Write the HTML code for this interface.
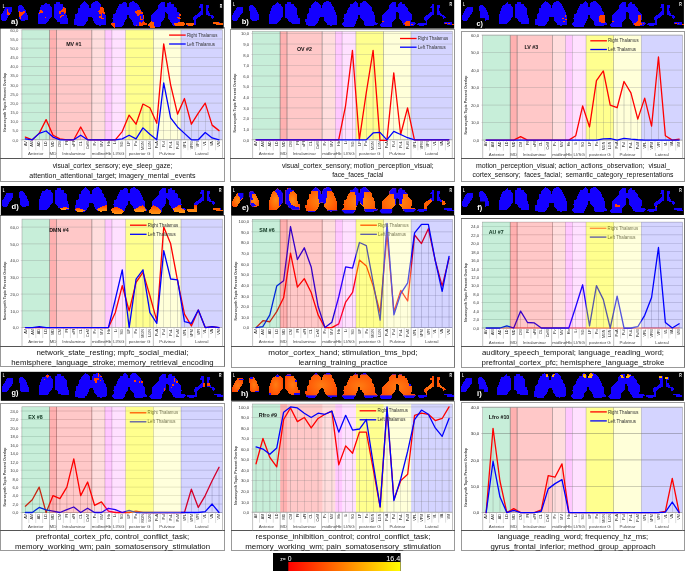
<!DOCTYPE html>
<html lang="en">
<head>
<meta charset="utf-8">
<title>Thalamic nuclei - Neurosynth topic overlap</title>
<style>
html,body{margin:0;padding:0;background:#fff;}
body{width:685px;height:571px;overflow:hidden;}
svg{display:block;font-family:"Liberation Sans", sans-serif;}
svg polygon{shape-rendering:crispEdges;}
</style>
</head>
<body>
<svg width="685" height="571" viewBox="0 0 685 571">
<defs>
<linearGradient id="gBar" x1="0" y1="0" x2="1" y2="0">
<stop offset="0" stop-color="#ff0000"/><stop offset="0.5" stop-color="#ff8000"/><stop offset="1" stop-color="#ffff00"/>
</linearGradient>
<linearGradient id="gO" x1="0" y1="0" x2="0" y2="1">
<stop offset="0" stop-color="#ff3a00"/><stop offset="0.55" stop-color="#ff7a08"/><stop offset="1" stop-color="#ff9414"/>
</linearGradient>
<radialGradient id="gE" cx="0.5" cy="0.55" r="0.6">
<stop offset="0" stop-color="#ff8c14"/><stop offset="0.55" stop-color="#ff6c08"/><stop offset="1" stop-color="#ff4800"/>
</radialGradient>
<radialGradient id="gH" cx="0.5" cy="0.5" r="0.65">
<stop offset="0" stop-color="#ff7c12"/><stop offset="0.55" stop-color="#ff5e08"/><stop offset="1" stop-color="#ff3e00"/>
</radialGradient>
<linearGradient id="gY" x1="0" y1="0" x2="0" y2="1">
<stop offset="0" stop-color="#ff7a00"/><stop offset="0.6" stop-color="#ffc000"/><stop offset="1" stop-color="#ffa000"/>
</linearGradient>
<clipPath id="clipMask"><polygon points="5.8,6.7 12.0,6.7 12.0,11.0 10.8,13.2 9.3,15.2 7.6,17.5 6.4,19.6 5.2,20.7 1.6,20.7 0.9,19.6 0.9,15.2 1.8,13.7 2.9,11.7 4.1,9.6 5.0,8.2"/><polygon points="19.0,5.3 21.9,5.3 23.1,6.7 24.2,8.2 25.1,9.6 26.0,11.7 26.6,13.4 27.6,15.2 27.6,20.4 20.7,20.7 19.0,18.7 19.0,13.4 18.4,11.7 17.7,9.6 17.7,6.7 18.4,5.8"/><polygon points="45.5,3.0 46.2,2.3 46.8,3.0 47.6,4.0 50.0,4.2 50.0,5.5 51.4,7.0 51.4,16.6 50.0,18.4 48.8,20.1 47.4,21.9 45.9,23.7 37.4,23.7 37.4,15.2 38.9,12.3 40.0,8.2 41.5,5.3 43.2,5.3 44.7,3.8"/><polygon points="55.8,2.3 59.6,2.3 59.6,3.8 62.5,4.1 62.5,5.8 64.0,7.0 65.4,8.5 65.4,15.2 66.9,15.5 66.9,18.1 68.1,18.4 68.1,23.7 60.2,23.7 59.9,22.2 57.3,21.9 57.0,20.1 55.5,18.7 54.0,17.5 54.0,4.4 55.8,3.8"/><polygon points="84.4,1.1 86.4,2.6 87.9,4.1 89.3,5.3 89.3,7.9 90.8,7.9 90.8,5.3 92.3,2.6 94.6,2.3 95.2,1.1 97.5,1.1 99.3,2.6 100.7,4.4 100.7,5.8 102.8,8.2 103.4,11.1 104.5,12.3 104.8,14.9 106.0,15.2 106.0,24.7 100.7,24.8 100.4,26.0 99.3,26.0 98.7,25.1 96.3,24.8 95.2,23.4 93.7,21.9 92.8,19.9 92.3,17.5 91.4,16.6 89.3,16.6 88.2,17.5 87.9,19.9 86.4,21.9 85.8,23.4 84.1,24.8 83.5,26.0 77.1,26.0 76.5,25.1 74.2,24.8 74.0,19.3 75.3,18.7 75.3,14.0 76.5,13.7 77.7,12.3 78.0,8.2 79.4,7.6 79.7,5.3 81.2,4.1 82.6,2.6"/><polygon points="123.8,1.1 125.9,2.6 127.0,2.9 127.0,6.7 128.8,6.7 128.8,2.9 130.8,2.3 132.0,1.1 133.8,1.1 135.5,2.6 137.3,4.4 138.7,5.8 140.2,7.6 140.8,10.5 142.2,12.3 142.5,14.6 144.0,15.2 144.0,21.6 146.6,23.9 145.4,24.8 142.5,25.1 141.9,26.0 134.3,26.0 132.9,24.5 132.6,21.9 131.4,20.4 130.3,18.7 128.8,17.5 128.8,15.2 127.0,15.2 127.0,18.1 125.6,19.9 124.4,21.9 124.1,24.5 122.7,26.0 121.8,27.4 113.3,27.4 111.9,26.0 110.1,24.2 112.7,21.9 113.0,19.6 111.6,18.7 113.0,17.5 113.0,14.0 114.5,13.7 115.7,12.3 116.0,10.5 117.4,7.6 118.6,5.8 118.9,4.1 121.5,3.8 122.7,2.3"/><polygon points="161.0,2.3 164.8,2.3 165.0,3.8 165.0,6.7 166.5,6.7 166.8,4.1 168.0,2.6 170.6,2.3 170.9,3.8 173.5,4.1 173.8,6.4 175.3,6.7 176.7,8.5 176.7,11.1 178.8,12.6 180.2,14.0 180.5,19.3 179.4,20.7 179.4,21.9 183.4,22.2 184.6,23.7 183.1,25.1 182.3,26.0 174.1,26.3 172.1,24.5 170.9,22.2 169.4,20.4 168.0,18.7 167.7,14.0 166.8,12.6 165.0,12.3 165.0,17.5 163.6,19.3 162.4,20.7 161.0,22.2 160.7,26.0 159.5,27.4 150.2,27.4 148.1,25.1 149.3,23.4 150.7,22.2 151.0,15.5 152.5,14.0 154.0,12.6 155.4,11.1 156.9,9.6 158.0,8.2 158.0,5.3 159.5,3.8"/></clipPath>
<clipPath id="clipH"><rect x="0" y="2.6" width="186" height="21"/><rect x="186" y="0" width="40" height="23.2"/></clipPath>
</defs>
<!-- panel a -->
<rect x="0.5" y="27.5" width="224.0" height="154.0" fill="#fff" stroke="#999" stroke-width="1"/>
<line x1="0.00" y1="158.50" x2="225.00" y2="158.50" stroke="#555" stroke-width="1"/>
<g transform="translate(0.0,0.0)">
<rect x="0.0" y="0.0" width="223.7" height="28.6" fill="#000"/>
<g transform="translate(0.1,0)">
<polygon points="5.8,6.7 12.0,6.7 12.0,11.0 10.8,13.2 9.3,15.2 7.6,17.5 6.4,19.6 5.2,20.7 1.6,20.7 0.9,19.6 0.9,15.2 1.8,13.7 2.9,11.7 4.1,9.6 5.0,8.2" fill="#1400ff"/>
<polygon points="19.0,5.3 21.9,5.3 23.1,6.7 24.2,8.2 25.1,9.6 26.0,11.7 26.6,13.4 27.6,15.2 27.6,20.4 20.7,20.7 19.0,18.7 19.0,13.4 18.4,11.7 17.7,9.6 17.7,6.7 18.4,5.8" fill="#1400ff"/>
<polygon points="45.5,3.0 46.2,2.3 46.8,3.0 47.6,4.0 50.0,4.2 50.0,5.5 51.4,7.0 51.4,16.6 50.0,18.4 48.8,20.1 47.4,21.9 45.9,23.7 37.4,23.7 37.4,15.2 38.9,12.3 40.0,8.2 41.5,5.3 43.2,5.3 44.7,3.8" fill="#1400ff"/>
<polygon points="55.8,2.3 59.6,2.3 59.6,3.8 62.5,4.1 62.5,5.8 64.0,7.0 65.4,8.5 65.4,15.2 66.9,15.5 66.9,18.1 68.1,18.4 68.1,23.7 60.2,23.7 59.9,22.2 57.3,21.9 57.0,20.1 55.5,18.7 54.0,17.5 54.0,4.4 55.8,3.8" fill="#1400ff"/>
<polygon points="84.4,1.1 86.4,2.6 87.9,4.1 89.3,5.3 89.3,7.9 90.8,7.9 90.8,5.3 92.3,2.6 94.6,2.3 95.2,1.1 97.5,1.1 99.3,2.6 100.7,4.4 100.7,5.8 102.8,8.2 103.4,11.1 104.5,12.3 104.8,14.9 106.0,15.2 106.0,24.7 100.7,24.8 100.4,26.0 99.3,26.0 98.7,25.1 96.3,24.8 95.2,23.4 93.7,21.9 92.8,19.9 92.3,17.5 91.4,16.6 89.3,16.6 88.2,17.5 87.9,19.9 86.4,21.9 85.8,23.4 84.1,24.8 83.5,26.0 77.1,26.0 76.5,25.1 74.2,24.8 74.0,19.3 75.3,18.7 75.3,14.0 76.5,13.7 77.7,12.3 78.0,8.2 79.4,7.6 79.7,5.3 81.2,4.1 82.6,2.6" fill="#1400ff"/>
<polygon points="123.8,1.1 125.9,2.6 127.0,2.9 127.0,6.7 128.8,6.7 128.8,2.9 130.8,2.3 132.0,1.1 133.8,1.1 135.5,2.6 137.3,4.4 138.7,5.8 140.2,7.6 140.8,10.5 142.2,12.3 142.5,14.6 144.0,15.2 144.0,21.6 146.6,23.9 145.4,24.8 142.5,25.1 141.9,26.0 134.3,26.0 132.9,24.5 132.6,21.9 131.4,20.4 130.3,18.7 128.8,17.5 128.8,15.2 127.0,15.2 127.0,18.1 125.6,19.9 124.4,21.9 124.1,24.5 122.7,26.0 121.8,27.4 113.3,27.4 111.9,26.0 110.1,24.2 112.7,21.9 113.0,19.6 111.6,18.7 113.0,17.5 113.0,14.0 114.5,13.7 115.7,12.3 116.0,10.5 117.4,7.6 118.6,5.8 118.9,4.1 121.5,3.8 122.7,2.3" fill="#1400ff"/>
<polygon points="161.0,2.3 164.8,2.3 165.0,3.8 165.0,6.7 166.5,6.7 166.8,4.1 168.0,2.6 170.6,2.3 170.9,3.8 173.5,4.1 173.8,6.4 175.3,6.7 176.7,8.5 176.7,11.1 178.8,12.6 180.2,14.0 180.5,19.3 179.4,20.7 179.4,21.9 183.4,22.2 184.6,23.7 183.1,25.1 182.3,26.0 174.1,26.3 172.1,24.5 170.9,22.2 169.4,20.4 168.0,18.7 167.7,14.0 166.8,12.6 165.0,12.3 165.0,17.5 163.6,19.3 162.4,20.7 161.0,22.2 160.7,26.0 159.5,27.4 150.2,27.4 148.1,25.1 149.3,23.4 150.7,22.2 151.0,15.5 152.5,14.0 154.0,12.6 155.4,11.1 156.9,9.6 158.0,8.2 158.0,5.3 159.5,3.8" fill="#1400ff"/>
<polygon points="200.1,4.0 202.8,4.0 202.8,14.7 201.3,15.0 199.5,16.6 197.9,17.8 196.1,19.6 195.8,24.8 194.2,24.8 194.2,20.8 193.0,20.2 193.0,17.2 194.5,15.6 196.1,15.3 197.6,13.8 199.1,12.3 200.4,11.3 200.4,8.3 198.8,8.0 198.8,6.7 200.1,6.1" fill="#1400ff"/>
<polygon points="186.3,23.3 195.8,23.0 195.8,24.8 192.7,25.1 192.7,26.1 188.1,26.1 186.0,24.5" fill="#1400ff"/>
<polygon points="205.9,5.2 208.7,5.2 208.7,7.7 207.4,8.0 207.4,10.7 208.7,11.0 208.7,13.2 210.2,13.8 210.2,14.7 212.9,15.0 212.9,16.2 214.2,16.9 214.2,17.8 212.9,18.1 212.9,19.3 211.4,19.3 211.4,17.8 210.2,16.2 208.7,15.9 207.4,15.0 205.9,14.7" fill="#1400ff"/>
<polygon points="212.9,22.1 220.3,22.1 220.3,23.6 222.1,23.6 222.1,24.8 216.0,24.8 216.0,23.6 212.9,23.6" fill="#1400ff"/>
<polygon points="6.7,9.3 7.9,9.3 8.2,12.0 9.6,12.6 9.6,14.6 7.0,14.9 6.7,11.7" fill="#ff4200"/>
<polygon points="19.3,11.4 21.9,12.0 23.4,11.4 25.1,11.1 25.1,13.1 23.4,14.0 21.9,15.2 21.0,16.9 20.7,19.3 19.9,19.3 19.3,16.4" fill="#ff4200"/>
<polygon points="40.3,9.6 41.7,9.6 42.0,11.1 43.2,11.4 42.9,12.6 40.5,12.6 40.3,14.0 38.8,14.0 38.8,12.3 40.3,11.7" fill="#ff4200"/>
<polygon points="44.5,16.5 46.0,16.5 46.0,18.0 44.5,18.0" fill="#ff4200"/>
<polygon points="63.0,6.7 64.2,6.7 64.5,8.2 65.9,8.5 65.9,12.6 64.2,14.0 63.9,15.8 62.4,16.4 61.0,16.9 61.0,18.1 59.8,18.1 59.8,16.6 61.0,15.2 60.7,14.0 58.9,13.7 58.6,11.7 60.4,11.1 61.9,9.6 63.0,8.2" fill="#ff4200"/>
<polygon points="61.2,12.4 63.4,12.4 63.4,14.6 61.2,14.6" fill="#1400ff"/>
<polygon points="100.9,6.7 102.4,6.7 103.8,8.5 103.8,11.1 105.0,12.3 105.0,13.7 103.5,14.0 102.4,12.6 102.1,14.0 102.4,17.5 103.5,18.1 103.5,19.3 101.8,19.3 100.6,17.8 99.2,17.5 99.2,15.8 100.6,15.5 100.6,14.0 99.2,13.7 99.2,12.3 98.0,12.0 98.0,11.1 99.4,9.6 99.4,8.2" fill="#ff4200"/>
<polygon points="110.3,23.7 111.8,23.1 114.7,23.4 115.0,27.7 113.5,27.7 113.0,26.3 111.2,25.1" fill="#ff4200"/>
<polygon points="134.3,11.1 136.9,10.8 138.1,9.6 140.1,9.9 141.3,11.7 142.7,12.3 142.7,14.0 141.3,14.3 139.8,14.6 138.4,16.4 137.2,16.1 136.9,14.0 135.4,12.6" fill="#ff4200"/>
<polygon points="139.8,16.4 141.3,16.4 141.3,20.4 139.8,20.4" fill="#ff4200"/>
<polygon points="143.0,15.2 144.2,15.2 144.2,19.3 143.0,19.3" fill="#ff4200"/>
<polygon points="141.3,18.7 143.0,18.7 143.0,20.4 141.3,20.4" fill="#ff4200"/>
<polygon points="138.9,22.2 140.7,22.2 141.3,23.4 143.0,21.0 144.2,21.3 145.4,22.8 146.8,23.7 146.5,25.1 143.0,25.4 142.5,26.0 138.9,26.0" fill="#ff4200"/>
<polygon points="135.7,24.8 137.2,24.8 137.2,26.0 135.7,26.0" fill="#ff4200"/>
<polygon points="148.3,24.5 150.1,22.2 151.8,21.0 153.6,22.5 153.9,25.7 155.3,26.0 155.3,27.7 150.1,27.7 149.8,26.0 148.3,25.7" fill="#ff5e00"/>
<polygon points="179.3,13.7 181.0,13.7 181.0,16.1 179.3,16.1" fill="#ff4200"/>
<polygon points="176.7,16.6 178.7,16.6 179.6,17.5 181.0,17.8 181.0,19.3 178.7,19.3 177.5,18.1 176.7,17.8" fill="#ff4200"/>
<polygon points="174.0,23.4 178.1,23.1 178.7,21.9 183.4,22.2 184.8,23.4 184.5,24.8 183.1,26.0 174.9,26.0 174.0,24.8" fill="#ff5e00"/>
<polygon points="146.0,23.4 146.9,23.4 146.9,24.8 146.0,24.8" fill="#ff4200"/>
<polygon points="186.1,23.2 193.8,23.0 193.8,25.0 192.0,25.8 188.0,25.8 186.1,24.5" fill="#ff5e00"/>
<polygon points="212.8,22.1 218.5,22.1 219.0,23.2 222.9,23.2 222.9,24.8 216.0,24.8 215.5,23.6 212.8,23.6" fill="#ff5e00"/>
</g>
<text x="2.8" y="7.8" font-size="5.2" font-weight="bold" fill="#fff" textLength="1.9" lengthAdjust="spacingAndGlyphs">L</text>
<text x="219.8" y="7.7" font-size="5.2" font-weight="bold" fill="#fff" textLength="2.5" lengthAdjust="spacingAndGlyphs">R</text>
<text x="11.0" y="23.9" font-size="7.7" font-weight="bold" fill="#fff" textLength="7.1" lengthAdjust="spacingAndGlyphs">a)</text>
</g>
<rect x="21.9" y="29.8" width="27.7" height="110.0" fill="#00b050" fill-opacity="0.220"/>
<rect x="49.6" y="29.8" width="6.9" height="110.0" fill="#ff0000" fill-opacity="0.310"/>
<rect x="56.5" y="29.8" width="35.3" height="110.0" fill="#ff0000" fill-opacity="0.215"/>
<rect x="91.8" y="29.8" width="13.1" height="110.0" fill="#ff0000" fill-opacity="0.135"/>
<rect x="104.9" y="29.8" width="6.9" height="110.0" fill="#ff00ff" fill-opacity="0.215"/>
<rect x="111.8" y="29.8" width="13.8" height="110.0" fill="#ff00ff" fill-opacity="0.120"/>
<rect x="125.7" y="29.8" width="27.7" height="110.0" fill="#ffff00" fill-opacity="0.440"/>
<rect x="153.3" y="29.8" width="27.7" height="110.0" fill="#ffff00" fill-opacity="0.150"/>
<rect x="181.0" y="29.8" width="41.5" height="110.0" fill="#0000ff" fill-opacity="0.170"/>
<line x1="20.60" y1="139.80" x2="222.50" y2="139.80" stroke="#777" stroke-width="0.5" opacity="0.62"/>
<text x="18.4" y="141.65" font-size="4.2" fill="#505050" text-anchor="end">0,0</text>
<line x1="20.60" y1="130.63" x2="222.50" y2="130.63" stroke="#7f7f7f" stroke-width="0.45" opacity="0.62"/>
<text x="18.4" y="132.48" font-size="4.2" fill="#505050" text-anchor="end">5,0</text>
<line x1="20.60" y1="121.47" x2="222.50" y2="121.47" stroke="#7f7f7f" stroke-width="0.45" opacity="0.62"/>
<text x="18.4" y="123.32" font-size="4.2" fill="#505050" text-anchor="end">10,0</text>
<line x1="20.60" y1="112.30" x2="222.50" y2="112.30" stroke="#7f7f7f" stroke-width="0.45" opacity="0.62"/>
<text x="18.4" y="114.15" font-size="4.2" fill="#505050" text-anchor="end">15,0</text>
<line x1="20.60" y1="103.13" x2="222.50" y2="103.13" stroke="#7f7f7f" stroke-width="0.45" opacity="0.62"/>
<text x="18.4" y="104.98" font-size="4.2" fill="#505050" text-anchor="end">20,0</text>
<line x1="20.60" y1="93.97" x2="222.50" y2="93.97" stroke="#7f7f7f" stroke-width="0.45" opacity="0.62"/>
<text x="18.4" y="95.82" font-size="4.2" fill="#505050" text-anchor="end">25,0</text>
<line x1="20.60" y1="84.80" x2="222.50" y2="84.80" stroke="#7f7f7f" stroke-width="0.45" opacity="0.62"/>
<text x="18.4" y="86.65" font-size="4.2" fill="#505050" text-anchor="end">30,0</text>
<line x1="20.60" y1="75.63" x2="222.50" y2="75.63" stroke="#7f7f7f" stroke-width="0.45" opacity="0.62"/>
<text x="18.4" y="77.48" font-size="4.2" fill="#505050" text-anchor="end">35,0</text>
<line x1="20.60" y1="66.47" x2="222.50" y2="66.47" stroke="#7f7f7f" stroke-width="0.45" opacity="0.62"/>
<text x="18.4" y="68.32" font-size="4.2" fill="#505050" text-anchor="end">40,0</text>
<line x1="20.60" y1="57.30" x2="222.50" y2="57.30" stroke="#7f7f7f" stroke-width="0.45" opacity="0.62"/>
<text x="18.4" y="59.15" font-size="4.2" fill="#505050" text-anchor="end">45,0</text>
<line x1="20.60" y1="48.13" x2="222.50" y2="48.13" stroke="#7f7f7f" stroke-width="0.45" opacity="0.62"/>
<text x="18.4" y="49.98" font-size="4.2" fill="#505050" text-anchor="end">50,0</text>
<line x1="20.60" y1="38.97" x2="222.50" y2="38.97" stroke="#7f7f7f" stroke-width="0.45" opacity="0.62"/>
<text x="18.4" y="40.82" font-size="4.2" fill="#505050" text-anchor="end">55,0</text>
<line x1="20.60" y1="29.80" x2="222.50" y2="29.80" stroke="#7f7f7f" stroke-width="0.45" opacity="0.62"/>
<text x="18.4" y="31.65" font-size="4.2" fill="#505050" text-anchor="end">60,0</text>
<line x1="25.36" y1="139.80" x2="25.36" y2="137.05" stroke="#666" stroke-width="0.35" opacity="0.75"/>
<line x1="39.19" y1="139.80" x2="39.19" y2="133.38" stroke="#666" stroke-width="0.35" opacity="0.75"/>
<line x1="46.11" y1="139.80" x2="46.11" y2="119.63" stroke="#666" stroke-width="0.35" opacity="0.75"/>
<line x1="53.03" y1="139.80" x2="53.03" y2="135.22" stroke="#666" stroke-width="0.35" opacity="0.75"/>
<line x1="80.70" y1="139.80" x2="80.70" y2="126.97" stroke="#666" stroke-width="0.35" opacity="0.75"/>
<line x1="122.20" y1="139.80" x2="122.20" y2="131.55" stroke="#666" stroke-width="0.35" opacity="0.75"/>
<line x1="129.12" y1="139.80" x2="129.12" y2="115.05" stroke="#666" stroke-width="0.35" opacity="0.75"/>
<line x1="136.03" y1="139.80" x2="136.03" y2="124.22" stroke="#666" stroke-width="0.35" opacity="0.75"/>
<line x1="142.95" y1="139.80" x2="142.95" y2="104.05" stroke="#666" stroke-width="0.35" opacity="0.75"/>
<line x1="149.87" y1="139.80" x2="149.87" y2="107.72" stroke="#666" stroke-width="0.35" opacity="0.75"/>
<line x1="156.79" y1="139.80" x2="156.79" y2="123.30" stroke="#666" stroke-width="0.35" opacity="0.75"/>
<line x1="163.70" y1="139.80" x2="163.70" y2="43.92" stroke="#666" stroke-width="0.35" opacity="0.75"/>
<line x1="170.62" y1="139.80" x2="170.62" y2="84.80" stroke="#666" stroke-width="0.35" opacity="0.75"/>
<line x1="177.54" y1="139.80" x2="177.54" y2="114.13" stroke="#666" stroke-width="0.35" opacity="0.75"/>
<line x1="184.46" y1="139.80" x2="184.46" y2="98.55" stroke="#666" stroke-width="0.35" opacity="0.75"/>
<line x1="191.37" y1="139.80" x2="191.37" y2="124.22" stroke="#666" stroke-width="0.35" opacity="0.75"/>
<line x1="198.29" y1="139.80" x2="198.29" y2="113.22" stroke="#666" stroke-width="0.35" opacity="0.75"/>
<line x1="205.21" y1="139.80" x2="205.21" y2="103.13" stroke="#666" stroke-width="0.35" opacity="0.75"/>
<line x1="212.12" y1="139.80" x2="212.12" y2="125.13" stroke="#666" stroke-width="0.35" opacity="0.75"/>
<line x1="219.04" y1="139.80" x2="219.04" y2="130.63" stroke="#666" stroke-width="0.35" opacity="0.75"/>
<line x1="49.57" y1="29.80" x2="49.57" y2="139.80" stroke="#555" stroke-width="0.55" opacity="0.85"/>
<line x1="56.49" y1="29.80" x2="56.49" y2="139.80" stroke="#555" stroke-width="0.55" opacity="0.85"/>
<line x1="91.77" y1="29.80" x2="91.77" y2="139.80" stroke="#555" stroke-width="0.55" opacity="0.85"/>
<line x1="104.91" y1="29.80" x2="104.91" y2="139.80" stroke="#777" stroke-width="0.4" opacity="0.85"/>
<line x1="111.82" y1="29.80" x2="111.82" y2="139.80" stroke="#777" stroke-width="0.4" opacity="0.85"/>
<line x1="125.66" y1="29.80" x2="125.66" y2="139.80" stroke="#777" stroke-width="0.4" opacity="0.85"/>
<line x1="153.33" y1="29.80" x2="153.33" y2="139.80" stroke="#777" stroke-width="0.55" opacity="0.85"/>
<line x1="181.00" y1="29.80" x2="181.00" y2="139.80" stroke="#777" stroke-width="0.4" opacity="0.85"/>
<rect x="21.9" y="29.8" width="200.6" height="110.0" fill="none" stroke="#999" stroke-width="0.5"/>
<line x1="21.90" y1="139.80" x2="21.90" y2="158.50" stroke="#999" stroke-width="0.6"/>
<line x1="28.82" y1="139.80" x2="28.82" y2="150.30" stroke="#bdbdbd" stroke-width="0.5"/>
<line x1="35.73" y1="139.80" x2="35.73" y2="150.30" stroke="#bdbdbd" stroke-width="0.5"/>
<line x1="42.65" y1="139.80" x2="42.65" y2="150.30" stroke="#bdbdbd" stroke-width="0.5"/>
<line x1="49.57" y1="139.80" x2="49.57" y2="158.50" stroke="#999" stroke-width="0.6"/>
<line x1="56.49" y1="139.80" x2="56.49" y2="158.50" stroke="#999" stroke-width="0.6"/>
<line x1="63.40" y1="139.80" x2="63.40" y2="150.30" stroke="#bdbdbd" stroke-width="0.5"/>
<line x1="70.32" y1="139.80" x2="70.32" y2="150.30" stroke="#bdbdbd" stroke-width="0.5"/>
<line x1="77.24" y1="139.80" x2="77.24" y2="150.30" stroke="#bdbdbd" stroke-width="0.5"/>
<line x1="84.16" y1="139.80" x2="84.16" y2="150.30" stroke="#bdbdbd" stroke-width="0.5"/>
<line x1="91.07" y1="139.80" x2="91.07" y2="158.50" stroke="#999" stroke-width="0.6"/>
<line x1="97.99" y1="139.80" x2="97.99" y2="150.30" stroke="#bdbdbd" stroke-width="0.5"/>
<line x1="104.91" y1="139.80" x2="104.91" y2="158.50" stroke="#999" stroke-width="0.6"/>
<line x1="111.82" y1="139.80" x2="111.82" y2="158.50" stroke="#999" stroke-width="0.6"/>
<line x1="118.74" y1="139.80" x2="118.74" y2="150.30" stroke="#bdbdbd" stroke-width="0.5"/>
<line x1="125.66" y1="139.80" x2="125.66" y2="158.50" stroke="#999" stroke-width="0.6"/>
<line x1="132.58" y1="139.80" x2="132.58" y2="150.30" stroke="#bdbdbd" stroke-width="0.5"/>
<line x1="139.49" y1="139.80" x2="139.49" y2="150.30" stroke="#bdbdbd" stroke-width="0.5"/>
<line x1="146.41" y1="139.80" x2="146.41" y2="150.30" stroke="#bdbdbd" stroke-width="0.5"/>
<line x1="153.33" y1="139.80" x2="153.33" y2="158.50" stroke="#999" stroke-width="0.6"/>
<line x1="160.24" y1="139.80" x2="160.24" y2="150.30" stroke="#bdbdbd" stroke-width="0.5"/>
<line x1="167.16" y1="139.80" x2="167.16" y2="150.30" stroke="#bdbdbd" stroke-width="0.5"/>
<line x1="174.08" y1="139.80" x2="174.08" y2="150.30" stroke="#bdbdbd" stroke-width="0.5"/>
<line x1="181.00" y1="139.80" x2="181.00" y2="158.50" stroke="#999" stroke-width="0.6"/>
<line x1="187.91" y1="139.80" x2="187.91" y2="150.30" stroke="#bdbdbd" stroke-width="0.5"/>
<line x1="194.83" y1="139.80" x2="194.83" y2="150.30" stroke="#bdbdbd" stroke-width="0.5"/>
<line x1="201.75" y1="139.80" x2="201.75" y2="150.30" stroke="#bdbdbd" stroke-width="0.5"/>
<line x1="208.67" y1="139.80" x2="208.67" y2="150.30" stroke="#bdbdbd" stroke-width="0.5"/>
<line x1="215.58" y1="139.80" x2="215.58" y2="150.30" stroke="#bdbdbd" stroke-width="0.5"/>
<line x1="222.50" y1="139.80" x2="222.50" y2="158.50" stroke="#999" stroke-width="0.6"/>
<text transform="translate(26.56,141.3) rotate(-90)" font-size="3.7" fill="#111" text-anchor="end">AV</text>
<text transform="translate(33.48,141.3) rotate(-90)" font-size="3.7" fill="#111" text-anchor="end">AM</text>
<text transform="translate(40.39,141.3) rotate(-90)" font-size="3.7" fill="#111" text-anchor="end">AD</text>
<text transform="translate(47.31,141.3) rotate(-90)" font-size="3.7" fill="#111" text-anchor="end">LD</text>
<text transform="translate(54.23,141.3) rotate(-90)" font-size="3.7" fill="#111" text-anchor="end">MD</text>
<text transform="translate(61.14,141.3) rotate(-90)" font-size="3.7" fill="#111" text-anchor="end">CM</text>
<text transform="translate(68.06,141.3) rotate(-90)" font-size="3.7" fill="#111" text-anchor="end">Pf</text>
<text transform="translate(74.98,141.3) rotate(-90)" font-size="3.7" fill="#111" text-anchor="end">sPf</text>
<text transform="translate(81.90,141.3) rotate(-90)" font-size="3.7" fill="#111" text-anchor="end">CL</text>
<text transform="translate(88.81,141.3) rotate(-90)" font-size="3.7" fill="#111" text-anchor="end">CeM</text>
<text transform="translate(95.73,141.3) rotate(-90)" font-size="3.7" fill="#111" text-anchor="end">Pv</text>
<text transform="translate(102.65,141.3) rotate(-90)" font-size="3.7" fill="#111" text-anchor="end">MV</text>
<text transform="translate(109.57,141.3) rotate(-90)" font-size="3.7" fill="#111" text-anchor="end">Hb</text>
<text transform="translate(116.48,141.3) rotate(-90)" font-size="3.7" fill="#111" text-anchor="end">Li</text>
<text transform="translate(123.40,141.3) rotate(-90)" font-size="3.7" fill="#111" text-anchor="end">SG</text>
<text transform="translate(130.32,141.3) rotate(-90)" font-size="3.7" fill="#111" text-anchor="end">LP</text>
<text transform="translate(137.23,141.3) rotate(-90)" font-size="3.7" fill="#111" text-anchor="end">Po</text>
<text transform="translate(144.15,141.3) rotate(-90)" font-size="3.7" fill="#111" text-anchor="end">MGN</text>
<text transform="translate(151.07,141.3) rotate(-90)" font-size="3.7" fill="#111" text-anchor="end">LGN</text>
<text transform="translate(157.99,141.3) rotate(-90)" font-size="3.7" fill="#111" text-anchor="end">PuA</text>
<text transform="translate(164.90,141.3) rotate(-90)" font-size="3.7" fill="#111" text-anchor="end">PuI</text>
<text transform="translate(171.82,141.3) rotate(-90)" font-size="3.7" fill="#111" text-anchor="end">PuL</text>
<text transform="translate(178.74,141.3) rotate(-90)" font-size="3.7" fill="#111" text-anchor="end">PuM</text>
<text transform="translate(185.66,141.3) rotate(-90)" font-size="3.7" fill="#111" text-anchor="end">VPL</text>
<text transform="translate(192.57,141.3) rotate(-90)" font-size="3.7" fill="#111" text-anchor="end">VPM</text>
<text transform="translate(199.49,141.3) rotate(-90)" font-size="3.7" fill="#111" text-anchor="end">VPI</text>
<text transform="translate(206.41,141.3) rotate(-90)" font-size="3.7" fill="#111" text-anchor="end">VL</text>
<text transform="translate(213.32,141.3) rotate(-90)" font-size="3.7" fill="#111" text-anchor="end">VA</text>
<text transform="translate(220.24,141.3) rotate(-90)" font-size="3.7" fill="#111" text-anchor="end">VM</text>
<text x="35.73" y="155.4" font-size="4.4" fill="#4a4a4a" text-anchor="middle">Anterior</text>
<text x="53.03" y="155.4" font-size="4.4" fill="#4a4a4a" text-anchor="middle">MD</text>
<text x="73.78" y="155.4" font-size="4.4" fill="#4a4a4a" text-anchor="middle">Intralaminar</text>
<text x="98.79" y="155.4" font-size="4.4" fill="#4a4a4a" text-anchor="middle">midline</text>
<text x="108.37" y="155.4" font-size="4.4" fill="#4a4a4a" text-anchor="middle">Hb</text>
<text x="118.74" y="155.4" font-size="4.4" fill="#4a4a4a" text-anchor="middle">LI/SG</text>
<text x="139.49" y="155.4" font-size="4.4" fill="#4a4a4a" text-anchor="middle">posterior G</text>
<text x="167.16" y="155.4" font-size="4.4" fill="#4a4a4a" text-anchor="middle">Pulvinar</text>
<text x="201.75" y="155.4" font-size="4.4" fill="#4a4a4a" text-anchor="middle">Lateral</text>
<text transform="translate(6.1,102.3) rotate(-90)" font-size="3.6" font-weight="bold" fill="#444" text-anchor="middle">Neurosynth Topic Percent Overlap</text>
<polyline points="25.36,137.05 32.28,139.80 39.19,133.38 46.11,119.63 53.03,135.22 59.94,138.88 66.86,139.80 73.78,139.80 80.70,126.97 87.61,139.80 94.53,139.80 101.45,139.80 108.37,139.80 115.28,139.80 122.20,131.55 129.12,115.05 136.03,124.22 142.95,104.05 149.87,107.72 156.79,123.30 163.70,43.92 170.62,84.80 177.54,114.13 184.46,98.55 191.37,124.22 198.29,113.22 205.21,103.13 212.12,125.13 219.04,130.63" fill="none" stroke="#ff0000" stroke-width="1.3" stroke-linejoin="round" stroke-linecap="round"/>
<polyline points="25.36,138.88 32.28,139.80 39.19,133.38 46.11,131.00 53.03,137.05 59.94,139.80 66.86,139.80 73.78,139.80 80.70,135.22 87.61,139.80 94.53,139.80 101.45,139.80 108.37,139.80 115.28,139.80 122.20,138.88 129.12,135.22 136.03,138.88 142.95,127.88 149.87,134.30 156.79,139.80 163.70,82.97 170.62,117.80 177.54,126.97 184.46,133.38 191.37,139.80 198.29,139.80 205.21,132.47 212.12,137.97 219.04,139.80" fill="none" stroke="#0000ff" stroke-width="1.3" stroke-linejoin="round" stroke-linecap="round"/>
<line x1="169.10" y1="35.10" x2="185.70" y2="35.10" stroke="#ff0000" stroke-width="1.3"/>
<line x1="169.10" y1="44.00" x2="185.70" y2="44.00" stroke="#0000ff" stroke-width="1.3"/>
<text x="186.9" y="36.7" font-size="4.6" fill="#333" textLength="30.5" lengthAdjust="spacingAndGlyphs">Right Thalamus</text>
<text x="186.9" y="45.6" font-size="4.6" fill="#333" textLength="28" lengthAdjust="spacingAndGlyphs">Left Thalamus</text>
<text x="73.8" y="46.0" font-size="5.3" font-weight="bold" fill="#111" text-anchor="middle">MV #1</text>
<text x="52.7" y="168.3" font-size="7.1" fill="#111" textLength="119.6" lengthAdjust="spacingAndGlyphs" style="white-space:pre">visual_cortex_sensory; eye_sleep_gaze;</text>
<text x="29.3" y="177.6" font-size="7.1" fill="#111" textLength="166.3" lengthAdjust="spacingAndGlyphs" style="white-space:pre">attention_attentional_target; imagery_mental _events</text>
<!-- panel b -->
<rect x="230.5" y="29.5" width="224.0" height="152.0" fill="#fff" stroke="#999" stroke-width="1"/>
<line x1="230.00" y1="158.50" x2="455.00" y2="158.50" stroke="#555" stroke-width="1"/>
<g transform="translate(231.1,0.0)">
<rect x="0.0" y="0.0" width="223.1" height="28.6" fill="#000"/>
<g transform="translate(0.3,0)">
<polygon points="5.8,6.7 12.0,6.7 12.0,11.0 10.8,13.2 9.3,15.2 7.6,17.5 6.4,19.6 5.2,20.7 1.6,20.7 0.9,19.6 0.9,15.2 1.8,13.7 2.9,11.7 4.1,9.6 5.0,8.2" fill="#1400ff"/>
<polygon points="19.0,5.3 21.9,5.3 23.1,6.7 24.2,8.2 25.1,9.6 26.0,11.7 26.6,13.4 27.6,15.2 27.6,20.4 20.7,20.7 19.0,18.7 19.0,13.4 18.4,11.7 17.7,9.6 17.7,6.7 18.4,5.8" fill="#1400ff"/>
<polygon points="45.5,3.0 46.2,2.3 46.8,3.0 47.6,4.0 50.0,4.2 50.0,5.5 51.4,7.0 51.4,16.6 50.0,18.4 48.8,20.1 47.4,21.9 45.9,23.7 37.4,23.7 37.4,15.2 38.9,12.3 40.0,8.2 41.5,5.3 43.2,5.3 44.7,3.8" fill="#1400ff"/>
<polygon points="55.8,2.3 59.6,2.3 59.6,3.8 62.5,4.1 62.5,5.8 64.0,7.0 65.4,8.5 65.4,15.2 66.9,15.5 66.9,18.1 68.1,18.4 68.1,23.7 60.2,23.7 59.9,22.2 57.3,21.9 57.0,20.1 55.5,18.7 54.0,17.5 54.0,4.4 55.8,3.8" fill="#1400ff"/>
<polygon points="84.4,1.1 86.4,2.6 87.9,4.1 89.3,5.3 89.3,7.9 90.8,7.9 90.8,5.3 92.3,2.6 94.6,2.3 95.2,1.1 97.5,1.1 99.3,2.6 100.7,4.4 100.7,5.8 102.8,8.2 103.4,11.1 104.5,12.3 104.8,14.9 106.0,15.2 106.0,24.7 100.7,24.8 100.4,26.0 99.3,26.0 98.7,25.1 96.3,24.8 95.2,23.4 93.7,21.9 92.8,19.9 92.3,17.5 91.4,16.6 89.3,16.6 88.2,17.5 87.9,19.9 86.4,21.9 85.8,23.4 84.1,24.8 83.5,26.0 77.1,26.0 76.5,25.1 74.2,24.8 74.0,19.3 75.3,18.7 75.3,14.0 76.5,13.7 77.7,12.3 78.0,8.2 79.4,7.6 79.7,5.3 81.2,4.1 82.6,2.6" fill="#1400ff"/>
<polygon points="123.8,1.1 125.9,2.6 127.0,2.9 127.0,6.7 128.8,6.7 128.8,2.9 130.8,2.3 132.0,1.1 133.8,1.1 135.5,2.6 137.3,4.4 138.7,5.8 140.2,7.6 140.8,10.5 142.2,12.3 142.5,14.6 144.0,15.2 144.0,21.6 146.6,23.9 145.4,24.8 142.5,25.1 141.9,26.0 134.3,26.0 132.9,24.5 132.6,21.9 131.4,20.4 130.3,18.7 128.8,17.5 128.8,15.2 127.0,15.2 127.0,18.1 125.6,19.9 124.4,21.9 124.1,24.5 122.7,26.0 121.8,27.4 113.3,27.4 111.9,26.0 110.1,24.2 112.7,21.9 113.0,19.6 111.6,18.7 113.0,17.5 113.0,14.0 114.5,13.7 115.7,12.3 116.0,10.5 117.4,7.6 118.6,5.8 118.9,4.1 121.5,3.8 122.7,2.3" fill="#1400ff"/>
<polygon points="161.0,2.3 164.8,2.3 165.0,3.8 165.0,6.7 166.5,6.7 166.8,4.1 168.0,2.6 170.6,2.3 170.9,3.8 173.5,4.1 173.8,6.4 175.3,6.7 176.7,8.5 176.7,11.1 178.8,12.6 180.2,14.0 180.5,19.3 179.4,20.7 179.4,21.9 183.4,22.2 184.6,23.7 183.1,25.1 182.3,26.0 174.1,26.3 172.1,24.5 170.9,22.2 169.4,20.4 168.0,18.7 167.7,14.0 166.8,12.6 165.0,12.3 165.0,17.5 163.6,19.3 162.4,20.7 161.0,22.2 160.7,26.0 159.5,27.4 150.2,27.4 148.1,25.1 149.3,23.4 150.7,22.2 151.0,15.5 152.5,14.0 154.0,12.6 155.4,11.1 156.9,9.6 158.0,8.2 158.0,5.3 159.5,3.8" fill="#1400ff"/>
<polygon points="200.1,4.0 202.8,4.0 202.8,14.7 201.3,15.0 199.5,16.6 197.9,17.8 196.1,19.6 195.8,24.8 194.2,24.8 194.2,20.8 193.0,20.2 193.0,17.2 194.5,15.6 196.1,15.3 197.6,13.8 199.1,12.3 200.4,11.3 200.4,8.3 198.8,8.0 198.8,6.7 200.1,6.1" fill="#1400ff"/>
<polygon points="186.3,23.3 195.8,23.0 195.8,24.8 192.7,25.1 192.7,26.1 188.1,26.1 186.0,24.5" fill="#1400ff"/>
<polygon points="205.9,5.2 208.7,5.2 208.7,7.7 207.4,8.0 207.4,10.7 208.7,11.0 208.7,13.2 210.2,13.8 210.2,14.7 212.9,15.0 212.9,16.2 214.2,16.9 214.2,17.8 212.9,18.1 212.9,19.3 211.4,19.3 211.4,17.8 210.2,16.2 208.7,15.9 207.4,15.0 205.9,14.7" fill="#1400ff"/>
<polygon points="212.9,22.1 220.3,22.1 220.3,23.6 222.1,23.6 222.1,24.8 216.0,24.8 216.0,23.6 212.9,23.6" fill="#1400ff"/>
<polygon points="172.5,23.0 175.0,21.5 178.5,21.0 179.0,24.0 178.0,26.0 174.0,25.5" fill="#ff4200"/>
<polygon points="150.8,20.5 152.5,20.5 152.5,22.0 150.8,22.0" fill="#ff4200"/>
<polygon points="214.0,22.5 215.6,22.5 215.6,23.8 214.0,23.8" fill="#ff4200"/>
<polygon points="217.0,23.0 218.2,23.0 218.2,24.2 217.0,24.2" fill="#ff4200"/>
<polygon points="221.0,23.6 222.3,23.6 222.3,24.8 221.0,24.8" fill="#ff4200"/>
<polygon points="180.0,24.0 181.5,24.0 181.5,25.4 180.0,25.4" fill="#ff4200"/>
</g>
<text x="1.9" y="5.7" font-size="5.2" font-weight="bold" fill="#fff" textLength="1.9" lengthAdjust="spacingAndGlyphs">L</text>
<text x="218.5" y="5.6" font-size="5.2" font-weight="bold" fill="#fff" textLength="2.5" lengthAdjust="spacingAndGlyphs">R</text>
<text x="10.6" y="23.7" font-size="7.7" font-weight="bold" fill="#fff" textLength="7.2" lengthAdjust="spacingAndGlyphs">b)</text>
</g>
<rect x="252.6" y="31.2" width="27.5" height="108.6" fill="#00b050" fill-opacity="0.220"/>
<rect x="280.1" y="31.2" width="6.9" height="108.6" fill="#ff0000" fill-opacity="0.310"/>
<rect x="287.0" y="31.2" width="35.1" height="108.6" fill="#ff0000" fill-opacity="0.215"/>
<rect x="322.2" y="31.2" width="13.1" height="108.6" fill="#ff0000" fill-opacity="0.135"/>
<rect x="335.2" y="31.2" width="6.9" height="108.6" fill="#ff00ff" fill-opacity="0.215"/>
<rect x="342.1" y="31.2" width="13.8" height="108.6" fill="#ff00ff" fill-opacity="0.120"/>
<rect x="355.9" y="31.2" width="27.5" height="108.6" fill="#ffff00" fill-opacity="0.440"/>
<rect x="383.4" y="31.2" width="27.5" height="108.6" fill="#ffff00" fill-opacity="0.150"/>
<rect x="411.0" y="31.2" width="41.3" height="108.6" fill="#0000ff" fill-opacity="0.170"/>
<line x1="251.30" y1="139.85" x2="452.30" y2="139.85" stroke="#777" stroke-width="0.5" opacity="0.62"/>
<text x="249.1" y="141.70" font-size="4.2" fill="#3c3c3c" text-anchor="end">0,0</text>
<line x1="251.30" y1="129.20" x2="452.30" y2="129.20" stroke="#7f7f7f" stroke-width="0.45" opacity="0.62"/>
<text x="249.1" y="131.05" font-size="4.2" fill="#3c3c3c" text-anchor="end">1,0</text>
<line x1="251.30" y1="118.56" x2="452.30" y2="118.56" stroke="#7f7f7f" stroke-width="0.45" opacity="0.62"/>
<text x="249.1" y="120.41" font-size="4.2" fill="#3c3c3c" text-anchor="end">2,0</text>
<line x1="251.30" y1="107.91" x2="452.30" y2="107.91" stroke="#7f7f7f" stroke-width="0.45" opacity="0.62"/>
<text x="249.1" y="109.76" font-size="4.2" fill="#3c3c3c" text-anchor="end">3,0</text>
<line x1="251.30" y1="97.27" x2="452.30" y2="97.27" stroke="#7f7f7f" stroke-width="0.45" opacity="0.62"/>
<text x="249.1" y="99.12" font-size="4.2" fill="#3c3c3c" text-anchor="end">4,0</text>
<line x1="251.30" y1="86.62" x2="452.30" y2="86.62" stroke="#7f7f7f" stroke-width="0.45" opacity="0.62"/>
<text x="249.1" y="88.47" font-size="4.2" fill="#3c3c3c" text-anchor="end">5,0</text>
<line x1="251.30" y1="75.98" x2="452.30" y2="75.98" stroke="#7f7f7f" stroke-width="0.45" opacity="0.62"/>
<text x="249.1" y="77.83" font-size="4.2" fill="#3c3c3c" text-anchor="end">6,0</text>
<line x1="251.30" y1="65.33" x2="452.30" y2="65.33" stroke="#7f7f7f" stroke-width="0.45" opacity="0.62"/>
<text x="249.1" y="67.18" font-size="4.2" fill="#3c3c3c" text-anchor="end">7,0</text>
<line x1="251.30" y1="54.69" x2="452.30" y2="54.69" stroke="#7f7f7f" stroke-width="0.45" opacity="0.62"/>
<text x="249.1" y="56.54" font-size="4.2" fill="#3c3c3c" text-anchor="end">8,0</text>
<line x1="251.30" y1="44.05" x2="452.30" y2="44.05" stroke="#7f7f7f" stroke-width="0.45" opacity="0.62"/>
<text x="249.1" y="45.90" font-size="4.2" fill="#3c3c3c" text-anchor="end">9,0</text>
<line x1="251.30" y1="33.40" x2="452.30" y2="33.40" stroke="#7f7f7f" stroke-width="0.45" opacity="0.62"/>
<text x="249.1" y="35.25" font-size="4.2" fill="#3c3c3c" text-anchor="end">10,0</text>
<line x1="345.56" y1="139.85" x2="345.56" y2="105.79" stroke="#666" stroke-width="0.35" opacity="0.75"/>
<line x1="352.45" y1="139.85" x2="352.45" y2="50.43" stroke="#666" stroke-width="0.35" opacity="0.75"/>
<line x1="366.22" y1="139.85" x2="366.22" y2="93.01" stroke="#666" stroke-width="0.35" opacity="0.75"/>
<line x1="373.11" y1="139.85" x2="373.11" y2="50.43" stroke="#666" stroke-width="0.35" opacity="0.75"/>
<line x1="379.99" y1="139.85" x2="379.99" y2="132.40" stroke="#666" stroke-width="0.35" opacity="0.75"/>
<line x1="393.77" y1="139.85" x2="393.77" y2="72.79" stroke="#666" stroke-width="0.35" opacity="0.75"/>
<line x1="400.65" y1="139.85" x2="400.65" y2="134.53" stroke="#666" stroke-width="0.35" opacity="0.75"/>
<line x1="407.54" y1="139.85" x2="407.54" y2="107.91" stroke="#666" stroke-width="0.35" opacity="0.75"/>
<line x1="280.14" y1="31.20" x2="280.14" y2="139.85" stroke="#555" stroke-width="0.55" opacity="0.85"/>
<line x1="287.03" y1="31.20" x2="287.03" y2="139.85" stroke="#555" stroke-width="0.55" opacity="0.85"/>
<line x1="322.16" y1="31.20" x2="322.16" y2="139.85" stroke="#555" stroke-width="0.55" opacity="0.85"/>
<line x1="335.23" y1="31.20" x2="335.23" y2="139.85" stroke="#777" stroke-width="0.4" opacity="0.85"/>
<line x1="342.12" y1="31.20" x2="342.12" y2="139.85" stroke="#777" stroke-width="0.4" opacity="0.85"/>
<line x1="355.89" y1="31.20" x2="355.89" y2="139.85" stroke="#777" stroke-width="0.4" opacity="0.85"/>
<line x1="383.44" y1="31.20" x2="383.44" y2="139.85" stroke="#777" stroke-width="0.55" opacity="0.85"/>
<line x1="410.98" y1="31.20" x2="410.98" y2="139.85" stroke="#777" stroke-width="0.4" opacity="0.85"/>
<rect x="252.6" y="31.2" width="199.7" height="108.6" fill="none" stroke="#999" stroke-width="0.5"/>
<line x1="252.60" y1="139.85" x2="252.60" y2="158.50" stroke="#999" stroke-width="0.6"/>
<line x1="259.49" y1="139.85" x2="259.49" y2="150.35" stroke="#bdbdbd" stroke-width="0.5"/>
<line x1="266.37" y1="139.85" x2="266.37" y2="150.35" stroke="#bdbdbd" stroke-width="0.5"/>
<line x1="273.26" y1="139.85" x2="273.26" y2="150.35" stroke="#bdbdbd" stroke-width="0.5"/>
<line x1="280.14" y1="139.85" x2="280.14" y2="158.50" stroke="#999" stroke-width="0.6"/>
<line x1="287.03" y1="139.85" x2="287.03" y2="158.50" stroke="#999" stroke-width="0.6"/>
<line x1="293.92" y1="139.85" x2="293.92" y2="150.35" stroke="#bdbdbd" stroke-width="0.5"/>
<line x1="300.80" y1="139.85" x2="300.80" y2="150.35" stroke="#bdbdbd" stroke-width="0.5"/>
<line x1="307.69" y1="139.85" x2="307.69" y2="150.35" stroke="#bdbdbd" stroke-width="0.5"/>
<line x1="314.58" y1="139.85" x2="314.58" y2="150.35" stroke="#bdbdbd" stroke-width="0.5"/>
<line x1="321.46" y1="139.85" x2="321.46" y2="158.50" stroke="#999" stroke-width="0.6"/>
<line x1="328.35" y1="139.85" x2="328.35" y2="150.35" stroke="#bdbdbd" stroke-width="0.5"/>
<line x1="335.23" y1="139.85" x2="335.23" y2="158.50" stroke="#999" stroke-width="0.6"/>
<line x1="342.12" y1="139.85" x2="342.12" y2="158.50" stroke="#999" stroke-width="0.6"/>
<line x1="349.01" y1="139.85" x2="349.01" y2="150.35" stroke="#bdbdbd" stroke-width="0.5"/>
<line x1="355.89" y1="139.85" x2="355.89" y2="158.50" stroke="#999" stroke-width="0.6"/>
<line x1="362.78" y1="139.85" x2="362.78" y2="150.35" stroke="#bdbdbd" stroke-width="0.5"/>
<line x1="369.67" y1="139.85" x2="369.67" y2="150.35" stroke="#bdbdbd" stroke-width="0.5"/>
<line x1="376.55" y1="139.85" x2="376.55" y2="150.35" stroke="#bdbdbd" stroke-width="0.5"/>
<line x1="383.44" y1="139.85" x2="383.44" y2="158.50" stroke="#999" stroke-width="0.6"/>
<line x1="390.32" y1="139.85" x2="390.32" y2="150.35" stroke="#bdbdbd" stroke-width="0.5"/>
<line x1="397.21" y1="139.85" x2="397.21" y2="150.35" stroke="#bdbdbd" stroke-width="0.5"/>
<line x1="404.10" y1="139.85" x2="404.10" y2="150.35" stroke="#bdbdbd" stroke-width="0.5"/>
<line x1="410.98" y1="139.85" x2="410.98" y2="158.50" stroke="#999" stroke-width="0.6"/>
<line x1="417.87" y1="139.85" x2="417.87" y2="150.35" stroke="#bdbdbd" stroke-width="0.5"/>
<line x1="424.76" y1="139.85" x2="424.76" y2="150.35" stroke="#bdbdbd" stroke-width="0.5"/>
<line x1="431.64" y1="139.85" x2="431.64" y2="150.35" stroke="#bdbdbd" stroke-width="0.5"/>
<line x1="438.53" y1="139.85" x2="438.53" y2="150.35" stroke="#bdbdbd" stroke-width="0.5"/>
<line x1="445.41" y1="139.85" x2="445.41" y2="150.35" stroke="#bdbdbd" stroke-width="0.5"/>
<line x1="452.30" y1="139.85" x2="452.30" y2="158.50" stroke="#999" stroke-width="0.6"/>
<text transform="translate(257.24,141.3) rotate(-90)" font-size="3.7" fill="#111" text-anchor="end">AV</text>
<text transform="translate(264.13,141.3) rotate(-90)" font-size="3.7" fill="#111" text-anchor="end">AM</text>
<text transform="translate(271.02,141.3) rotate(-90)" font-size="3.7" fill="#111" text-anchor="end">AD</text>
<text transform="translate(277.90,141.3) rotate(-90)" font-size="3.7" fill="#111" text-anchor="end">LD</text>
<text transform="translate(284.79,141.3) rotate(-90)" font-size="3.7" fill="#111" text-anchor="end">MD</text>
<text transform="translate(291.67,141.3) rotate(-90)" font-size="3.7" fill="#111" text-anchor="end">CM</text>
<text transform="translate(298.56,141.3) rotate(-90)" font-size="3.7" fill="#111" text-anchor="end">Pf</text>
<text transform="translate(305.45,141.3) rotate(-90)" font-size="3.7" fill="#111" text-anchor="end">sPf</text>
<text transform="translate(312.33,141.3) rotate(-90)" font-size="3.7" fill="#111" text-anchor="end">CL</text>
<text transform="translate(319.22,141.3) rotate(-90)" font-size="3.7" fill="#111" text-anchor="end">CeM</text>
<text transform="translate(326.11,141.3) rotate(-90)" font-size="3.7" fill="#111" text-anchor="end">Pv</text>
<text transform="translate(332.99,141.3) rotate(-90)" font-size="3.7" fill="#111" text-anchor="end">MV</text>
<text transform="translate(339.88,141.3) rotate(-90)" font-size="3.7" fill="#111" text-anchor="end">Hb</text>
<text transform="translate(346.76,141.3) rotate(-90)" font-size="3.7" fill="#111" text-anchor="end">Li</text>
<text transform="translate(353.65,141.3) rotate(-90)" font-size="3.7" fill="#111" text-anchor="end">SG</text>
<text transform="translate(360.54,141.3) rotate(-90)" font-size="3.7" fill="#111" text-anchor="end">LP</text>
<text transform="translate(367.42,141.3) rotate(-90)" font-size="3.7" fill="#111" text-anchor="end">Po</text>
<text transform="translate(374.31,141.3) rotate(-90)" font-size="3.7" fill="#111" text-anchor="end">MGN</text>
<text transform="translate(381.19,141.3) rotate(-90)" font-size="3.7" fill="#111" text-anchor="end">LGN</text>
<text transform="translate(388.08,141.3) rotate(-90)" font-size="3.7" fill="#111" text-anchor="end">PuA</text>
<text transform="translate(394.97,141.3) rotate(-90)" font-size="3.7" fill="#111" text-anchor="end">PuI</text>
<text transform="translate(401.85,141.3) rotate(-90)" font-size="3.7" fill="#111" text-anchor="end">PuL</text>
<text transform="translate(408.74,141.3) rotate(-90)" font-size="3.7" fill="#111" text-anchor="end">PuM</text>
<text transform="translate(415.63,141.3) rotate(-90)" font-size="3.7" fill="#111" text-anchor="end">VPL</text>
<text transform="translate(422.51,141.3) rotate(-90)" font-size="3.7" fill="#111" text-anchor="end">VPM</text>
<text transform="translate(429.40,141.3) rotate(-90)" font-size="3.7" fill="#111" text-anchor="end">VPI</text>
<text transform="translate(436.28,141.3) rotate(-90)" font-size="3.7" fill="#111" text-anchor="end">VL</text>
<text transform="translate(443.17,141.3) rotate(-90)" font-size="3.7" fill="#111" text-anchor="end">VA</text>
<text transform="translate(450.06,141.3) rotate(-90)" font-size="3.7" fill="#111" text-anchor="end">VM</text>
<text x="266.37" y="155.4" font-size="4.4" fill="#4a4a4a" text-anchor="middle">Anterior</text>
<text x="283.59" y="155.4" font-size="4.4" fill="#4a4a4a" text-anchor="middle">MD</text>
<text x="304.25" y="155.4" font-size="4.4" fill="#4a4a4a" text-anchor="middle">Intralaminar</text>
<text x="329.15" y="155.4" font-size="4.4" fill="#4a4a4a" text-anchor="middle">midline</text>
<text x="338.68" y="155.4" font-size="4.4" fill="#4a4a4a" text-anchor="middle">Hb</text>
<text x="349.01" y="155.4" font-size="4.4" fill="#4a4a4a" text-anchor="middle">LI/SG</text>
<text x="369.67" y="155.4" font-size="4.4" fill="#4a4a4a" text-anchor="middle">posterior G</text>
<text x="397.21" y="155.4" font-size="4.4" fill="#4a4a4a" text-anchor="middle">Pulvinar</text>
<text x="431.64" y="155.4" font-size="4.4" fill="#4a4a4a" text-anchor="middle">Lateral</text>
<text transform="translate(236.1,103.0) rotate(-90)" font-size="3.6" font-weight="bold" fill="#444" text-anchor="middle">Neurosynth Topic Percent Overlap</text>
<polyline points="256.04,139.85 262.93,139.85 269.82,139.85 276.70,139.85 283.59,139.85 290.47,139.85 297.36,139.85 304.25,139.85 311.13,139.85 318.02,139.85 324.91,139.85 331.79,139.85 338.68,139.85 345.56,105.79 352.45,50.43 359.34,139.85 366.22,93.01 373.11,50.43 379.99,140.38 386.88,140.38 393.77,72.79 400.65,134.53 407.54,107.91 414.43,139.85 421.31,139.85 428.20,139.85 435.08,139.85 441.97,139.85 448.86,139.85" fill="none" stroke="#ff0000" stroke-width="1.3" stroke-linejoin="round" stroke-linecap="round"/>
<polyline points="256.04,139.85 262.93,139.85 269.82,139.85 276.70,139.85 283.59,139.85 290.47,139.85 297.36,139.85 304.25,139.85 311.13,139.85 318.02,139.85 324.91,139.85 331.79,139.85 338.68,139.85 345.56,139.85 352.45,139.85 359.34,139.85 366.22,139.85 373.11,132.93 379.99,132.40 386.88,139.85 393.77,131.33 400.65,134.53 407.54,137.72 414.43,139.85 421.31,139.85 428.20,139.85 435.08,139.85 441.97,139.85 448.86,139.85" fill="none" stroke="#0000ff" stroke-width="1.3" stroke-linejoin="round" stroke-linecap="round"/>
<line x1="400.00" y1="38.50" x2="416.60" y2="38.50" stroke="#ff0000" stroke-width="1.3"/>
<line x1="400.00" y1="47.20" x2="416.60" y2="47.20" stroke="#0000ff" stroke-width="1.3"/>
<text x="417.8" y="40.1" font-size="4.6" fill="#333" textLength="30.5" lengthAdjust="spacingAndGlyphs">Right Thalamus</text>
<text x="417.8" y="48.8" font-size="4.6" fill="#333" textLength="28" lengthAdjust="spacingAndGlyphs">Left Thalamus</text>
<text x="304.5" y="51.3" font-size="5.3" font-weight="bold" fill="#111" text-anchor="middle">OV #2</text>
<text x="281.9" y="168.2" font-size="7.1" fill="#111" textLength="151.8" lengthAdjust="spacingAndGlyphs" style="white-space:pre">visual_cortex_sensory; motion_perception_visual;</text>
<text x="332.2" y="177.4" font-size="7.1" fill="#111" textLength="51.1" lengthAdjust="spacingAndGlyphs" style="white-space:pre">face_faces_facial</text>
<!-- panel c -->
<rect x="461.5" y="31.5" width="223.0" height="150.0" fill="#fff" stroke="#999" stroke-width="1"/>
<line x1="461.00" y1="158.50" x2="685.00" y2="158.50" stroke="#555" stroke-width="1"/>
<g transform="translate(461.0,0.0)">
<rect x="0.0" y="0.0" width="222.9" height="28.6" fill="#000"/>
<g transform="translate(0.3,0)">
<polygon points="5.8,6.7 12.0,6.7 12.0,11.0 10.8,13.2 9.3,15.2 7.6,17.5 6.4,19.6 5.2,20.7 1.6,20.7 0.9,19.6 0.9,15.2 1.8,13.7 2.9,11.7 4.1,9.6 5.0,8.2" fill="#1400ff"/>
<polygon points="19.0,5.3 21.9,5.3 23.1,6.7 24.2,8.2 25.1,9.6 26.0,11.7 26.6,13.4 27.6,15.2 27.6,20.4 20.7,20.7 19.0,18.7 19.0,13.4 18.4,11.7 17.7,9.6 17.7,6.7 18.4,5.8" fill="#1400ff"/>
<polygon points="45.5,3.0 46.2,2.3 46.8,3.0 47.6,4.0 50.0,4.2 50.0,5.5 51.4,7.0 51.4,16.6 50.0,18.4 48.8,20.1 47.4,21.9 45.9,23.7 37.4,23.7 37.4,15.2 38.9,12.3 40.0,8.2 41.5,5.3 43.2,5.3 44.7,3.8" fill="#1400ff"/>
<polygon points="55.8,2.3 59.6,2.3 59.6,3.8 62.5,4.1 62.5,5.8 64.0,7.0 65.4,8.5 65.4,15.2 66.9,15.5 66.9,18.1 68.1,18.4 68.1,23.7 60.2,23.7 59.9,22.2 57.3,21.9 57.0,20.1 55.5,18.7 54.0,17.5 54.0,4.4 55.8,3.8" fill="#1400ff"/>
<polygon points="84.4,1.1 86.4,2.6 87.9,4.1 89.3,5.3 89.3,7.9 90.8,7.9 90.8,5.3 92.3,2.6 94.6,2.3 95.2,1.1 97.5,1.1 99.3,2.6 100.7,4.4 100.7,5.8 102.8,8.2 103.4,11.1 104.5,12.3 104.8,14.9 106.0,15.2 106.0,24.7 100.7,24.8 100.4,26.0 99.3,26.0 98.7,25.1 96.3,24.8 95.2,23.4 93.7,21.9 92.8,19.9 92.3,17.5 91.4,16.6 89.3,16.6 88.2,17.5 87.9,19.9 86.4,21.9 85.8,23.4 84.1,24.8 83.5,26.0 77.1,26.0 76.5,25.1 74.2,24.8 74.0,19.3 75.3,18.7 75.3,14.0 76.5,13.7 77.7,12.3 78.0,8.2 79.4,7.6 79.7,5.3 81.2,4.1 82.6,2.6" fill="#1400ff"/>
<polygon points="123.8,1.1 125.9,2.6 127.0,2.9 127.0,6.7 128.8,6.7 128.8,2.9 130.8,2.3 132.0,1.1 133.8,1.1 135.5,2.6 137.3,4.4 138.7,5.8 140.2,7.6 140.8,10.5 142.2,12.3 142.5,14.6 144.0,15.2 144.0,21.6 146.6,23.9 145.4,24.8 142.5,25.1 141.9,26.0 134.3,26.0 132.9,24.5 132.6,21.9 131.4,20.4 130.3,18.7 128.8,17.5 128.8,15.2 127.0,15.2 127.0,18.1 125.6,19.9 124.4,21.9 124.1,24.5 122.7,26.0 121.8,27.4 113.3,27.4 111.9,26.0 110.1,24.2 112.7,21.9 113.0,19.6 111.6,18.7 113.0,17.5 113.0,14.0 114.5,13.7 115.7,12.3 116.0,10.5 117.4,7.6 118.6,5.8 118.9,4.1 121.5,3.8 122.7,2.3" fill="#1400ff"/>
<polygon points="161.0,2.3 164.8,2.3 165.0,3.8 165.0,6.7 166.5,6.7 166.8,4.1 168.0,2.6 170.6,2.3 170.9,3.8 173.5,4.1 173.8,6.4 175.3,6.7 176.7,8.5 176.7,11.1 178.8,12.6 180.2,14.0 180.5,19.3 179.4,20.7 179.4,21.9 183.4,22.2 184.6,23.7 183.1,25.1 182.3,26.0 174.1,26.3 172.1,24.5 170.9,22.2 169.4,20.4 168.0,18.7 167.7,14.0 166.8,12.6 165.0,12.3 165.0,17.5 163.6,19.3 162.4,20.7 161.0,22.2 160.7,26.0 159.5,27.4 150.2,27.4 148.1,25.1 149.3,23.4 150.7,22.2 151.0,15.5 152.5,14.0 154.0,12.6 155.4,11.1 156.9,9.6 158.0,8.2 158.0,5.3 159.5,3.8" fill="#1400ff"/>
<polygon points="200.1,4.0 202.8,4.0 202.8,14.7 201.3,15.0 199.5,16.6 197.9,17.8 196.1,19.6 195.8,24.8 194.2,24.8 194.2,20.8 193.0,20.2 193.0,17.2 194.5,15.6 196.1,15.3 197.6,13.8 199.1,12.3 200.4,11.3 200.4,8.3 198.8,8.0 198.8,6.7 200.1,6.1" fill="#1400ff"/>
<polygon points="186.3,23.3 195.8,23.0 195.8,24.8 192.7,25.1 192.7,26.1 188.1,26.1 186.0,24.5" fill="#1400ff"/>
<polygon points="205.9,5.2 208.7,5.2 208.7,7.7 207.4,8.0 207.4,10.7 208.7,11.0 208.7,13.2 210.2,13.8 210.2,14.7 212.9,15.0 212.9,16.2 214.2,16.9 214.2,17.8 212.9,18.1 212.9,19.3 211.4,19.3 211.4,17.8 210.2,16.2 208.7,15.9 207.4,15.0 205.9,14.7" fill="#1400ff"/>
<polygon points="212.9,22.1 220.3,22.1 220.3,23.6 222.1,23.6 222.1,24.8 216.0,24.8 216.0,23.6 212.9,23.6" fill="#1400ff"/>
<polygon points="100.5,17.5 102.5,17.5 102.5,18.8 100.5,18.8" fill="#ff4200"/>
<polygon points="103.5,15.0 105.0,15.0 105.0,17.0 103.5,17.0" fill="#ff4200"/>
<polygon points="103.8,18.5 105.5,18.5 105.5,20.2 103.8,20.2" fill="#ff4200"/>
<polygon points="102.0,20.5 103.5,20.5 103.5,21.8 102.0,21.8" fill="#ff4200"/>
<polygon points="137.5,16.5 140.0,15.0 143.5,15.5 144.2,19.0 143.5,22.5 140.0,23.0 137.3,21.0" fill="#ff4200"/>
<polygon points="176.5,15.5 179.0,15.0 180.3,18.0 179.5,22.0 181.0,24.0 178.0,26.0 173.5,25.5 172.5,23.5 176.0,22.0 176.5,19.0" fill="#ff4200"/>
<polygon points="150.8,20.5 152.5,20.5 152.5,22.0 150.8,22.0" fill="#ff4200"/>
<polygon points="214.0,22.5 215.6,22.5 215.6,23.8 214.0,23.8" fill="#ff4200"/>
<polygon points="217.0,23.0 218.2,23.0 218.2,24.2 217.0,24.2" fill="#ff4200"/>
<polygon points="221.0,23.6 222.3,23.6 222.3,24.8 221.0,24.8" fill="#ff4200"/>
<polygon points="181.3,22.5 182.8,22.5 182.8,24.0 181.3,24.0" fill="#ff4200"/>
</g>
<text x="1.9" y="5.7" font-size="5.2" font-weight="bold" fill="#fff" textLength="1.9" lengthAdjust="spacingAndGlyphs">L</text>
<text x="218.3" y="5.6" font-size="5.2" font-weight="bold" fill="#fff" textLength="2.5" lengthAdjust="spacingAndGlyphs">R</text>
<rect x="14.0" y="18.1" width="10.0" height="10.3" fill="#000"/>
<text x="15.5" y="26.2" font-size="7.7" font-weight="bold" fill="#fff" textLength="6.4" lengthAdjust="spacingAndGlyphs">c)</text>
</g>
<rect x="482.7" y="35.1" width="27.6" height="105.0" fill="#00b050" fill-opacity="0.220"/>
<rect x="510.3" y="35.1" width="6.9" height="105.0" fill="#ff0000" fill-opacity="0.310"/>
<rect x="517.2" y="35.1" width="35.2" height="105.0" fill="#ff0000" fill-opacity="0.215"/>
<rect x="552.3" y="35.1" width="13.1" height="105.0" fill="#ff0000" fill-opacity="0.135"/>
<rect x="565.4" y="35.1" width="6.9" height="105.0" fill="#ff00ff" fill-opacity="0.215"/>
<rect x="572.3" y="35.1" width="13.8" height="105.0" fill="#ff00ff" fill-opacity="0.120"/>
<rect x="586.1" y="35.1" width="27.6" height="105.0" fill="#ffff00" fill-opacity="0.440"/>
<rect x="613.7" y="35.1" width="27.6" height="105.0" fill="#ffff00" fill-opacity="0.150"/>
<rect x="641.2" y="35.1" width="41.4" height="105.0" fill="#0000ff" fill-opacity="0.170"/>
<line x1="481.40" y1="140.10" x2="682.60" y2="140.10" stroke="#777" stroke-width="0.5" opacity="0.62"/>
<text x="479.2" y="141.95" font-size="4.2" fill="#3c3c3c" text-anchor="end">0,0</text>
<line x1="481.40" y1="122.60" x2="682.60" y2="122.60" stroke="#7f7f7f" stroke-width="0.45" opacity="0.62"/>
<text x="479.2" y="124.45" font-size="4.2" fill="#3c3c3c" text-anchor="end">10,0</text>
<line x1="481.40" y1="105.10" x2="682.60" y2="105.10" stroke="#7f7f7f" stroke-width="0.45" opacity="0.62"/>
<text x="479.2" y="106.95" font-size="4.2" fill="#3c3c3c" text-anchor="end">20,0</text>
<line x1="481.40" y1="87.60" x2="682.60" y2="87.60" stroke="#7f7f7f" stroke-width="0.45" opacity="0.62"/>
<text x="479.2" y="89.45" font-size="4.2" fill="#3c3c3c" text-anchor="end">30,0</text>
<line x1="481.40" y1="70.10" x2="682.60" y2="70.10" stroke="#7f7f7f" stroke-width="0.45" opacity="0.62"/>
<text x="479.2" y="71.95" font-size="4.2" fill="#3c3c3c" text-anchor="end">40,0</text>
<line x1="481.40" y1="52.60" x2="682.60" y2="52.60" stroke="#7f7f7f" stroke-width="0.45" opacity="0.62"/>
<text x="479.2" y="54.45" font-size="4.2" fill="#3c3c3c" text-anchor="end">50,0</text>
<line x1="481.40" y1="35.10" x2="682.60" y2="35.10" stroke="#7f7f7f" stroke-width="0.45" opacity="0.62"/>
<text x="479.2" y="36.95" font-size="4.2" fill="#3c3c3c" text-anchor="end">60,0</text>
<line x1="520.61" y1="140.10" x2="520.61" y2="136.60" stroke="#666" stroke-width="0.35" opacity="0.75"/>
<line x1="575.76" y1="140.10" x2="575.76" y2="135.72" stroke="#666" stroke-width="0.35" opacity="0.75"/>
<line x1="582.65" y1="140.10" x2="582.65" y2="105.97" stroke="#666" stroke-width="0.35" opacity="0.75"/>
<line x1="589.54" y1="140.10" x2="589.54" y2="126.97" stroke="#666" stroke-width="0.35" opacity="0.75"/>
<line x1="596.44" y1="140.10" x2="596.44" y2="80.60" stroke="#666" stroke-width="0.35" opacity="0.75"/>
<line x1="603.33" y1="140.10" x2="603.33" y2="70.97" stroke="#666" stroke-width="0.35" opacity="0.75"/>
<line x1="610.22" y1="140.10" x2="610.22" y2="105.10" stroke="#666" stroke-width="0.35" opacity="0.75"/>
<line x1="617.12" y1="140.10" x2="617.12" y2="107.72" stroke="#666" stroke-width="0.35" opacity="0.75"/>
<line x1="624.01" y1="140.10" x2="624.01" y2="81.47" stroke="#666" stroke-width="0.35" opacity="0.75"/>
<line x1="630.90" y1="140.10" x2="630.90" y2="92.85" stroke="#666" stroke-width="0.35" opacity="0.75"/>
<line x1="637.79" y1="140.10" x2="637.79" y2="119.10" stroke="#666" stroke-width="0.35" opacity="0.75"/>
<line x1="644.69" y1="140.10" x2="644.69" y2="98.10" stroke="#666" stroke-width="0.35" opacity="0.75"/>
<line x1="651.58" y1="140.10" x2="651.58" y2="126.10" stroke="#666" stroke-width="0.35" opacity="0.75"/>
<line x1="658.47" y1="140.10" x2="658.47" y2="56.97" stroke="#666" stroke-width="0.35" opacity="0.75"/>
<line x1="665.37" y1="140.10" x2="665.37" y2="135.72" stroke="#666" stroke-width="0.35" opacity="0.75"/>
<line x1="510.27" y1="35.10" x2="510.27" y2="140.10" stroke="#555" stroke-width="0.55" opacity="0.85"/>
<line x1="517.17" y1="35.10" x2="517.17" y2="140.10" stroke="#555" stroke-width="0.55" opacity="0.85"/>
<line x1="552.33" y1="35.10" x2="552.33" y2="140.10" stroke="#555" stroke-width="0.55" opacity="0.85"/>
<line x1="565.42" y1="35.10" x2="565.42" y2="140.10" stroke="#777" stroke-width="0.4" opacity="0.85"/>
<line x1="572.31" y1="35.10" x2="572.31" y2="140.10" stroke="#777" stroke-width="0.4" opacity="0.85"/>
<line x1="586.10" y1="35.10" x2="586.10" y2="140.10" stroke="#777" stroke-width="0.4" opacity="0.85"/>
<line x1="613.67" y1="35.10" x2="613.67" y2="140.10" stroke="#777" stroke-width="0.55" opacity="0.85"/>
<line x1="641.24" y1="35.10" x2="641.24" y2="140.10" stroke="#777" stroke-width="0.4" opacity="0.85"/>
<rect x="482.7" y="35.1" width="199.9" height="105.0" fill="none" stroke="#999" stroke-width="0.5"/>
<line x1="482.70" y1="140.10" x2="482.70" y2="158.50" stroke="#999" stroke-width="0.6"/>
<line x1="489.59" y1="140.10" x2="489.59" y2="150.60" stroke="#bdbdbd" stroke-width="0.5"/>
<line x1="496.49" y1="140.10" x2="496.49" y2="150.60" stroke="#bdbdbd" stroke-width="0.5"/>
<line x1="503.38" y1="140.10" x2="503.38" y2="150.60" stroke="#bdbdbd" stroke-width="0.5"/>
<line x1="510.27" y1="140.10" x2="510.27" y2="158.50" stroke="#999" stroke-width="0.6"/>
<line x1="517.17" y1="140.10" x2="517.17" y2="158.50" stroke="#999" stroke-width="0.6"/>
<line x1="524.06" y1="140.10" x2="524.06" y2="150.60" stroke="#bdbdbd" stroke-width="0.5"/>
<line x1="530.95" y1="140.10" x2="530.95" y2="150.60" stroke="#bdbdbd" stroke-width="0.5"/>
<line x1="537.84" y1="140.10" x2="537.84" y2="150.60" stroke="#bdbdbd" stroke-width="0.5"/>
<line x1="544.74" y1="140.10" x2="544.74" y2="150.60" stroke="#bdbdbd" stroke-width="0.5"/>
<line x1="551.63" y1="140.10" x2="551.63" y2="158.50" stroke="#999" stroke-width="0.6"/>
<line x1="558.52" y1="140.10" x2="558.52" y2="150.60" stroke="#bdbdbd" stroke-width="0.5"/>
<line x1="565.42" y1="140.10" x2="565.42" y2="158.50" stroke="#999" stroke-width="0.6"/>
<line x1="572.31" y1="140.10" x2="572.31" y2="158.50" stroke="#999" stroke-width="0.6"/>
<line x1="579.20" y1="140.10" x2="579.20" y2="150.60" stroke="#bdbdbd" stroke-width="0.5"/>
<line x1="586.10" y1="140.10" x2="586.10" y2="158.50" stroke="#999" stroke-width="0.6"/>
<line x1="592.99" y1="140.10" x2="592.99" y2="150.60" stroke="#bdbdbd" stroke-width="0.5"/>
<line x1="599.88" y1="140.10" x2="599.88" y2="150.60" stroke="#bdbdbd" stroke-width="0.5"/>
<line x1="606.78" y1="140.10" x2="606.78" y2="150.60" stroke="#bdbdbd" stroke-width="0.5"/>
<line x1="613.67" y1="140.10" x2="613.67" y2="158.50" stroke="#999" stroke-width="0.6"/>
<line x1="620.56" y1="140.10" x2="620.56" y2="150.60" stroke="#bdbdbd" stroke-width="0.5"/>
<line x1="627.46" y1="140.10" x2="627.46" y2="150.60" stroke="#bdbdbd" stroke-width="0.5"/>
<line x1="634.35" y1="140.10" x2="634.35" y2="150.60" stroke="#bdbdbd" stroke-width="0.5"/>
<line x1="641.24" y1="140.10" x2="641.24" y2="158.50" stroke="#999" stroke-width="0.6"/>
<line x1="648.13" y1="140.10" x2="648.13" y2="150.60" stroke="#bdbdbd" stroke-width="0.5"/>
<line x1="655.03" y1="140.10" x2="655.03" y2="150.60" stroke="#bdbdbd" stroke-width="0.5"/>
<line x1="661.92" y1="140.10" x2="661.92" y2="150.60" stroke="#bdbdbd" stroke-width="0.5"/>
<line x1="668.81" y1="140.10" x2="668.81" y2="150.60" stroke="#bdbdbd" stroke-width="0.5"/>
<line x1="675.71" y1="140.10" x2="675.71" y2="150.60" stroke="#bdbdbd" stroke-width="0.5"/>
<line x1="682.60" y1="140.10" x2="682.60" y2="158.50" stroke="#999" stroke-width="0.6"/>
<text transform="translate(487.35,141.6) rotate(-90)" font-size="3.7" fill="#111" text-anchor="end">AV</text>
<text transform="translate(494.24,141.6) rotate(-90)" font-size="3.7" fill="#111" text-anchor="end">AM</text>
<text transform="translate(501.13,141.6) rotate(-90)" font-size="3.7" fill="#111" text-anchor="end">AD</text>
<text transform="translate(508.03,141.6) rotate(-90)" font-size="3.7" fill="#111" text-anchor="end">LD</text>
<text transform="translate(514.92,141.6) rotate(-90)" font-size="3.7" fill="#111" text-anchor="end">MD</text>
<text transform="translate(521.81,141.6) rotate(-90)" font-size="3.7" fill="#111" text-anchor="end">CM</text>
<text transform="translate(528.71,141.6) rotate(-90)" font-size="3.7" fill="#111" text-anchor="end">Pf</text>
<text transform="translate(535.60,141.6) rotate(-90)" font-size="3.7" fill="#111" text-anchor="end">sPf</text>
<text transform="translate(542.49,141.6) rotate(-90)" font-size="3.7" fill="#111" text-anchor="end">CL</text>
<text transform="translate(549.38,141.6) rotate(-90)" font-size="3.7" fill="#111" text-anchor="end">CeM</text>
<text transform="translate(556.28,141.6) rotate(-90)" font-size="3.7" fill="#111" text-anchor="end">Pv</text>
<text transform="translate(563.17,141.6) rotate(-90)" font-size="3.7" fill="#111" text-anchor="end">MV</text>
<text transform="translate(570.06,141.6) rotate(-90)" font-size="3.7" fill="#111" text-anchor="end">Hb</text>
<text transform="translate(576.96,141.6) rotate(-90)" font-size="3.7" fill="#111" text-anchor="end">Li</text>
<text transform="translate(583.85,141.6) rotate(-90)" font-size="3.7" fill="#111" text-anchor="end">SG</text>
<text transform="translate(590.74,141.6) rotate(-90)" font-size="3.7" fill="#111" text-anchor="end">LP</text>
<text transform="translate(597.64,141.6) rotate(-90)" font-size="3.7" fill="#111" text-anchor="end">Po</text>
<text transform="translate(604.53,141.6) rotate(-90)" font-size="3.7" fill="#111" text-anchor="end">MGN</text>
<text transform="translate(611.42,141.6) rotate(-90)" font-size="3.7" fill="#111" text-anchor="end">LGN</text>
<text transform="translate(618.32,141.6) rotate(-90)" font-size="3.7" fill="#111" text-anchor="end">PuA</text>
<text transform="translate(625.21,141.6) rotate(-90)" font-size="3.7" fill="#111" text-anchor="end">PuI</text>
<text transform="translate(632.10,141.6) rotate(-90)" font-size="3.7" fill="#111" text-anchor="end">PuL</text>
<text transform="translate(638.99,141.6) rotate(-90)" font-size="3.7" fill="#111" text-anchor="end">PuM</text>
<text transform="translate(645.89,141.6) rotate(-90)" font-size="3.7" fill="#111" text-anchor="end">VPL</text>
<text transform="translate(652.78,141.6) rotate(-90)" font-size="3.7" fill="#111" text-anchor="end">VPM</text>
<text transform="translate(659.67,141.6) rotate(-90)" font-size="3.7" fill="#111" text-anchor="end">VPI</text>
<text transform="translate(666.57,141.6) rotate(-90)" font-size="3.7" fill="#111" text-anchor="end">VL</text>
<text transform="translate(673.46,141.6) rotate(-90)" font-size="3.7" fill="#111" text-anchor="end">VA</text>
<text transform="translate(680.35,141.6) rotate(-90)" font-size="3.7" fill="#111" text-anchor="end">VM</text>
<text x="496.49" y="155.7" font-size="4.4" fill="#4a4a4a" text-anchor="middle">Anterior</text>
<text x="513.72" y="155.7" font-size="4.4" fill="#4a4a4a" text-anchor="middle">MD</text>
<text x="534.40" y="155.7" font-size="4.4" fill="#4a4a4a" text-anchor="middle">Intralaminar</text>
<text x="559.32" y="155.7" font-size="4.4" fill="#4a4a4a" text-anchor="middle">midline</text>
<text x="568.86" y="155.7" font-size="4.4" fill="#4a4a4a" text-anchor="middle">Hb</text>
<text x="579.20" y="155.7" font-size="4.4" fill="#4a4a4a" text-anchor="middle">LI/SG</text>
<text x="599.88" y="155.7" font-size="4.4" fill="#4a4a4a" text-anchor="middle">posterior G</text>
<text x="627.46" y="155.7" font-size="4.4" fill="#4a4a4a" text-anchor="middle">Pulvinar</text>
<text x="661.92" y="155.7" font-size="4.4" fill="#4a4a4a" text-anchor="middle">Lateral</text>
<text transform="translate(467.1,105.1) rotate(-90)" font-size="3.6" font-weight="bold" fill="#444" text-anchor="middle">Neurosynth Topic Percent Overlap</text>
<polyline points="486.15,140.10 493.04,140.10 499.93,140.10 506.83,140.10 513.72,140.10 520.61,136.60 527.51,140.10 534.40,140.10 541.29,140.10 548.18,140.10 555.08,140.10 561.97,140.10 568.86,140.10 575.76,135.72 582.65,105.97 589.54,126.97 596.44,80.60 603.33,70.97 610.22,105.10 617.12,107.72 624.01,81.47 630.90,92.85 637.79,119.10 644.69,98.10 651.58,126.10 658.47,56.97 665.37,135.72 672.26,140.10 679.15,139.22" fill="none" stroke="#ff0000" stroke-width="1.3" stroke-linejoin="round" stroke-linecap="round"/>
<polyline points="486.15,140.10 493.04,140.10 499.93,140.10 506.83,140.10 513.72,140.10 520.61,140.10 527.51,140.10 534.40,140.10 541.29,140.10 548.18,140.10 555.08,140.10 561.97,140.10 568.86,140.10 575.76,140.10 582.65,140.10 589.54,140.10 596.44,140.10 603.33,138.88 610.22,138.70 617.12,140.10 624.01,138.35 630.90,139.22 637.79,139.75 644.69,140.10 651.58,140.10 658.47,140.10 665.37,140.10 672.26,140.10 679.15,140.10" fill="none" stroke="#0000ff" stroke-width="1.3" stroke-linejoin="round" stroke-linecap="round"/>
<line x1="590.30" y1="40.80" x2="606.90" y2="40.80" stroke="#ff0000" stroke-width="1.3"/>
<line x1="590.30" y1="49.50" x2="606.90" y2="49.50" stroke="#0000ff" stroke-width="1.3"/>
<text x="608.1" y="42.4" font-size="4.6" fill="#333" textLength="30.5" lengthAdjust="spacingAndGlyphs">Right Thalamus</text>
<text x="608.1" y="51.1" font-size="4.6" fill="#333" textLength="28" lengthAdjust="spacingAndGlyphs">Left Thalamus</text>
<text x="531.3" y="49.3" font-size="5.3" font-weight="bold" fill="#111" text-anchor="middle">LV #3</text>
<text x="475.9" y="168.2" font-size="7.1" fill="#111" textLength="194.1" lengthAdjust="spacingAndGlyphs" style="white-space:pre">motion_perception_visual; action_actions_observation;  visual_</text>
<text x="472.6" y="177.2" font-size="7.1" fill="#111" textLength="200.8" lengthAdjust="spacingAndGlyphs" style="white-space:pre">cortex_sensory;  faces_facial;  semantic_category_representations</text>
<!-- panel d -->
<rect x="0.5" y="215.5" width="224.0" height="151.0" fill="#fff" stroke="#999" stroke-width="1"/>
<line x1="0.00" y1="215.50" x2="225.00" y2="215.50" stroke="#5a5a5a" stroke-width="1"/>
<line x1="224.50" y1="215.50" x2="224.50" y2="366.50" stroke="#777" stroke-width="1"/>
<line x1="0.00" y1="346.50" x2="225.00" y2="346.50" stroke="#555" stroke-width="1"/>
<g transform="translate(0.8,186.0)">
<rect x="0.0" y="0.0" width="222.9" height="29.0" fill="#000"/>
<g transform="translate(0.3,0)">
<polygon points="5.8,6.7 12.0,6.7 12.0,11.0 10.8,13.2 9.3,15.2 7.6,17.5 6.4,19.6 5.2,20.7 1.6,20.7 0.9,19.6 0.9,15.2 1.8,13.7 2.9,11.7 4.1,9.6 5.0,8.2" fill="#1400ff"/>
<polygon points="19.0,5.3 21.9,5.3 23.1,6.7 24.2,8.2 25.1,9.6 26.0,11.7 26.6,13.4 27.6,15.2 27.6,20.4 20.7,20.7 19.0,18.7 19.0,13.4 18.4,11.7 17.7,9.6 17.7,6.7 18.4,5.8" fill="#1400ff"/>
<polygon points="45.5,3.0 46.2,2.3 46.8,3.0 47.6,4.0 50.0,4.2 50.0,5.5 51.4,7.0 51.4,16.6 50.0,18.4 48.8,20.1 47.4,21.9 45.9,23.7 37.4,23.7 37.4,15.2 38.9,12.3 40.0,8.2 41.5,5.3 43.2,5.3 44.7,3.8" fill="#1400ff"/>
<polygon points="55.8,2.3 59.6,2.3 59.6,3.8 62.5,4.1 62.5,5.8 64.0,7.0 65.4,8.5 65.4,15.2 66.9,15.5 66.9,18.1 68.1,18.4 68.1,23.7 60.2,23.7 59.9,22.2 57.3,21.9 57.0,20.1 55.5,18.7 54.0,17.5 54.0,4.4 55.8,3.8" fill="#1400ff"/>
<polygon points="84.4,1.1 86.4,2.6 87.9,4.1 89.3,5.3 89.3,7.9 90.8,7.9 90.8,5.3 92.3,2.6 94.6,2.3 95.2,1.1 97.5,1.1 99.3,2.6 100.7,4.4 100.7,5.8 102.8,8.2 103.4,11.1 104.5,12.3 104.8,14.9 106.0,15.2 106.0,24.7 100.7,24.8 100.4,26.0 99.3,26.0 98.7,25.1 96.3,24.8 95.2,23.4 93.7,21.9 92.8,19.9 92.3,17.5 91.4,16.6 89.3,16.6 88.2,17.5 87.9,19.9 86.4,21.9 85.8,23.4 84.1,24.8 83.5,26.0 77.1,26.0 76.5,25.1 74.2,24.8 74.0,19.3 75.3,18.7 75.3,14.0 76.5,13.7 77.7,12.3 78.0,8.2 79.4,7.6 79.7,5.3 81.2,4.1 82.6,2.6" fill="#1400ff"/>
<polygon points="123.8,1.1 125.9,2.6 127.0,2.9 127.0,6.7 128.8,6.7 128.8,2.9 130.8,2.3 132.0,1.1 133.8,1.1 135.5,2.6 137.3,4.4 138.7,5.8 140.2,7.6 140.8,10.5 142.2,12.3 142.5,14.6 144.0,15.2 144.0,21.6 146.6,23.9 145.4,24.8 142.5,25.1 141.9,26.0 134.3,26.0 132.9,24.5 132.6,21.9 131.4,20.4 130.3,18.7 128.8,17.5 128.8,15.2 127.0,15.2 127.0,18.1 125.6,19.9 124.4,21.9 124.1,24.5 122.7,26.0 121.8,27.4 113.3,27.4 111.9,26.0 110.1,24.2 112.7,21.9 113.0,19.6 111.6,18.7 113.0,17.5 113.0,14.0 114.5,13.7 115.7,12.3 116.0,10.5 117.4,7.6 118.6,5.8 118.9,4.1 121.5,3.8 122.7,2.3" fill="#1400ff"/>
<polygon points="161.0,2.3 164.8,2.3 165.0,3.8 165.0,6.7 166.5,6.7 166.8,4.1 168.0,2.6 170.6,2.3 170.9,3.8 173.5,4.1 173.8,6.4 175.3,6.7 176.7,8.5 176.7,11.1 178.8,12.6 180.2,14.0 180.5,19.3 179.4,20.7 179.4,21.9 183.4,22.2 184.6,23.7 183.1,25.1 182.3,26.0 174.1,26.3 172.1,24.5 170.9,22.2 169.4,20.4 168.0,18.7 167.7,14.0 166.8,12.6 165.0,12.3 165.0,17.5 163.6,19.3 162.4,20.7 161.0,22.2 160.7,26.0 159.5,27.4 150.2,27.4 148.1,25.1 149.3,23.4 150.7,22.2 151.0,15.5 152.5,14.0 154.0,12.6 155.4,11.1 156.9,9.6 158.0,8.2 158.0,5.3 159.5,3.8" fill="#1400ff"/>
<polygon points="200.1,4.0 202.8,4.0 202.8,14.7 201.3,15.0 199.5,16.6 197.9,17.8 196.1,19.6 195.8,24.8 194.2,24.8 194.2,20.8 193.0,20.2 193.0,17.2 194.5,15.6 196.1,15.3 197.6,13.8 199.1,12.3 200.4,11.3 200.4,8.3 198.8,8.0 198.8,6.7 200.1,6.1" fill="#1400ff"/>
<polygon points="186.3,23.3 195.8,23.0 195.8,24.8 192.7,25.1 192.7,26.1 188.1,26.1 186.0,24.5" fill="#1400ff"/>
<polygon points="205.9,5.2 208.7,5.2 208.7,7.7 207.4,8.0 207.4,10.7 208.7,11.0 208.7,13.2 210.2,13.8 210.2,14.7 212.9,15.0 212.9,16.2 214.2,16.9 214.2,17.8 212.9,18.1 212.9,19.3 211.4,19.3 211.4,17.8 210.2,16.2 208.7,15.9 207.4,15.0 205.9,14.7" fill="#1400ff"/>
<polygon points="212.9,22.1 220.3,22.1 220.3,23.6 222.1,23.6 222.1,24.8 216.0,24.8 216.0,23.6 212.9,23.6" fill="#1400ff"/>
<polygon points="59.0,22.2 62.8,21.3 65.1,20.8 67.5,22.2 67.5,23.4 60.4,23.7" fill="url(#gO)"/>
<polygon points="73.3,23.4 75.6,22.0 79.1,22.4 82.6,23.9 84.4,23.4 83.8,25.1 80.3,25.9 75.6,25.5" fill="url(#gO)"/>
<polygon points="96.1,22.8 99.0,21.6 101.9,19.9 105.4,19.3 105.8,24.5 99.6,25.7 96.7,24.5" fill="url(#gO)"/>
<polygon points="109.8,23.9 112.2,21.6 115.1,20.8 118.6,22.2 121.5,23.9 122.7,25.7 120.9,27.5 113.9,28.0 111.0,26.3" fill="url(#gO)"/>
<polygon points="132.0,23.9 135.5,22.2 138.4,20.4 141.9,19.3 143.7,21.6 145.4,23.9 144.3,25.1 140.8,25.9 134.9,25.9" fill="url(#gO)"/>
<polygon points="147.8,25.1 150.1,21.6 151.9,19.3 154.8,20.4 158.3,22.8 160.6,25.1 158.9,27.5 151.3,28.0 148.4,26.9" fill="url(#gO)"/>
<polygon points="171.2,22.8 174.7,21.0 178.2,18.7 179.9,19.3 179.9,21.6 182.8,23.4 184.0,25.1 183.5,26.5 178.2,26.5 173.5,25.9" fill="url(#gO)"/>
<polygon points="192.9,19.3 195.7,19.3 195.7,26.3 188.9,26.3 185.9,24.8 185.9,23.1 192.9,23.1" fill="url(#gO)"/>
<polygon points="211.8,22.1 218.9,22.1 218.9,23.5 222.0,23.5 222.0,24.9 214.6,24.9 214.6,23.5 211.8,23.5" fill="#ff5e00"/>
</g>
<text x="1.9" y="5.7" font-size="5.2" font-weight="bold" fill="#fff" textLength="1.9" lengthAdjust="spacingAndGlyphs">L</text>
<text x="218.3" y="5.6" font-size="5.2" font-weight="bold" fill="#fff" textLength="2.5" lengthAdjust="spacingAndGlyphs">R</text>
<text x="10.8" y="23.4" font-size="7.7" font-weight="bold" fill="#fff" textLength="7.2" lengthAdjust="spacingAndGlyphs">d)</text>
</g>
<rect x="22.0" y="219.1" width="27.7" height="108.5" fill="#00b050" fill-opacity="0.220"/>
<rect x="49.7" y="219.1" width="6.9" height="108.5" fill="#ff0000" fill-opacity="0.310"/>
<rect x="56.6" y="219.1" width="35.3" height="108.5" fill="#ff0000" fill-opacity="0.215"/>
<rect x="91.8" y="219.1" width="13.1" height="108.5" fill="#ff0000" fill-opacity="0.135"/>
<rect x="105.0" y="219.1" width="6.9" height="108.5" fill="#ff00ff" fill-opacity="0.215"/>
<rect x="111.9" y="219.1" width="13.8" height="108.5" fill="#ff00ff" fill-opacity="0.120"/>
<rect x="125.7" y="219.1" width="27.7" height="108.5" fill="#ffff00" fill-opacity="0.440"/>
<rect x="153.4" y="219.1" width="27.7" height="108.5" fill="#ffff00" fill-opacity="0.150"/>
<rect x="181.0" y="219.1" width="41.5" height="108.5" fill="#0000ff" fill-opacity="0.170"/>
<line x1="20.70" y1="327.60" x2="222.50" y2="327.60" stroke="#777" stroke-width="0.5" opacity="0.62"/>
<text x="18.5" y="329.45" font-size="4.2" fill="#3c3c3c" text-anchor="end">0,0</text>
<line x1="20.70" y1="310.85" x2="222.50" y2="310.85" stroke="#7f7f7f" stroke-width="0.45" opacity="0.62"/>
<text x="18.5" y="312.70" font-size="4.2" fill="#3c3c3c" text-anchor="end">10,0</text>
<line x1="20.70" y1="294.10" x2="222.50" y2="294.10" stroke="#7f7f7f" stroke-width="0.45" opacity="0.62"/>
<text x="18.5" y="295.95" font-size="4.2" fill="#3c3c3c" text-anchor="end">20,0</text>
<line x1="20.70" y1="277.35" x2="222.50" y2="277.35" stroke="#7f7f7f" stroke-width="0.45" opacity="0.62"/>
<text x="18.5" y="279.20" font-size="4.2" fill="#3c3c3c" text-anchor="end">30,0</text>
<line x1="20.70" y1="260.60" x2="222.50" y2="260.60" stroke="#7f7f7f" stroke-width="0.45" opacity="0.62"/>
<text x="18.5" y="262.45" font-size="4.2" fill="#3c3c3c" text-anchor="end">40,0</text>
<line x1="20.70" y1="243.85" x2="222.50" y2="243.85" stroke="#7f7f7f" stroke-width="0.45" opacity="0.62"/>
<text x="18.5" y="245.70" font-size="4.2" fill="#3c3c3c" text-anchor="end">50,0</text>
<line x1="20.70" y1="227.10" x2="222.50" y2="227.10" stroke="#7f7f7f" stroke-width="0.45" opacity="0.62"/>
<text x="18.5" y="228.95" font-size="4.2" fill="#3c3c3c" text-anchor="end">60,0</text>
<line x1="115.34" y1="327.60" x2="115.34" y2="299.12" stroke="#666" stroke-width="0.35" opacity="0.75"/>
<line x1="122.25" y1="327.60" x2="122.25" y2="269.81" stroke="#666" stroke-width="0.35" opacity="0.75"/>
<line x1="129.16" y1="327.60" x2="129.16" y2="310.85" stroke="#666" stroke-width="0.35" opacity="0.75"/>
<line x1="136.08" y1="327.60" x2="136.08" y2="279.02" stroke="#666" stroke-width="0.35" opacity="0.75"/>
<line x1="142.99" y1="327.60" x2="142.99" y2="269.81" stroke="#666" stroke-width="0.35" opacity="0.75"/>
<line x1="149.91" y1="327.60" x2="149.91" y2="295.78" stroke="#666" stroke-width="0.35" opacity="0.75"/>
<line x1="156.82" y1="327.60" x2="156.82" y2="320.90" stroke="#666" stroke-width="0.35" opacity="0.75"/>
<line x1="163.73" y1="327.60" x2="163.73" y2="227.10" stroke="#666" stroke-width="0.35" opacity="0.75"/>
<line x1="170.65" y1="327.60" x2="170.65" y2="243.85" stroke="#666" stroke-width="0.35" opacity="0.75"/>
<line x1="177.56" y1="327.60" x2="177.56" y2="279.86" stroke="#666" stroke-width="0.35" opacity="0.75"/>
<line x1="184.47" y1="327.60" x2="184.47" y2="314.20" stroke="#666" stroke-width="0.35" opacity="0.75"/>
<line x1="191.39" y1="327.60" x2="191.39" y2="323.41" stroke="#666" stroke-width="0.35" opacity="0.75"/>
<line x1="198.30" y1="327.60" x2="198.30" y2="310.01" stroke="#666" stroke-width="0.35" opacity="0.75"/>
<line x1="49.66" y1="219.10" x2="49.66" y2="327.60" stroke="#555" stroke-width="0.55" opacity="0.85"/>
<line x1="56.57" y1="219.10" x2="56.57" y2="327.60" stroke="#555" stroke-width="0.55" opacity="0.85"/>
<line x1="91.84" y1="219.10" x2="91.84" y2="327.60" stroke="#555" stroke-width="0.55" opacity="0.85"/>
<line x1="104.97" y1="219.10" x2="104.97" y2="327.60" stroke="#777" stroke-width="0.4" opacity="0.85"/>
<line x1="111.88" y1="219.10" x2="111.88" y2="327.60" stroke="#777" stroke-width="0.4" opacity="0.85"/>
<line x1="125.71" y1="219.10" x2="125.71" y2="327.60" stroke="#777" stroke-width="0.4" opacity="0.85"/>
<line x1="153.36" y1="219.10" x2="153.36" y2="327.60" stroke="#777" stroke-width="0.55" opacity="0.85"/>
<line x1="181.02" y1="219.10" x2="181.02" y2="327.60" stroke="#777" stroke-width="0.4" opacity="0.85"/>
<rect x="22.0" y="219.1" width="200.5" height="108.5" fill="none" stroke="#999" stroke-width="0.5"/>
<line x1="22.00" y1="327.60" x2="22.00" y2="346.50" stroke="#999" stroke-width="0.6"/>
<line x1="28.91" y1="327.60" x2="28.91" y2="338.10" stroke="#bdbdbd" stroke-width="0.5"/>
<line x1="35.83" y1="327.60" x2="35.83" y2="338.10" stroke="#bdbdbd" stroke-width="0.5"/>
<line x1="42.74" y1="327.60" x2="42.74" y2="338.10" stroke="#bdbdbd" stroke-width="0.5"/>
<line x1="49.66" y1="327.60" x2="49.66" y2="346.50" stroke="#999" stroke-width="0.6"/>
<line x1="56.57" y1="327.60" x2="56.57" y2="346.50" stroke="#999" stroke-width="0.6"/>
<line x1="63.48" y1="327.60" x2="63.48" y2="338.10" stroke="#bdbdbd" stroke-width="0.5"/>
<line x1="70.40" y1="327.60" x2="70.40" y2="338.10" stroke="#bdbdbd" stroke-width="0.5"/>
<line x1="77.31" y1="327.60" x2="77.31" y2="338.10" stroke="#bdbdbd" stroke-width="0.5"/>
<line x1="84.22" y1="327.60" x2="84.22" y2="338.10" stroke="#bdbdbd" stroke-width="0.5"/>
<line x1="91.14" y1="327.60" x2="91.14" y2="346.50" stroke="#999" stroke-width="0.6"/>
<line x1="98.05" y1="327.60" x2="98.05" y2="338.10" stroke="#bdbdbd" stroke-width="0.5"/>
<line x1="104.97" y1="327.60" x2="104.97" y2="346.50" stroke="#999" stroke-width="0.6"/>
<line x1="111.88" y1="327.60" x2="111.88" y2="346.50" stroke="#999" stroke-width="0.6"/>
<line x1="118.79" y1="327.60" x2="118.79" y2="338.10" stroke="#bdbdbd" stroke-width="0.5"/>
<line x1="125.71" y1="327.60" x2="125.71" y2="346.50" stroke="#999" stroke-width="0.6"/>
<line x1="132.62" y1="327.60" x2="132.62" y2="338.10" stroke="#bdbdbd" stroke-width="0.5"/>
<line x1="139.53" y1="327.60" x2="139.53" y2="338.10" stroke="#bdbdbd" stroke-width="0.5"/>
<line x1="146.45" y1="327.60" x2="146.45" y2="338.10" stroke="#bdbdbd" stroke-width="0.5"/>
<line x1="153.36" y1="327.60" x2="153.36" y2="346.50" stroke="#999" stroke-width="0.6"/>
<line x1="160.28" y1="327.60" x2="160.28" y2="338.10" stroke="#bdbdbd" stroke-width="0.5"/>
<line x1="167.19" y1="327.60" x2="167.19" y2="338.10" stroke="#bdbdbd" stroke-width="0.5"/>
<line x1="174.10" y1="327.60" x2="174.10" y2="338.10" stroke="#bdbdbd" stroke-width="0.5"/>
<line x1="181.02" y1="327.60" x2="181.02" y2="346.50" stroke="#999" stroke-width="0.6"/>
<line x1="187.93" y1="327.60" x2="187.93" y2="338.10" stroke="#bdbdbd" stroke-width="0.5"/>
<line x1="194.84" y1="327.60" x2="194.84" y2="338.10" stroke="#bdbdbd" stroke-width="0.5"/>
<line x1="201.76" y1="327.60" x2="201.76" y2="338.10" stroke="#bdbdbd" stroke-width="0.5"/>
<line x1="208.67" y1="327.60" x2="208.67" y2="338.10" stroke="#bdbdbd" stroke-width="0.5"/>
<line x1="215.59" y1="327.60" x2="215.59" y2="338.10" stroke="#bdbdbd" stroke-width="0.5"/>
<line x1="222.50" y1="327.60" x2="222.50" y2="346.50" stroke="#999" stroke-width="0.6"/>
<text transform="translate(26.66,329.1) rotate(-90)" font-size="3.7" fill="#111" text-anchor="end">AV</text>
<text transform="translate(33.57,329.1) rotate(-90)" font-size="3.7" fill="#111" text-anchor="end">AM</text>
<text transform="translate(40.48,329.1) rotate(-90)" font-size="3.7" fill="#111" text-anchor="end">AD</text>
<text transform="translate(47.40,329.1) rotate(-90)" font-size="3.7" fill="#111" text-anchor="end">LD</text>
<text transform="translate(54.31,329.1) rotate(-90)" font-size="3.7" fill="#111" text-anchor="end">MD</text>
<text transform="translate(61.23,329.1) rotate(-90)" font-size="3.7" fill="#111" text-anchor="end">CM</text>
<text transform="translate(68.14,329.1) rotate(-90)" font-size="3.7" fill="#111" text-anchor="end">Pf</text>
<text transform="translate(75.05,329.1) rotate(-90)" font-size="3.7" fill="#111" text-anchor="end">sPf</text>
<text transform="translate(81.97,329.1) rotate(-90)" font-size="3.7" fill="#111" text-anchor="end">CL</text>
<text transform="translate(88.88,329.1) rotate(-90)" font-size="3.7" fill="#111" text-anchor="end">CeM</text>
<text transform="translate(95.79,329.1) rotate(-90)" font-size="3.7" fill="#111" text-anchor="end">Pv</text>
<text transform="translate(102.71,329.1) rotate(-90)" font-size="3.7" fill="#111" text-anchor="end">MV</text>
<text transform="translate(109.62,329.1) rotate(-90)" font-size="3.7" fill="#111" text-anchor="end">Hb</text>
<text transform="translate(116.54,329.1) rotate(-90)" font-size="3.7" fill="#111" text-anchor="end">Li</text>
<text transform="translate(123.45,329.1) rotate(-90)" font-size="3.7" fill="#111" text-anchor="end">SG</text>
<text transform="translate(130.36,329.1) rotate(-90)" font-size="3.7" fill="#111" text-anchor="end">LP</text>
<text transform="translate(137.28,329.1) rotate(-90)" font-size="3.7" fill="#111" text-anchor="end">Po</text>
<text transform="translate(144.19,329.1) rotate(-90)" font-size="3.7" fill="#111" text-anchor="end">MGN</text>
<text transform="translate(151.11,329.1) rotate(-90)" font-size="3.7" fill="#111" text-anchor="end">LGN</text>
<text transform="translate(158.02,329.1) rotate(-90)" font-size="3.7" fill="#111" text-anchor="end">PuA</text>
<text transform="translate(164.93,329.1) rotate(-90)" font-size="3.7" fill="#111" text-anchor="end">PuI</text>
<text transform="translate(171.85,329.1) rotate(-90)" font-size="3.7" fill="#111" text-anchor="end">PuL</text>
<text transform="translate(178.76,329.1) rotate(-90)" font-size="3.7" fill="#111" text-anchor="end">PuM</text>
<text transform="translate(185.67,329.1) rotate(-90)" font-size="3.7" fill="#111" text-anchor="end">VPL</text>
<text transform="translate(192.59,329.1) rotate(-90)" font-size="3.7" fill="#111" text-anchor="end">VPM</text>
<text transform="translate(199.50,329.1) rotate(-90)" font-size="3.7" fill="#111" text-anchor="end">VPI</text>
<text transform="translate(206.42,329.1) rotate(-90)" font-size="3.7" fill="#111" text-anchor="end">VL</text>
<text transform="translate(213.33,329.1) rotate(-90)" font-size="3.7" fill="#111" text-anchor="end">VA</text>
<text transform="translate(220.24,329.1) rotate(-90)" font-size="3.7" fill="#111" text-anchor="end">VM</text>
<text x="35.83" y="343.2" font-size="4.4" fill="#4a4a4a" text-anchor="middle">Anterior</text>
<text x="53.11" y="343.2" font-size="4.4" fill="#4a4a4a" text-anchor="middle">MD</text>
<text x="73.85" y="343.2" font-size="4.4" fill="#4a4a4a" text-anchor="middle">Intralaminar</text>
<text x="98.85" y="343.2" font-size="4.4" fill="#4a4a4a" text-anchor="middle">midline</text>
<text x="108.42" y="343.2" font-size="4.4" fill="#4a4a4a" text-anchor="middle">Hb</text>
<text x="118.79" y="343.2" font-size="4.4" fill="#4a4a4a" text-anchor="middle">LI/SG</text>
<text x="139.53" y="343.2" font-size="4.4" fill="#4a4a4a" text-anchor="middle">posterior G</text>
<text x="167.19" y="343.2" font-size="4.4" fill="#4a4a4a" text-anchor="middle">Pulvinar</text>
<text x="201.76" y="343.2" font-size="4.4" fill="#4a4a4a" text-anchor="middle">Lateral</text>
<text transform="translate(6.1,290.9) rotate(-90)" font-size="3.6" font-weight="bold" fill="#444" text-anchor="middle">Neurosynth Topic Percent Overlap</text>
<polyline points="25.46,327.60 32.37,327.60 39.28,327.60 46.20,327.60 53.11,327.60 60.03,327.60 66.94,327.60 73.85,327.60 80.77,327.60 87.68,327.60 94.59,327.60 101.51,327.60 108.42,327.60 115.34,312.53 122.25,285.73 129.16,310.85 136.08,282.38 142.99,272.32 149.91,295.78 156.82,320.90 163.73,227.10 170.65,243.85 177.56,280.70 184.47,314.20 191.39,325.93 198.30,310.01 205.22,327.60 212.13,326.76 219.04,327.60" fill="none" stroke="#ff0000" stroke-width="1.3" stroke-linejoin="round" stroke-linecap="round"/>
<polyline points="25.46,327.60 32.37,327.60 39.28,326.76 46.20,327.60 53.11,327.60 60.03,327.60 66.94,327.60 73.85,327.60 80.77,327.60 87.68,327.60 94.59,327.60 101.51,327.60 108.42,327.60 115.34,299.12 122.25,269.81 129.16,327.60 136.08,279.02 142.99,269.81 149.91,312.53 156.82,323.41 163.73,250.55 170.65,279.02 177.56,279.86 184.47,321.74 191.39,323.41 198.30,310.01 205.22,327.60 212.13,326.76 219.04,327.60" fill="none" stroke="#0000ff" stroke-width="1.3" stroke-linejoin="round" stroke-linecap="round"/>
<line x1="130.00" y1="225.20" x2="146.60" y2="225.20" stroke="#ff0000" stroke-width="1.3"/>
<line x1="130.00" y1="234.30" x2="146.60" y2="234.30" stroke="#0000ff" stroke-width="1.3"/>
<text x="147.8" y="226.8" font-size="4.6" fill="#333" textLength="30.5" lengthAdjust="spacingAndGlyphs">Right Thalamus</text>
<text x="147.8" y="235.9" font-size="4.6" fill="#333" textLength="28" lengthAdjust="spacingAndGlyphs">Left Thalamus</text>
<text x="59.0" y="232.0" font-size="5.3" font-weight="bold" fill="#111" text-anchor="middle">DMN #4</text>
<text x="36.4" y="355.0" font-size="8.0" fill="#111" textLength="152.2" lengthAdjust="spacingAndGlyphs" style="white-space:pre">network_state_resting; mpfc_social_medial;</text>
<text x="11.3" y="364.6" font-size="8.0" fill="#111" textLength="202.3" lengthAdjust="spacingAndGlyphs" style="white-space:pre">hemisphere_language_stroke; memory_retrieval_encoding</text>
<!-- panel e -->
<rect x="231.5" y="215.5" width="223.0" height="152.0" fill="#fff" stroke="#999" stroke-width="1"/>
<line x1="231.00" y1="215.50" x2="455.00" y2="215.50" stroke="#5a5a5a" stroke-width="1"/>
<line x1="454.50" y1="215.50" x2="454.50" y2="367.50" stroke="#777" stroke-width="1"/>
<line x1="231.00" y1="346.50" x2="455.00" y2="346.50" stroke="#555" stroke-width="1"/>
<g transform="translate(231.1,186.0)">
<rect x="0.0" y="0.0" width="223.1" height="29.0" fill="#000"/>
<g transform="translate(0.3,0)">
<polygon points="5.8,6.7 12.0,6.7 12.0,11.0 10.8,13.2 9.3,15.2 7.6,17.5 6.4,19.6 5.2,20.7 1.6,20.7 0.9,19.6 0.9,15.2 1.8,13.7 2.9,11.7 4.1,9.6 5.0,8.2" fill="#1400ff"/>
<polygon points="19.0,5.3 21.9,5.3 23.1,6.7 24.2,8.2 25.1,9.6 26.0,11.7 26.6,13.4 27.6,15.2 27.6,20.4 20.7,20.7 19.0,18.7 19.0,13.4 18.4,11.7 17.7,9.6 17.7,6.7 18.4,5.8" fill="#1400ff"/>
<polygon points="45.5,3.0 46.2,2.3 46.8,3.0 47.6,4.0 50.0,4.2 50.0,5.5 51.4,7.0 51.4,16.6 50.0,18.4 48.8,20.1 47.4,21.9 45.9,23.7 37.4,23.7 37.4,15.2 38.9,12.3 40.0,8.2 41.5,5.3 43.2,5.3 44.7,3.8" fill="#1400ff"/>
<polygon points="55.8,2.3 59.6,2.3 59.6,3.8 62.5,4.1 62.5,5.8 64.0,7.0 65.4,8.5 65.4,15.2 66.9,15.5 66.9,18.1 68.1,18.4 68.1,23.7 60.2,23.7 59.9,22.2 57.3,21.9 57.0,20.1 55.5,18.7 54.0,17.5 54.0,4.4 55.8,3.8" fill="#1400ff"/>
<polygon points="84.4,1.1 86.4,2.6 87.9,4.1 89.3,5.3 89.3,7.9 90.8,7.9 90.8,5.3 92.3,2.6 94.6,2.3 95.2,1.1 97.5,1.1 99.3,2.6 100.7,4.4 100.7,5.8 102.8,8.2 103.4,11.1 104.5,12.3 104.8,14.9 106.0,15.2 106.0,24.7 100.7,24.8 100.4,26.0 99.3,26.0 98.7,25.1 96.3,24.8 95.2,23.4 93.7,21.9 92.8,19.9 92.3,17.5 91.4,16.6 89.3,16.6 88.2,17.5 87.9,19.9 86.4,21.9 85.8,23.4 84.1,24.8 83.5,26.0 77.1,26.0 76.5,25.1 74.2,24.8 74.0,19.3 75.3,18.7 75.3,14.0 76.5,13.7 77.7,12.3 78.0,8.2 79.4,7.6 79.7,5.3 81.2,4.1 82.6,2.6" fill="#1400ff"/>
<polygon points="123.8,1.1 125.9,2.6 127.0,2.9 127.0,6.7 128.8,6.7 128.8,2.9 130.8,2.3 132.0,1.1 133.8,1.1 135.5,2.6 137.3,4.4 138.7,5.8 140.2,7.6 140.8,10.5 142.2,12.3 142.5,14.6 144.0,15.2 144.0,21.6 146.6,23.9 145.4,24.8 142.5,25.1 141.9,26.0 134.3,26.0 132.9,24.5 132.6,21.9 131.4,20.4 130.3,18.7 128.8,17.5 128.8,15.2 127.0,15.2 127.0,18.1 125.6,19.9 124.4,21.9 124.1,24.5 122.7,26.0 121.8,27.4 113.3,27.4 111.9,26.0 110.1,24.2 112.7,21.9 113.0,19.6 111.6,18.7 113.0,17.5 113.0,14.0 114.5,13.7 115.7,12.3 116.0,10.5 117.4,7.6 118.6,5.8 118.9,4.1 121.5,3.8 122.7,2.3" fill="#1400ff"/>
<polygon points="161.0,2.3 164.8,2.3 165.0,3.8 165.0,6.7 166.5,6.7 166.8,4.1 168.0,2.6 170.6,2.3 170.9,3.8 173.5,4.1 173.8,6.4 175.3,6.7 176.7,8.5 176.7,11.1 178.8,12.6 180.2,14.0 180.5,19.3 179.4,20.7 179.4,21.9 183.4,22.2 184.6,23.7 183.1,25.1 182.3,26.0 174.1,26.3 172.1,24.5 170.9,22.2 169.4,20.4 168.0,18.7 167.7,14.0 166.8,12.6 165.0,12.3 165.0,17.5 163.6,19.3 162.4,20.7 161.0,22.2 160.7,26.0 159.5,27.4 150.2,27.4 148.1,25.1 149.3,23.4 150.7,22.2 151.0,15.5 152.5,14.0 154.0,12.6 155.4,11.1 156.9,9.6 158.0,8.2 158.0,5.3 159.5,3.8" fill="#1400ff"/>
<polygon points="200.1,4.0 202.8,4.0 202.8,14.7 201.3,15.0 199.5,16.6 197.9,17.8 196.1,19.6 195.8,24.8 194.2,24.8 194.2,20.8 193.0,20.2 193.0,17.2 194.5,15.6 196.1,15.3 197.6,13.8 199.1,12.3 200.4,11.3 200.4,8.3 198.8,8.0 198.8,6.7 200.1,6.1" fill="#1400ff"/>
<polygon points="186.3,23.3 195.8,23.0 195.8,24.8 192.7,25.1 192.7,26.1 188.1,26.1 186.0,24.5" fill="#1400ff"/>
<polygon points="205.9,5.2 208.7,5.2 208.7,7.7 207.4,8.0 207.4,10.7 208.7,11.0 208.7,13.2 210.2,13.8 210.2,14.7 212.9,15.0 212.9,16.2 214.2,16.9 214.2,17.8 212.9,18.1 212.9,19.3 211.4,19.3 211.4,17.8 210.2,16.2 208.7,15.9 207.4,15.0 205.9,14.7" fill="#1400ff"/>
<polygon points="212.9,22.1 220.3,22.1 220.3,23.6 222.1,23.6 222.1,24.8 216.0,24.8 216.0,23.6 212.9,23.6" fill="#1400ff"/>
<polygon points="5.8,6.7 12.0,6.7 12.0,11.0 10.8,13.2 9.3,15.2 7.6,17.5 6.4,19.6 5.2,20.7 1.6,20.7 0.9,19.6 0.9,15.2 1.8,13.7 2.9,11.7 4.1,9.6 5.0,8.2" fill="url(#gE)"/>
<polygon points="19.0,5.3 21.9,5.3 23.1,6.7 24.2,8.2 25.1,9.6 26.0,11.7 26.6,13.4 27.6,15.2 27.6,20.4 20.7,20.7 19.0,18.7 19.0,13.4 18.4,11.7 17.7,9.6 17.7,6.7 18.4,5.8" fill="url(#gE)"/>
<polygon points="45.5,3.0 46.2,2.3 46.8,3.0 47.6,4.0 50.0,4.2 50.0,5.5 51.4,7.0 51.4,16.6 50.0,18.4 48.8,20.1 47.4,21.9 45.9,23.7 37.4,23.7 37.4,15.2 38.9,12.3 40.0,8.2 41.5,5.3 43.2,5.3 44.7,3.8" fill="url(#gE)"/>
<polygon points="55.8,2.3 59.6,2.3 59.6,3.8 62.5,4.1 62.5,5.8 64.0,7.0 65.4,8.5 65.4,15.2 66.9,15.5 66.9,18.1 68.1,18.4 68.1,23.7 60.2,23.7 59.9,22.2 57.3,21.9 57.0,20.1 55.5,18.7 54.0,17.5 54.0,4.4 55.8,3.8" fill="url(#gE)"/>
<polygon points="84.4,1.1 86.4,2.6 87.9,4.1 89.3,5.3 89.3,7.9 90.8,7.9 90.8,5.3 92.3,2.6 94.6,2.3 95.2,1.1 97.5,1.1 99.3,2.6 100.7,4.4 100.7,5.8 102.8,8.2 103.4,11.1 104.5,12.3 104.8,14.9 106.0,15.2 106.0,24.7 100.7,24.8 100.4,26.0 99.3,26.0 98.7,25.1 96.3,24.8 95.2,23.4 93.7,21.9 92.8,19.9 92.3,17.5 91.4,16.6 89.3,16.6 88.2,17.5 87.9,19.9 86.4,21.9 85.8,23.4 84.1,24.8 83.5,26.0 77.1,26.0 76.5,25.1 74.2,24.8 74.0,19.3 75.3,18.7 75.3,14.0 76.5,13.7 77.7,12.3 78.0,8.2 79.4,7.6 79.7,5.3 81.2,4.1 82.6,2.6" fill="url(#gE)"/>
<polygon points="123.8,1.1 125.9,2.6 127.0,2.9 127.0,6.7 128.8,6.7 128.8,2.9 130.8,2.3 132.0,1.1 133.8,1.1 135.5,2.6 137.3,4.4 138.7,5.8 140.2,7.6 140.8,10.5 142.2,12.3 142.5,14.6 144.0,15.2 144.0,21.6 146.6,23.9 145.4,24.8 142.5,25.1 141.9,26.0 134.3,26.0 132.9,24.5 132.6,21.9 131.4,20.4 130.3,18.7 128.8,17.5 128.8,15.2 127.0,15.2 127.0,18.1 125.6,19.9 124.4,21.9 124.1,24.5 122.7,26.0 121.8,27.4 113.3,27.4 111.9,26.0 110.1,24.2 112.7,21.9 113.0,19.6 111.6,18.7 113.0,17.5 113.0,14.0 114.5,13.7 115.7,12.3 116.0,10.5 117.4,7.6 118.6,5.8 118.9,4.1 121.5,3.8 122.7,2.3" fill="url(#gE)"/>
<polygon points="161.0,2.3 164.8,2.3 165.0,3.8 165.0,6.7 166.5,6.7 166.8,4.1 168.0,2.6 170.6,2.3 170.9,3.8 173.5,4.1 173.8,6.4 175.3,6.7 176.7,8.5 176.7,11.1 178.8,12.6 180.2,14.0 180.5,19.3 179.4,20.7 179.4,21.9 183.4,22.2 184.6,23.7 183.1,25.1 182.3,26.0 174.1,26.3 172.1,24.5 170.9,22.2 169.4,20.4 168.0,18.7 167.7,14.0 166.8,12.6 165.0,12.3 165.0,17.5 163.6,19.3 162.4,20.7 161.0,22.2 160.7,26.0 159.5,27.4 150.2,27.4 148.1,25.1 149.3,23.4 150.7,22.2 151.0,15.5 152.5,14.0 154.0,12.6 155.4,11.1 156.9,9.6 158.0,8.2 158.0,5.3 159.5,3.8" fill="url(#gE)"/>
<g clip-path="url(#clipMask)">
<polygon points="6.4,7.0 12.6,6.6 12.6,11.1 9.3,14.0 8.2,11.1 6.4,8.8" fill="#1400ff"/>
<polygon points="17.0,5.0 22.0,5.0 23.5,8.0 21.0,8.0 20.5,11.5 22.0,13.5 20.0,14.5 20.0,17.0 23.0,17.5 24.5,20.0 20.0,21.2 17.0,14.0" fill="#1400ff"/>
<polygon points="43.2,5.3 46.7,1.8 49.6,4.0 52.0,7.0 52.0,16.4 49.1,19.3 47.3,21.0 47.9,15.2 47.3,11.1 45.6,7.6" fill="#1400ff"/>
<polygon points="53.5,3.5 59.6,1.8 63.0,4.7 59.6,5.8 57.8,8.2 57.2,11.7 58.4,16.4 60.7,19.3 65.4,21.0 68.6,21.6 68.6,24.0 60.7,24.0 57.2,21.6 53.5,17.5" fill="#1400ff"/>
<polygon points="74.0,0.0 107.0,0.0 107.0,5.2 74.0,5.2" fill="#1400ff"/>
<polygon points="86.5,5.0 95.5,5.0 95.0,14.0 93.5,18.5 92.0,16.5 90.0,16.5 88.5,18.5 87.0,13.0" fill="#1400ff"/>
<polygon points="74.0,24.6 90.0,24.6 90.0,27.0 74.0,27.0" fill="#1400ff"/>
<polygon points="96.0,24.2 107.0,24.2 107.0,27.0 96.0,27.0" fill="#1400ff"/>
<polygon points="110.0,0.0 147.0,0.0 147.0,6.0 110.0,6.0" fill="#1400ff"/>
<polygon points="124.0,6.0 132.5,6.0 132.0,14.0 131.0,19.5 129.0,17.0 127.0,17.0 125.0,20.5 124.3,14.0" fill="#1400ff"/>
<polygon points="110.0,24.0 125.0,24.0 125.0,28.0 110.0,28.0" fill="#1400ff"/>
<polygon points="132.0,23.0 147.0,23.0 147.0,27.0 132.0,27.0" fill="#1400ff"/>
<polygon points="148.0,0.0 185.0,0.0 185.0,8.2 148.0,8.2" fill="#1400ff"/>
<polygon points="162.5,8.0 171.5,8.0 171.0,14.0 171.0,17.5 168.0,17.5 167.5,13.5 165.0,12.5 165.0,17.5 163.5,19.5 163.3,14.0" fill="#1400ff"/>
<polygon points="148.0,23.2 162.0,23.2 162.0,28.0 148.0,28.0" fill="#1400ff"/>
<polygon points="171.0,22.8 185.0,22.8 185.0,27.0 171.0,27.0" fill="#1400ff"/>
</g>
<polygon points="193.0,22.6 193.0,17.2 194.5,15.6 196.1,15.3 197.6,13.8 199.6,13.2 200.8,15.2 199.5,16.6 197.9,17.8 196.1,19.6 196.0,22.6" fill="#ff5e00"/>
<polygon points="210.2,14.0 212.9,15.0 214.2,16.9 214.2,17.8 212.9,19.3 211.4,19.3 210.2,16.5" fill="#ff5e00"/>
</g>
<text x="1.9" y="5.7" font-size="5.2" font-weight="bold" fill="#fff" textLength="1.9" lengthAdjust="spacingAndGlyphs">L</text>
<text x="218.5" y="5.6" font-size="5.2" font-weight="bold" fill="#fff" textLength="2.5" lengthAdjust="spacingAndGlyphs">R</text>
<text x="10.8" y="23.8" font-size="7.7" font-weight="bold" fill="#fff" textLength="6.9" lengthAdjust="spacingAndGlyphs">e)</text>
</g>
<rect x="356.0" y="219.4" width="27.6" height="108.5" fill="#ffff00" fill-opacity="0.152"/>
<line x1="251.30" y1="327.60" x2="452.50" y2="327.60" stroke="#777" stroke-width="0.5" opacity="0.62"/>
<text x="249.1" y="329.45" font-size="4.2" fill="#3c3c3c" text-anchor="end">0,0</text>
<line x1="251.30" y1="316.96" x2="452.50" y2="316.96" stroke="#7f7f7f" stroke-width="0.45" opacity="0.62"/>
<text x="249.1" y="318.81" font-size="4.2" fill="#3c3c3c" text-anchor="end">10,0</text>
<line x1="251.30" y1="306.32" x2="452.50" y2="306.32" stroke="#7f7f7f" stroke-width="0.45" opacity="0.62"/>
<text x="249.1" y="308.17" font-size="4.2" fill="#3c3c3c" text-anchor="end">20,0</text>
<line x1="251.30" y1="295.68" x2="452.50" y2="295.68" stroke="#7f7f7f" stroke-width="0.45" opacity="0.62"/>
<text x="249.1" y="297.53" font-size="4.2" fill="#3c3c3c" text-anchor="end">30,0</text>
<line x1="251.30" y1="285.04" x2="452.50" y2="285.04" stroke="#7f7f7f" stroke-width="0.45" opacity="0.62"/>
<text x="249.1" y="286.89" font-size="4.2" fill="#3c3c3c" text-anchor="end">40,0</text>
<line x1="251.30" y1="274.40" x2="452.50" y2="274.40" stroke="#7f7f7f" stroke-width="0.45" opacity="0.62"/>
<text x="249.1" y="276.25" font-size="4.2" fill="#3c3c3c" text-anchor="end">50,0</text>
<line x1="251.30" y1="263.76" x2="452.50" y2="263.76" stroke="#7f7f7f" stroke-width="0.45" opacity="0.62"/>
<text x="249.1" y="265.61" font-size="4.2" fill="#3c3c3c" text-anchor="end">60,0</text>
<line x1="251.30" y1="253.12" x2="452.50" y2="253.12" stroke="#7f7f7f" stroke-width="0.45" opacity="0.62"/>
<text x="249.1" y="254.97" font-size="4.2" fill="#3c3c3c" text-anchor="end">70,0</text>
<line x1="251.30" y1="242.48" x2="452.50" y2="242.48" stroke="#7f7f7f" stroke-width="0.45" opacity="0.62"/>
<text x="249.1" y="244.33" font-size="4.2" fill="#3c3c3c" text-anchor="end">80,0</text>
<line x1="251.30" y1="231.84" x2="452.50" y2="231.84" stroke="#7f7f7f" stroke-width="0.45" opacity="0.62"/>
<text x="249.1" y="233.69" font-size="4.2" fill="#3c3c3c" text-anchor="end">90,0</text>
<line x1="251.30" y1="221.20" x2="452.50" y2="221.20" stroke="#7f7f7f" stroke-width="0.45" opacity="0.62"/>
<text x="249.1" y="223.05" font-size="4.2" fill="#3c3c3c" text-anchor="end">100,0</text>
<line x1="262.94" y1="327.60" x2="262.94" y2="320.68" stroke="#666" stroke-width="0.35" opacity="0.75"/>
<line x1="269.83" y1="327.60" x2="269.83" y2="314.83" stroke="#666" stroke-width="0.35" opacity="0.75"/>
<line x1="276.73" y1="327.60" x2="276.73" y2="286.10" stroke="#666" stroke-width="0.35" opacity="0.75"/>
<line x1="283.62" y1="327.60" x2="283.62" y2="280.78" stroke="#666" stroke-width="0.35" opacity="0.75"/>
<line x1="290.51" y1="327.60" x2="290.51" y2="226.52" stroke="#666" stroke-width="0.35" opacity="0.75"/>
<line x1="297.41" y1="327.60" x2="297.41" y2="259.50" stroke="#666" stroke-width="0.35" opacity="0.75"/>
<line x1="304.30" y1="327.60" x2="304.30" y2="247.80" stroke="#666" stroke-width="0.35" opacity="0.75"/>
<line x1="311.19" y1="327.60" x2="311.19" y2="266.95" stroke="#666" stroke-width="0.35" opacity="0.75"/>
<line x1="318.08" y1="327.60" x2="318.08" y2="306.32" stroke="#666" stroke-width="0.35" opacity="0.75"/>
<line x1="331.87" y1="327.60" x2="331.87" y2="322.28" stroke="#666" stroke-width="0.35" opacity="0.75"/>
<line x1="338.76" y1="327.60" x2="338.76" y2="296.74" stroke="#666" stroke-width="0.35" opacity="0.75"/>
<line x1="345.66" y1="327.60" x2="345.66" y2="266.95" stroke="#666" stroke-width="0.35" opacity="0.75"/>
<line x1="352.55" y1="327.60" x2="352.55" y2="268.02" stroke="#666" stroke-width="0.35" opacity="0.75"/>
<line x1="359.44" y1="327.60" x2="359.44" y2="242.48" stroke="#666" stroke-width="0.35" opacity="0.75"/>
<line x1="366.34" y1="327.60" x2="366.34" y2="245.67" stroke="#666" stroke-width="0.35" opacity="0.75"/>
<line x1="373.23" y1="327.60" x2="373.23" y2="282.91" stroke="#666" stroke-width="0.35" opacity="0.75"/>
<line x1="380.12" y1="327.60" x2="380.12" y2="312.70" stroke="#666" stroke-width="0.35" opacity="0.75"/>
<line x1="387.02" y1="327.60" x2="387.02" y2="223.33" stroke="#666" stroke-width="0.35" opacity="0.75"/>
<line x1="393.91" y1="327.60" x2="393.91" y2="311.64" stroke="#666" stroke-width="0.35" opacity="0.75"/>
<line x1="400.80" y1="327.60" x2="400.80" y2="290.36" stroke="#666" stroke-width="0.35" opacity="0.75"/>
<line x1="407.69" y1="327.60" x2="407.69" y2="282.91" stroke="#666" stroke-width="0.35" opacity="0.75"/>
<line x1="414.59" y1="327.60" x2="414.59" y2="232.90" stroke="#666" stroke-width="0.35" opacity="0.75"/>
<line x1="421.48" y1="327.60" x2="421.48" y2="224.39" stroke="#666" stroke-width="0.35" opacity="0.75"/>
<line x1="428.37" y1="327.60" x2="428.37" y2="224.39" stroke="#666" stroke-width="0.35" opacity="0.75"/>
<line x1="435.27" y1="327.60" x2="435.27" y2="260.57" stroke="#666" stroke-width="0.35" opacity="0.75"/>
<line x1="442.16" y1="327.60" x2="442.16" y2="286.10" stroke="#666" stroke-width="0.35" opacity="0.75"/>
<line x1="449.05" y1="327.60" x2="449.05" y2="256.31" stroke="#666" stroke-width="0.35" opacity="0.75"/>
<line x1="280.17" y1="219.40" x2="280.17" y2="327.60" stroke="#555" stroke-width="0.55" opacity="0.85"/>
<line x1="287.07" y1="219.40" x2="287.07" y2="327.60" stroke="#555" stroke-width="0.55" opacity="0.85"/>
<line x1="322.23" y1="219.40" x2="322.23" y2="327.60" stroke="#555" stroke-width="0.55" opacity="0.85"/>
<line x1="335.32" y1="219.40" x2="335.32" y2="327.60" stroke="#777" stroke-width="0.4" opacity="0.85"/>
<line x1="342.21" y1="219.40" x2="342.21" y2="327.60" stroke="#777" stroke-width="0.4" opacity="0.85"/>
<line x1="356.00" y1="219.40" x2="356.00" y2="327.60" stroke="#777" stroke-width="0.4" opacity="0.85"/>
<line x1="383.57" y1="219.40" x2="383.57" y2="327.60" stroke="#777" stroke-width="0.55" opacity="0.85"/>
<line x1="411.14" y1="219.40" x2="411.14" y2="327.60" stroke="#777" stroke-width="0.4" opacity="0.85"/>
<rect x="252.6" y="219.4" width="199.9" height="108.2" fill="none" stroke="#999" stroke-width="0.5"/>
<line x1="252.60" y1="327.60" x2="252.60" y2="346.50" stroke="#999" stroke-width="0.6"/>
<line x1="259.49" y1="327.60" x2="259.49" y2="338.10" stroke="#bdbdbd" stroke-width="0.5"/>
<line x1="266.39" y1="327.60" x2="266.39" y2="338.10" stroke="#bdbdbd" stroke-width="0.5"/>
<line x1="273.28" y1="327.60" x2="273.28" y2="338.10" stroke="#bdbdbd" stroke-width="0.5"/>
<line x1="280.17" y1="327.60" x2="280.17" y2="346.50" stroke="#999" stroke-width="0.6"/>
<line x1="287.07" y1="327.60" x2="287.07" y2="346.50" stroke="#999" stroke-width="0.6"/>
<line x1="293.96" y1="327.60" x2="293.96" y2="338.10" stroke="#bdbdbd" stroke-width="0.5"/>
<line x1="300.85" y1="327.60" x2="300.85" y2="338.10" stroke="#bdbdbd" stroke-width="0.5"/>
<line x1="307.74" y1="327.60" x2="307.74" y2="338.10" stroke="#bdbdbd" stroke-width="0.5"/>
<line x1="314.64" y1="327.60" x2="314.64" y2="338.10" stroke="#bdbdbd" stroke-width="0.5"/>
<line x1="321.53" y1="327.60" x2="321.53" y2="346.50" stroke="#999" stroke-width="0.6"/>
<line x1="328.42" y1="327.60" x2="328.42" y2="338.10" stroke="#bdbdbd" stroke-width="0.5"/>
<line x1="335.32" y1="327.60" x2="335.32" y2="346.50" stroke="#999" stroke-width="0.6"/>
<line x1="342.21" y1="327.60" x2="342.21" y2="346.50" stroke="#999" stroke-width="0.6"/>
<line x1="349.10" y1="327.60" x2="349.10" y2="338.10" stroke="#bdbdbd" stroke-width="0.5"/>
<line x1="356.00" y1="327.60" x2="356.00" y2="346.50" stroke="#999" stroke-width="0.6"/>
<line x1="362.89" y1="327.60" x2="362.89" y2="338.10" stroke="#bdbdbd" stroke-width="0.5"/>
<line x1="369.78" y1="327.60" x2="369.78" y2="338.10" stroke="#bdbdbd" stroke-width="0.5"/>
<line x1="376.68" y1="327.60" x2="376.68" y2="338.10" stroke="#bdbdbd" stroke-width="0.5"/>
<line x1="383.57" y1="327.60" x2="383.57" y2="346.50" stroke="#999" stroke-width="0.6"/>
<line x1="390.46" y1="327.60" x2="390.46" y2="338.10" stroke="#bdbdbd" stroke-width="0.5"/>
<line x1="397.36" y1="327.60" x2="397.36" y2="338.10" stroke="#bdbdbd" stroke-width="0.5"/>
<line x1="404.25" y1="327.60" x2="404.25" y2="338.10" stroke="#bdbdbd" stroke-width="0.5"/>
<line x1="411.14" y1="327.60" x2="411.14" y2="346.50" stroke="#999" stroke-width="0.6"/>
<line x1="418.03" y1="327.60" x2="418.03" y2="338.10" stroke="#bdbdbd" stroke-width="0.5"/>
<line x1="424.93" y1="327.60" x2="424.93" y2="338.10" stroke="#bdbdbd" stroke-width="0.5"/>
<line x1="431.82" y1="327.60" x2="431.82" y2="338.10" stroke="#bdbdbd" stroke-width="0.5"/>
<line x1="438.71" y1="327.60" x2="438.71" y2="338.10" stroke="#bdbdbd" stroke-width="0.5"/>
<line x1="445.61" y1="327.60" x2="445.61" y2="338.10" stroke="#bdbdbd" stroke-width="0.5"/>
<line x1="452.50" y1="327.60" x2="452.50" y2="346.50" stroke="#999" stroke-width="0.6"/>
<text transform="translate(257.25,329.1) rotate(-90)" font-size="3.7" fill="#111" text-anchor="end">AV</text>
<text transform="translate(264.14,329.1) rotate(-90)" font-size="3.7" fill="#111" text-anchor="end">AM</text>
<text transform="translate(271.03,329.1) rotate(-90)" font-size="3.7" fill="#111" text-anchor="end">AD</text>
<text transform="translate(277.93,329.1) rotate(-90)" font-size="3.7" fill="#111" text-anchor="end">LD</text>
<text transform="translate(284.82,329.1) rotate(-90)" font-size="3.7" fill="#111" text-anchor="end">MD</text>
<text transform="translate(291.71,329.1) rotate(-90)" font-size="3.7" fill="#111" text-anchor="end">CM</text>
<text transform="translate(298.61,329.1) rotate(-90)" font-size="3.7" fill="#111" text-anchor="end">Pf</text>
<text transform="translate(305.50,329.1) rotate(-90)" font-size="3.7" fill="#111" text-anchor="end">sPf</text>
<text transform="translate(312.39,329.1) rotate(-90)" font-size="3.7" fill="#111" text-anchor="end">CL</text>
<text transform="translate(319.28,329.1) rotate(-90)" font-size="3.7" fill="#111" text-anchor="end">CeM</text>
<text transform="translate(326.18,329.1) rotate(-90)" font-size="3.7" fill="#111" text-anchor="end">Pv</text>
<text transform="translate(333.07,329.1) rotate(-90)" font-size="3.7" fill="#111" text-anchor="end">MV</text>
<text transform="translate(339.96,329.1) rotate(-90)" font-size="3.7" fill="#111" text-anchor="end">Hb</text>
<text transform="translate(346.86,329.1) rotate(-90)" font-size="3.7" fill="#111" text-anchor="end">Li</text>
<text transform="translate(353.75,329.1) rotate(-90)" font-size="3.7" fill="#111" text-anchor="end">SG</text>
<text transform="translate(360.64,329.1) rotate(-90)" font-size="3.7" fill="#111" text-anchor="end">LP</text>
<text transform="translate(367.54,329.1) rotate(-90)" font-size="3.7" fill="#111" text-anchor="end">Po</text>
<text transform="translate(374.43,329.1) rotate(-90)" font-size="3.7" fill="#111" text-anchor="end">MGN</text>
<text transform="translate(381.32,329.1) rotate(-90)" font-size="3.7" fill="#111" text-anchor="end">LGN</text>
<text transform="translate(388.22,329.1) rotate(-90)" font-size="3.7" fill="#111" text-anchor="end">PuA</text>
<text transform="translate(395.11,329.1) rotate(-90)" font-size="3.7" fill="#111" text-anchor="end">PuI</text>
<text transform="translate(402.00,329.1) rotate(-90)" font-size="3.7" fill="#111" text-anchor="end">PuL</text>
<text transform="translate(408.89,329.1) rotate(-90)" font-size="3.7" fill="#111" text-anchor="end">PuM</text>
<text transform="translate(415.79,329.1) rotate(-90)" font-size="3.7" fill="#111" text-anchor="end">VPL</text>
<text transform="translate(422.68,329.1) rotate(-90)" font-size="3.7" fill="#111" text-anchor="end">VPM</text>
<text transform="translate(429.57,329.1) rotate(-90)" font-size="3.7" fill="#111" text-anchor="end">VPI</text>
<text transform="translate(436.47,329.1) rotate(-90)" font-size="3.7" fill="#111" text-anchor="end">VL</text>
<text transform="translate(443.36,329.1) rotate(-90)" font-size="3.7" fill="#111" text-anchor="end">VA</text>
<text transform="translate(450.25,329.1) rotate(-90)" font-size="3.7" fill="#111" text-anchor="end">VM</text>
<text x="266.39" y="343.2" font-size="4.4" fill="#4a4a4a" text-anchor="middle">Anterior</text>
<text x="283.62" y="343.2" font-size="4.4" fill="#4a4a4a" text-anchor="middle">MD</text>
<text x="304.30" y="343.2" font-size="4.4" fill="#4a4a4a" text-anchor="middle">Intralaminar</text>
<text x="329.22" y="343.2" font-size="4.4" fill="#4a4a4a" text-anchor="middle">midline</text>
<text x="338.76" y="343.2" font-size="4.4" fill="#4a4a4a" text-anchor="middle">Hb</text>
<text x="349.10" y="343.2" font-size="4.4" fill="#4a4a4a" text-anchor="middle">LI/SG</text>
<text x="369.78" y="343.2" font-size="4.4" fill="#4a4a4a" text-anchor="middle">posterior G</text>
<text x="397.36" y="343.2" font-size="4.4" fill="#4a4a4a" text-anchor="middle">Pulvinar</text>
<text x="431.82" y="343.2" font-size="4.4" fill="#4a4a4a" text-anchor="middle">Lateral</text>
<text transform="translate(237.1,291.0) rotate(-90)" font-size="3.6" font-weight="bold" fill="#444" text-anchor="middle">Neurosynth Topic Percent Overlap</text>
<polyline points="256.05,327.60 262.94,320.68 269.83,321.75 276.73,311.64 283.62,297.81 290.51,253.12 297.41,287.17 304.30,278.66 311.19,292.49 318.08,314.83 324.98,327.60 331.87,327.60 338.76,323.88 345.66,302.06 352.55,292.49 359.44,260.04 366.34,265.89 373.23,286.10 380.12,312.70 387.02,233.97 393.91,311.64 400.80,290.36 407.69,301.00 414.59,235.03 421.48,243.54 428.37,228.65 435.27,260.57 442.16,286.10 449.05,258.44" fill="none" stroke="#ff0000" stroke-width="1.3" stroke-linejoin="round" stroke-linecap="round"/>
<polyline points="256.05,327.60 262.94,326.54 269.83,314.83 276.73,286.10 283.62,280.78 290.51,226.52 297.41,259.50 304.30,247.80 311.19,266.95 318.08,306.32 324.98,327.60 331.87,322.28 338.76,296.74 345.66,266.95 352.55,268.02 359.44,242.48 366.34,245.67 373.23,282.91 380.12,320.15 387.02,223.33 393.91,314.83 400.80,293.55 407.69,282.91 414.59,232.90 421.48,224.39 428.37,224.39 435.27,260.57 442.16,291.42 449.05,256.31" fill="none" stroke="#0000ff" stroke-width="1.3" stroke-linejoin="round" stroke-linecap="round"/>
<line x1="360.30" y1="225.20" x2="376.90" y2="225.20" stroke="#ff0000" stroke-width="1.3"/>
<line x1="360.30" y1="234.30" x2="376.90" y2="234.30" stroke="#0000ff" stroke-width="1.3"/>
<text x="378.1" y="226.8" font-size="4.6" fill="#333" textLength="30.5" lengthAdjust="spacingAndGlyphs">Right Thalamus</text>
<text x="378.1" y="235.9" font-size="4.6" fill="#333" textLength="28" lengthAdjust="spacingAndGlyphs">Left Thalamus</text>
<text x="267.0" y="231.9" font-size="5.3" font-weight="bold" fill="#111" text-anchor="middle">SM #6</text>
<rect x="252.6" y="219.4" width="27.6" height="108.5" fill="#00b050" fill-opacity="0.220"/>
<rect x="280.2" y="219.4" width="6.9" height="108.5" fill="#ff0000" fill-opacity="0.310"/>
<rect x="287.1" y="219.4" width="35.2" height="108.5" fill="#ff0000" fill-opacity="0.215"/>
<rect x="322.2" y="219.4" width="13.1" height="108.5" fill="#ff0000" fill-opacity="0.135"/>
<rect x="335.3" y="219.4" width="6.9" height="108.5" fill="#ff00ff" fill-opacity="0.215"/>
<rect x="342.2" y="219.4" width="13.8" height="108.5" fill="#ff00ff" fill-opacity="0.120"/>
<rect x="356.0" y="219.4" width="27.6" height="108.5" fill="#ffff00" fill-opacity="0.340"/>
<rect x="383.6" y="219.4" width="27.6" height="108.5" fill="#ffff96" fill-opacity="0.330"/>
<rect x="411.1" y="219.4" width="41.4" height="108.5" fill="#0000ff" fill-opacity="0.170"/>
<text x="268.2" y="355.0" font-size="8.0" fill="#111" textLength="149.5" lengthAdjust="spacingAndGlyphs" style="white-space:pre">motor_cortex_hand; stimulation_tms_bpd;</text>
<text x="298.4" y="364.6" font-size="8.0" fill="#111" textLength="89.3" lengthAdjust="spacingAndGlyphs" style="white-space:pre">learning_training_practice</text>
<!-- panel f -->
<rect x="461.5" y="218.5" width="223.0" height="149.0" fill="#fff" stroke="#999" stroke-width="1"/>
<line x1="461.00" y1="218.50" x2="685.00" y2="218.50" stroke="#5a5a5a" stroke-width="1"/>
<line x1="684.50" y1="218.50" x2="684.50" y2="367.50" stroke="#777" stroke-width="1"/>
<line x1="461.00" y1="346.50" x2="685.00" y2="346.50" stroke="#555" stroke-width="1"/>
<g transform="translate(461.0,186.0)">
<rect x="0.0" y="0.0" width="222.9" height="29.0" fill="#000"/>
<g transform="translate(0.3,0)">
<polygon points="5.8,6.7 12.0,6.7 12.0,11.0 10.8,13.2 9.3,15.2 7.6,17.5 6.4,19.6 5.2,20.7 1.6,20.7 0.9,19.6 0.9,15.2 1.8,13.7 2.9,11.7 4.1,9.6 5.0,8.2" fill="#1400ff"/>
<polygon points="19.0,5.3 21.9,5.3 23.1,6.7 24.2,8.2 25.1,9.6 26.0,11.7 26.6,13.4 27.6,15.2 27.6,20.4 20.7,20.7 19.0,18.7 19.0,13.4 18.4,11.7 17.7,9.6 17.7,6.7 18.4,5.8" fill="#1400ff"/>
<polygon points="45.5,3.0 46.2,2.3 46.8,3.0 47.6,4.0 50.0,4.2 50.0,5.5 51.4,7.0 51.4,16.6 50.0,18.4 48.8,20.1 47.4,21.9 45.9,23.7 37.4,23.7 37.4,15.2 38.9,12.3 40.0,8.2 41.5,5.3 43.2,5.3 44.7,3.8" fill="#1400ff"/>
<polygon points="55.8,2.3 59.6,2.3 59.6,3.8 62.5,4.1 62.5,5.8 64.0,7.0 65.4,8.5 65.4,15.2 66.9,15.5 66.9,18.1 68.1,18.4 68.1,23.7 60.2,23.7 59.9,22.2 57.3,21.9 57.0,20.1 55.5,18.7 54.0,17.5 54.0,4.4 55.8,3.8" fill="#1400ff"/>
<polygon points="84.4,1.1 86.4,2.6 87.9,4.1 89.3,5.3 89.3,7.9 90.8,7.9 90.8,5.3 92.3,2.6 94.6,2.3 95.2,1.1 97.5,1.1 99.3,2.6 100.7,4.4 100.7,5.8 102.8,8.2 103.4,11.1 104.5,12.3 104.8,14.9 106.0,15.2 106.0,24.7 100.7,24.8 100.4,26.0 99.3,26.0 98.7,25.1 96.3,24.8 95.2,23.4 93.7,21.9 92.8,19.9 92.3,17.5 91.4,16.6 89.3,16.6 88.2,17.5 87.9,19.9 86.4,21.9 85.8,23.4 84.1,24.8 83.5,26.0 77.1,26.0 76.5,25.1 74.2,24.8 74.0,19.3 75.3,18.7 75.3,14.0 76.5,13.7 77.7,12.3 78.0,8.2 79.4,7.6 79.7,5.3 81.2,4.1 82.6,2.6" fill="#1400ff"/>
<polygon points="123.8,1.1 125.9,2.6 127.0,2.9 127.0,6.7 128.8,6.7 128.8,2.9 130.8,2.3 132.0,1.1 133.8,1.1 135.5,2.6 137.3,4.4 138.7,5.8 140.2,7.6 140.8,10.5 142.2,12.3 142.5,14.6 144.0,15.2 144.0,21.6 146.6,23.9 145.4,24.8 142.5,25.1 141.9,26.0 134.3,26.0 132.9,24.5 132.6,21.9 131.4,20.4 130.3,18.7 128.8,17.5 128.8,15.2 127.0,15.2 127.0,18.1 125.6,19.9 124.4,21.9 124.1,24.5 122.7,26.0 121.8,27.4 113.3,27.4 111.9,26.0 110.1,24.2 112.7,21.9 113.0,19.6 111.6,18.7 113.0,17.5 113.0,14.0 114.5,13.7 115.7,12.3 116.0,10.5 117.4,7.6 118.6,5.8 118.9,4.1 121.5,3.8 122.7,2.3" fill="#1400ff"/>
<polygon points="161.0,2.3 164.8,2.3 165.0,3.8 165.0,6.7 166.5,6.7 166.8,4.1 168.0,2.6 170.6,2.3 170.9,3.8 173.5,4.1 173.8,6.4 175.3,6.7 176.7,8.5 176.7,11.1 178.8,12.6 180.2,14.0 180.5,19.3 179.4,20.7 179.4,21.9 183.4,22.2 184.6,23.7 183.1,25.1 182.3,26.0 174.1,26.3 172.1,24.5 170.9,22.2 169.4,20.4 168.0,18.7 167.7,14.0 166.8,12.6 165.0,12.3 165.0,17.5 163.6,19.3 162.4,20.7 161.0,22.2 160.7,26.0 159.5,27.4 150.2,27.4 148.1,25.1 149.3,23.4 150.7,22.2 151.0,15.5 152.5,14.0 154.0,12.6 155.4,11.1 156.9,9.6 158.0,8.2 158.0,5.3 159.5,3.8" fill="#1400ff"/>
<polygon points="200.1,4.0 202.8,4.0 202.8,14.7 201.3,15.0 199.5,16.6 197.9,17.8 196.1,19.6 195.8,24.8 194.2,24.8 194.2,20.8 193.0,20.2 193.0,17.2 194.5,15.6 196.1,15.3 197.6,13.8 199.1,12.3 200.4,11.3 200.4,8.3 198.8,8.0 198.8,6.7 200.1,6.1" fill="#1400ff"/>
<polygon points="186.3,23.3 195.8,23.0 195.8,24.8 192.7,25.1 192.7,26.1 188.1,26.1 186.0,24.5" fill="#1400ff"/>
<polygon points="205.9,5.2 208.7,5.2 208.7,7.7 207.4,8.0 207.4,10.7 208.7,11.0 208.7,13.2 210.2,13.8 210.2,14.7 212.9,15.0 212.9,16.2 214.2,16.9 214.2,17.8 212.9,18.1 212.9,19.3 211.4,19.3 211.4,17.8 210.2,16.2 208.7,15.9 207.4,15.0 205.9,14.7" fill="#1400ff"/>
<polygon points="212.9,22.1 220.3,22.1 220.3,23.6 222.1,23.6 222.1,24.8 216.0,24.8 216.0,23.6 212.9,23.6" fill="#1400ff"/>
<polygon points="153.7,17.5 155.5,17.5 155.5,19.0 158.3,19.0 158.3,21.3 153.7,21.3" fill="#ff4200"/>
<polygon points="194.3,19.7 195.9,19.7 195.9,21.3 194.3,21.3" fill="#ff4200"/>
</g>
<text x="1.9" y="5.7" font-size="5.2" font-weight="bold" fill="#fff" textLength="1.9" lengthAdjust="spacingAndGlyphs">L</text>
<text x="218.3" y="5.6" font-size="5.2" font-weight="bold" fill="#fff" textLength="2.5" lengthAdjust="spacingAndGlyphs">R</text>
<rect x="14.0" y="15.5" width="10.0" height="12.9" fill="#000"/>
<text x="16.3" y="23.7" font-size="7.7" font-weight="bold" fill="#fff" textLength="4.9" lengthAdjust="spacingAndGlyphs">f)</text>
</g>
<rect x="586.1" y="222.1" width="27.6" height="106.2" fill="#ffff00" fill-opacity="0.152"/>
<line x1="481.40" y1="328.00" x2="682.60" y2="328.00" stroke="#777" stroke-width="0.5" opacity="0.62"/>
<text x="479.2" y="329.85" font-size="4.2" fill="#3c3c3c" text-anchor="end">0,0</text>
<line x1="481.40" y1="319.52" x2="682.60" y2="319.52" stroke="#7f7f7f" stroke-width="0.45" opacity="0.62"/>
<text x="479.2" y="321.38" font-size="4.2" fill="#3c3c3c" text-anchor="end">2,0</text>
<line x1="481.40" y1="311.05" x2="682.60" y2="311.05" stroke="#7f7f7f" stroke-width="0.45" opacity="0.62"/>
<text x="479.2" y="312.90" font-size="4.2" fill="#3c3c3c" text-anchor="end">4,0</text>
<line x1="481.40" y1="302.57" x2="682.60" y2="302.57" stroke="#7f7f7f" stroke-width="0.45" opacity="0.62"/>
<text x="479.2" y="304.43" font-size="4.2" fill="#3c3c3c" text-anchor="end">6,0</text>
<line x1="481.40" y1="294.10" x2="682.60" y2="294.10" stroke="#7f7f7f" stroke-width="0.45" opacity="0.62"/>
<text x="479.2" y="295.95" font-size="4.2" fill="#3c3c3c" text-anchor="end">8,0</text>
<line x1="481.40" y1="285.62" x2="682.60" y2="285.62" stroke="#7f7f7f" stroke-width="0.45" opacity="0.62"/>
<text x="479.2" y="287.48" font-size="4.2" fill="#3c3c3c" text-anchor="end">10,0</text>
<line x1="481.40" y1="277.15" x2="682.60" y2="277.15" stroke="#7f7f7f" stroke-width="0.45" opacity="0.62"/>
<text x="479.2" y="279.00" font-size="4.2" fill="#3c3c3c" text-anchor="end">12,0</text>
<line x1="481.40" y1="268.68" x2="682.60" y2="268.68" stroke="#7f7f7f" stroke-width="0.45" opacity="0.62"/>
<text x="479.2" y="270.53" font-size="4.2" fill="#3c3c3c" text-anchor="end">14,0</text>
<line x1="481.40" y1="260.20" x2="682.60" y2="260.20" stroke="#7f7f7f" stroke-width="0.45" opacity="0.62"/>
<text x="479.2" y="262.05" font-size="4.2" fill="#3c3c3c" text-anchor="end">16,0</text>
<line x1="481.40" y1="251.73" x2="682.60" y2="251.73" stroke="#7f7f7f" stroke-width="0.45" opacity="0.62"/>
<text x="479.2" y="253.58" font-size="4.2" fill="#3c3c3c" text-anchor="end">18,0</text>
<line x1="481.40" y1="243.25" x2="682.60" y2="243.25" stroke="#7f7f7f" stroke-width="0.45" opacity="0.62"/>
<text x="479.2" y="245.10" font-size="4.2" fill="#3c3c3c" text-anchor="end">20,0</text>
<line x1="481.40" y1="234.78" x2="682.60" y2="234.78" stroke="#7f7f7f" stroke-width="0.45" opacity="0.62"/>
<text x="479.2" y="236.62" font-size="4.2" fill="#3c3c3c" text-anchor="end">22,0</text>
<line x1="481.40" y1="226.30" x2="682.60" y2="226.30" stroke="#7f7f7f" stroke-width="0.45" opacity="0.62"/>
<text x="479.2" y="228.15" font-size="4.2" fill="#3c3c3c" text-anchor="end">24,0</text>
<line x1="506.83" y1="328.00" x2="506.83" y2="325.88" stroke="#666" stroke-width="0.35" opacity="0.75"/>
<line x1="520.61" y1="328.00" x2="520.61" y2="311.05" stroke="#666" stroke-width="0.35" opacity="0.75"/>
<line x1="527.51" y1="328.00" x2="527.51" y2="322.49" stroke="#666" stroke-width="0.35" opacity="0.75"/>
<line x1="534.40" y1="328.00" x2="534.40" y2="322.92" stroke="#666" stroke-width="0.35" opacity="0.75"/>
<line x1="575.76" y1="328.00" x2="575.76" y2="306.81" stroke="#666" stroke-width="0.35" opacity="0.75"/>
<line x1="582.65" y1="328.00" x2="582.65" y2="284.78" stroke="#666" stroke-width="0.35" opacity="0.75"/>
<line x1="589.54" y1="328.00" x2="589.54" y2="325.88" stroke="#666" stroke-width="0.35" opacity="0.75"/>
<line x1="596.44" y1="328.00" x2="596.44" y2="285.62" stroke="#666" stroke-width="0.35" opacity="0.75"/>
<line x1="603.33" y1="328.00" x2="603.33" y2="299.61" stroke="#666" stroke-width="0.35" opacity="0.75"/>
<line x1="617.12" y1="328.00" x2="617.12" y2="296.22" stroke="#666" stroke-width="0.35" opacity="0.75"/>
<line x1="644.69" y1="328.00" x2="644.69" y2="315.29" stroke="#666" stroke-width="0.35" opacity="0.75"/>
<line x1="651.58" y1="328.00" x2="651.58" y2="297.49" stroke="#666" stroke-width="0.35" opacity="0.75"/>
<line x1="658.47" y1="328.00" x2="658.47" y2="247.49" stroke="#666" stroke-width="0.35" opacity="0.75"/>
<line x1="665.37" y1="328.00" x2="665.37" y2="322.49" stroke="#666" stroke-width="0.35" opacity="0.75"/>
<line x1="679.15" y1="328.00" x2="679.15" y2="323.76" stroke="#666" stroke-width="0.35" opacity="0.75"/>
<line x1="510.27" y1="222.10" x2="510.27" y2="328.00" stroke="#555" stroke-width="0.55" opacity="0.85"/>
<line x1="517.17" y1="222.10" x2="517.17" y2="328.00" stroke="#555" stroke-width="0.55" opacity="0.85"/>
<line x1="552.33" y1="222.10" x2="552.33" y2="328.00" stroke="#555" stroke-width="0.55" opacity="0.85"/>
<line x1="565.42" y1="222.10" x2="565.42" y2="328.00" stroke="#777" stroke-width="0.4" opacity="0.85"/>
<line x1="572.31" y1="222.10" x2="572.31" y2="328.00" stroke="#777" stroke-width="0.4" opacity="0.85"/>
<line x1="586.10" y1="222.10" x2="586.10" y2="328.00" stroke="#777" stroke-width="0.4" opacity="0.85"/>
<line x1="613.67" y1="222.10" x2="613.67" y2="328.00" stroke="#777" stroke-width="0.55" opacity="0.85"/>
<line x1="641.24" y1="222.10" x2="641.24" y2="328.00" stroke="#777" stroke-width="0.4" opacity="0.85"/>
<rect x="482.7" y="222.1" width="199.9" height="105.9" fill="none" stroke="#999" stroke-width="0.5"/>
<line x1="482.70" y1="328.00" x2="482.70" y2="346.50" stroke="#999" stroke-width="0.6"/>
<line x1="489.59" y1="328.00" x2="489.59" y2="338.50" stroke="#bdbdbd" stroke-width="0.5"/>
<line x1="496.49" y1="328.00" x2="496.49" y2="338.50" stroke="#bdbdbd" stroke-width="0.5"/>
<line x1="503.38" y1="328.00" x2="503.38" y2="338.50" stroke="#bdbdbd" stroke-width="0.5"/>
<line x1="510.27" y1="328.00" x2="510.27" y2="346.50" stroke="#999" stroke-width="0.6"/>
<line x1="517.17" y1="328.00" x2="517.17" y2="346.50" stroke="#999" stroke-width="0.6"/>
<line x1="524.06" y1="328.00" x2="524.06" y2="338.50" stroke="#bdbdbd" stroke-width="0.5"/>
<line x1="530.95" y1="328.00" x2="530.95" y2="338.50" stroke="#bdbdbd" stroke-width="0.5"/>
<line x1="537.84" y1="328.00" x2="537.84" y2="338.50" stroke="#bdbdbd" stroke-width="0.5"/>
<line x1="544.74" y1="328.00" x2="544.74" y2="338.50" stroke="#bdbdbd" stroke-width="0.5"/>
<line x1="551.63" y1="328.00" x2="551.63" y2="346.50" stroke="#999" stroke-width="0.6"/>
<line x1="558.52" y1="328.00" x2="558.52" y2="338.50" stroke="#bdbdbd" stroke-width="0.5"/>
<line x1="565.42" y1="328.00" x2="565.42" y2="346.50" stroke="#999" stroke-width="0.6"/>
<line x1="572.31" y1="328.00" x2="572.31" y2="346.50" stroke="#999" stroke-width="0.6"/>
<line x1="579.20" y1="328.00" x2="579.20" y2="338.50" stroke="#bdbdbd" stroke-width="0.5"/>
<line x1="586.10" y1="328.00" x2="586.10" y2="346.50" stroke="#999" stroke-width="0.6"/>
<line x1="592.99" y1="328.00" x2="592.99" y2="338.50" stroke="#bdbdbd" stroke-width="0.5"/>
<line x1="599.88" y1="328.00" x2="599.88" y2="338.50" stroke="#bdbdbd" stroke-width="0.5"/>
<line x1="606.78" y1="328.00" x2="606.78" y2="338.50" stroke="#bdbdbd" stroke-width="0.5"/>
<line x1="613.67" y1="328.00" x2="613.67" y2="346.50" stroke="#999" stroke-width="0.6"/>
<line x1="620.56" y1="328.00" x2="620.56" y2="338.50" stroke="#bdbdbd" stroke-width="0.5"/>
<line x1="627.46" y1="328.00" x2="627.46" y2="338.50" stroke="#bdbdbd" stroke-width="0.5"/>
<line x1="634.35" y1="328.00" x2="634.35" y2="338.50" stroke="#bdbdbd" stroke-width="0.5"/>
<line x1="641.24" y1="328.00" x2="641.24" y2="346.50" stroke="#999" stroke-width="0.6"/>
<line x1="648.13" y1="328.00" x2="648.13" y2="338.50" stroke="#bdbdbd" stroke-width="0.5"/>
<line x1="655.03" y1="328.00" x2="655.03" y2="338.50" stroke="#bdbdbd" stroke-width="0.5"/>
<line x1="661.92" y1="328.00" x2="661.92" y2="338.50" stroke="#bdbdbd" stroke-width="0.5"/>
<line x1="668.81" y1="328.00" x2="668.81" y2="338.50" stroke="#bdbdbd" stroke-width="0.5"/>
<line x1="675.71" y1="328.00" x2="675.71" y2="338.50" stroke="#bdbdbd" stroke-width="0.5"/>
<line x1="682.60" y1="328.00" x2="682.60" y2="346.50" stroke="#999" stroke-width="0.6"/>
<text transform="translate(487.35,329.5) rotate(-90)" font-size="3.7" fill="#111" text-anchor="end">AV</text>
<text transform="translate(494.24,329.5) rotate(-90)" font-size="3.7" fill="#111" text-anchor="end">AM</text>
<text transform="translate(501.13,329.5) rotate(-90)" font-size="3.7" fill="#111" text-anchor="end">AD</text>
<text transform="translate(508.03,329.5) rotate(-90)" font-size="3.7" fill="#111" text-anchor="end">LD</text>
<text transform="translate(514.92,329.5) rotate(-90)" font-size="3.7" fill="#111" text-anchor="end">MD</text>
<text transform="translate(521.81,329.5) rotate(-90)" font-size="3.7" fill="#111" text-anchor="end">CM</text>
<text transform="translate(528.71,329.5) rotate(-90)" font-size="3.7" fill="#111" text-anchor="end">Pf</text>
<text transform="translate(535.60,329.5) rotate(-90)" font-size="3.7" fill="#111" text-anchor="end">sPf</text>
<text transform="translate(542.49,329.5) rotate(-90)" font-size="3.7" fill="#111" text-anchor="end">CL</text>
<text transform="translate(549.38,329.5) rotate(-90)" font-size="3.7" fill="#111" text-anchor="end">CeM</text>
<text transform="translate(556.28,329.5) rotate(-90)" font-size="3.7" fill="#111" text-anchor="end">Pv</text>
<text transform="translate(563.17,329.5) rotate(-90)" font-size="3.7" fill="#111" text-anchor="end">MV</text>
<text transform="translate(570.06,329.5) rotate(-90)" font-size="3.7" fill="#111" text-anchor="end">Hb</text>
<text transform="translate(576.96,329.5) rotate(-90)" font-size="3.7" fill="#111" text-anchor="end">Li</text>
<text transform="translate(583.85,329.5) rotate(-90)" font-size="3.7" fill="#111" text-anchor="end">SG</text>
<text transform="translate(590.74,329.5) rotate(-90)" font-size="3.7" fill="#111" text-anchor="end">LP</text>
<text transform="translate(597.64,329.5) rotate(-90)" font-size="3.7" fill="#111" text-anchor="end">Po</text>
<text transform="translate(604.53,329.5) rotate(-90)" font-size="3.7" fill="#111" text-anchor="end">MGN</text>
<text transform="translate(611.42,329.5) rotate(-90)" font-size="3.7" fill="#111" text-anchor="end">LGN</text>
<text transform="translate(618.32,329.5) rotate(-90)" font-size="3.7" fill="#111" text-anchor="end">PuA</text>
<text transform="translate(625.21,329.5) rotate(-90)" font-size="3.7" fill="#111" text-anchor="end">PuI</text>
<text transform="translate(632.10,329.5) rotate(-90)" font-size="3.7" fill="#111" text-anchor="end">PuL</text>
<text transform="translate(638.99,329.5) rotate(-90)" font-size="3.7" fill="#111" text-anchor="end">PuM</text>
<text transform="translate(645.89,329.5) rotate(-90)" font-size="3.7" fill="#111" text-anchor="end">VPL</text>
<text transform="translate(652.78,329.5) rotate(-90)" font-size="3.7" fill="#111" text-anchor="end">VPM</text>
<text transform="translate(659.67,329.5) rotate(-90)" font-size="3.7" fill="#111" text-anchor="end">VPI</text>
<text transform="translate(666.57,329.5) rotate(-90)" font-size="3.7" fill="#111" text-anchor="end">VL</text>
<text transform="translate(673.46,329.5) rotate(-90)" font-size="3.7" fill="#111" text-anchor="end">VA</text>
<text transform="translate(680.35,329.5) rotate(-90)" font-size="3.7" fill="#111" text-anchor="end">VM</text>
<text x="496.49" y="343.6" font-size="4.4" fill="#4a4a4a" text-anchor="middle">Anterior</text>
<text x="513.72" y="343.6" font-size="4.4" fill="#4a4a4a" text-anchor="middle">MD</text>
<text x="534.40" y="343.6" font-size="4.4" fill="#4a4a4a" text-anchor="middle">Intralaminar</text>
<text x="559.32" y="343.6" font-size="4.4" fill="#4a4a4a" text-anchor="middle">midline</text>
<text x="568.86" y="343.6" font-size="4.4" fill="#4a4a4a" text-anchor="middle">Hb</text>
<text x="579.20" y="343.6" font-size="4.4" fill="#4a4a4a" text-anchor="middle">LI/SG</text>
<text x="599.88" y="343.6" font-size="4.4" fill="#4a4a4a" text-anchor="middle">posterior G</text>
<text x="627.46" y="343.6" font-size="4.4" fill="#4a4a4a" text-anchor="middle">Pulvinar</text>
<text x="661.92" y="343.6" font-size="4.4" fill="#4a4a4a" text-anchor="middle">Lateral</text>
<text transform="translate(467.1,292.6) rotate(-90)" font-size="3.6" font-weight="bold" fill="#444" text-anchor="middle">Neurosynth Topic Percent Overlap</text>
<polyline points="486.15,328.00 493.04,328.00 499.93,328.00 506.83,328.00 513.72,328.00 520.61,328.00 527.51,328.00 534.40,328.00 541.29,328.00 548.18,328.00 555.08,328.00 561.97,328.00 568.86,328.00 575.76,328.00 582.65,328.00 589.54,328.00 596.44,328.00 603.33,328.00 610.22,328.00 617.12,328.00 624.01,328.00 630.90,328.00 637.79,328.00 644.69,328.00 651.58,328.00 658.47,328.00 665.37,328.00 672.26,328.00 679.15,328.00" fill="none" stroke="#ff5a5a" stroke-width="1.1" stroke-linejoin="round" stroke-linecap="round"/>
<polyline points="486.15,328.00 493.04,328.00 499.93,328.00 506.83,325.88 513.72,328.00 520.61,311.05 527.51,322.49 534.40,322.92 541.29,328.00 548.18,328.00 555.08,328.00 561.97,328.00 568.86,328.00 575.76,306.81 582.65,284.78 589.54,325.88 596.44,285.62 603.33,299.61 610.22,328.00 617.12,296.22 624.01,328.00 630.90,328.00 637.79,326.73 644.69,315.29 651.58,297.49 658.47,247.49 665.37,322.49 672.26,328.00 679.15,323.76" fill="none" stroke="#0000ff" stroke-width="1.3" stroke-linejoin="round" stroke-linecap="round"/>
<line x1="589.80" y1="228.30" x2="606.40" y2="228.30" stroke="#ff5a5a" stroke-width="1.3"/>
<line x1="589.80" y1="237.10" x2="606.40" y2="237.10" stroke="#0000ff" stroke-width="1.3"/>
<text x="607.6" y="229.9" font-size="4.6" fill="#333" textLength="30.5" lengthAdjust="spacingAndGlyphs">Right Thalamus</text>
<text x="607.6" y="238.7" font-size="4.6" fill="#333" textLength="28" lengthAdjust="spacingAndGlyphs">Left Thalamus</text>
<text x="496.2" y="234.0" font-size="5.3" font-weight="bold" fill="#111" text-anchor="middle">AU #7</text>
<rect x="482.7" y="222.1" width="27.6" height="106.2" fill="#00b050" fill-opacity="0.220"/>
<rect x="510.3" y="222.1" width="6.9" height="106.2" fill="#ff0000" fill-opacity="0.310"/>
<rect x="517.2" y="222.1" width="35.2" height="106.2" fill="#ff0000" fill-opacity="0.215"/>
<rect x="552.3" y="222.1" width="13.1" height="106.2" fill="#ff0000" fill-opacity="0.135"/>
<rect x="565.4" y="222.1" width="6.9" height="106.2" fill="#ff00ff" fill-opacity="0.215"/>
<rect x="572.3" y="222.1" width="13.8" height="106.2" fill="#ff00ff" fill-opacity="0.120"/>
<rect x="586.1" y="222.1" width="27.6" height="106.2" fill="#ffff00" fill-opacity="0.340"/>
<rect x="613.7" y="222.1" width="27.6" height="106.2" fill="#ffff96" fill-opacity="0.330"/>
<rect x="641.2" y="222.1" width="41.4" height="106.2" fill="#0000ff" fill-opacity="0.170"/>
<text x="482.0" y="355.0" font-size="8.0" fill="#111" textLength="182.0" lengthAdjust="spacingAndGlyphs" style="white-space:pre">auditory_speech_temporal; language_reading_word;</text>
<text x="481.6" y="364.6" font-size="8.0" fill="#111" textLength="182.7" lengthAdjust="spacingAndGlyphs" style="white-space:pre">prefrontal_cortex_pfc; hemisphere_language_stroke</text>
<!-- panel g -->
<rect x="0.5" y="403.5" width="224.0" height="147.0" fill="#fff" stroke="#999" stroke-width="1"/>
<line x1="0.00" y1="530.50" x2="225.00" y2="530.50" stroke="#555" stroke-width="1"/>
<g transform="translate(0.8,371.8)">
<rect x="0.0" y="0.0" width="222.9" height="29.0" fill="#000"/>
<g transform="translate(0.3,0)">
<polygon points="5.8,6.7 12.0,6.7 12.0,11.0 10.8,13.2 9.3,15.2 7.6,17.5 6.4,19.6 5.2,20.7 1.6,20.7 0.9,19.6 0.9,15.2 1.8,13.7 2.9,11.7 4.1,9.6 5.0,8.2" fill="#1400ff"/>
<polygon points="19.0,5.3 21.9,5.3 23.1,6.7 24.2,8.2 25.1,9.6 26.0,11.7 26.6,13.4 27.6,15.2 27.6,20.4 20.7,20.7 19.0,18.7 19.0,13.4 18.4,11.7 17.7,9.6 17.7,6.7 18.4,5.8" fill="#1400ff"/>
<polygon points="45.5,3.0 46.2,2.3 46.8,3.0 47.6,4.0 50.0,4.2 50.0,5.5 51.4,7.0 51.4,16.6 50.0,18.4 48.8,20.1 47.4,21.9 45.9,23.7 37.4,23.7 37.4,15.2 38.9,12.3 40.0,8.2 41.5,5.3 43.2,5.3 44.7,3.8" fill="#1400ff"/>
<polygon points="55.8,2.3 59.6,2.3 59.6,3.8 62.5,4.1 62.5,5.8 64.0,7.0 65.4,8.5 65.4,15.2 66.9,15.5 66.9,18.1 68.1,18.4 68.1,23.7 60.2,23.7 59.9,22.2 57.3,21.9 57.0,20.1 55.5,18.7 54.0,17.5 54.0,4.4 55.8,3.8" fill="#1400ff"/>
<polygon points="84.4,1.1 86.4,2.6 87.9,4.1 89.3,5.3 89.3,7.9 90.8,7.9 90.8,5.3 92.3,2.6 94.6,2.3 95.2,1.1 97.5,1.1 99.3,2.6 100.7,4.4 100.7,5.8 102.8,8.2 103.4,11.1 104.5,12.3 104.8,14.9 106.0,15.2 106.0,24.7 100.7,24.8 100.4,26.0 99.3,26.0 98.7,25.1 96.3,24.8 95.2,23.4 93.7,21.9 92.8,19.9 92.3,17.5 91.4,16.6 89.3,16.6 88.2,17.5 87.9,19.9 86.4,21.9 85.8,23.4 84.1,24.8 83.5,26.0 77.1,26.0 76.5,25.1 74.2,24.8 74.0,19.3 75.3,18.7 75.3,14.0 76.5,13.7 77.7,12.3 78.0,8.2 79.4,7.6 79.7,5.3 81.2,4.1 82.6,2.6" fill="#1400ff"/>
<polygon points="123.8,1.1 125.9,2.6 127.0,2.9 127.0,6.7 128.8,6.7 128.8,2.9 130.8,2.3 132.0,1.1 133.8,1.1 135.5,2.6 137.3,4.4 138.7,5.8 140.2,7.6 140.8,10.5 142.2,12.3 142.5,14.6 144.0,15.2 144.0,21.6 146.6,23.9 145.4,24.8 142.5,25.1 141.9,26.0 134.3,26.0 132.9,24.5 132.6,21.9 131.4,20.4 130.3,18.7 128.8,17.5 128.8,15.2 127.0,15.2 127.0,18.1 125.6,19.9 124.4,21.9 124.1,24.5 122.7,26.0 121.8,27.4 113.3,27.4 111.9,26.0 110.1,24.2 112.7,21.9 113.0,19.6 111.6,18.7 113.0,17.5 113.0,14.0 114.5,13.7 115.7,12.3 116.0,10.5 117.4,7.6 118.6,5.8 118.9,4.1 121.5,3.8 122.7,2.3" fill="#1400ff"/>
<polygon points="161.0,2.3 164.8,2.3 165.0,3.8 165.0,6.7 166.5,6.7 166.8,4.1 168.0,2.6 170.6,2.3 170.9,3.8 173.5,4.1 173.8,6.4 175.3,6.7 176.7,8.5 176.7,11.1 178.8,12.6 180.2,14.0 180.5,19.3 179.4,20.7 179.4,21.9 183.4,22.2 184.6,23.7 183.1,25.1 182.3,26.0 174.1,26.3 172.1,24.5 170.9,22.2 169.4,20.4 168.0,18.7 167.7,14.0 166.8,12.6 165.0,12.3 165.0,17.5 163.6,19.3 162.4,20.7 161.0,22.2 160.7,26.0 159.5,27.4 150.2,27.4 148.1,25.1 149.3,23.4 150.7,22.2 151.0,15.5 152.5,14.0 154.0,12.6 155.4,11.1 156.9,9.6 158.0,8.2 158.0,5.3 159.5,3.8" fill="#1400ff"/>
<polygon points="200.1,4.0 202.8,4.0 202.8,14.7 201.3,15.0 199.5,16.6 197.9,17.8 196.1,19.6 195.8,24.8 194.2,24.8 194.2,20.8 193.0,20.2 193.0,17.2 194.5,15.6 196.1,15.3 197.6,13.8 199.1,12.3 200.4,11.3 200.4,8.3 198.8,8.0 198.8,6.7 200.1,6.1" fill="#1400ff"/>
<polygon points="186.3,23.3 195.8,23.0 195.8,24.8 192.7,25.1 192.7,26.1 188.1,26.1 186.0,24.5" fill="#1400ff"/>
<polygon points="205.9,5.2 208.7,5.2 208.7,7.7 207.4,8.0 207.4,10.7 208.7,11.0 208.7,13.2 210.2,13.8 210.2,14.7 212.9,15.0 212.9,16.2 214.2,16.9 214.2,17.8 212.9,18.1 212.9,19.3 211.4,19.3 211.4,17.8 210.2,16.2 208.7,15.9 207.4,15.0 205.9,14.7" fill="#1400ff"/>
<polygon points="212.9,22.1 220.3,22.1 220.3,23.6 222.1,23.6 222.1,24.8 216.0,24.8 216.0,23.6 212.9,23.6" fill="#1400ff"/>
<polygon points="45.0,3.4 48.2,3.4 48.2,5.0 45.0,5.0" fill="#ff4200"/>
<polygon points="45.5,5.0 47.0,5.0 47.0,6.3 45.5,6.3" fill="#ff4200"/>
<polygon points="42.5,6.8 43.8,6.8 43.8,8.3 42.5,8.3" fill="#ff4200"/>
<polygon points="92.5,6.7 97.5,6.7 97.5,8.5 95.5,8.5 95.5,10.8 93.8,10.8 93.8,8.8 92.5,8.5" fill="#ff4200"/>
<polygon points="96.8,1.7 98.2,1.7 98.2,5.0 96.8,5.0" fill="#ff4200"/>
<polygon points="99.0,4.2 100.8,4.2 100.8,5.2 99.0,5.2" fill="#ff4200"/>
<polygon points="98.4,8.4 99.8,8.4 99.8,9.6 98.4,9.6" fill="#ff4200"/>
<polygon points="133.3,8.3 135.2,8.3 135.2,10.0 133.3,10.0" fill="#ff4200"/>
<polygon points="137.5,9.5 139.2,9.5 139.2,11.2 137.5,11.2" fill="#ff4200"/>
<polygon points="140.0,9.5 141.7,9.5 141.7,11.2 140.0,11.2" fill="#ff4200"/>
<polygon points="172.5,6.7 174.2,6.7 174.2,10.0 172.5,10.0" fill="#ff4200"/>
<polygon points="175.0,9.5 176.7,9.5 176.7,11.2 175.0,11.2" fill="#ff4200"/>
<polygon points="170.8,12.5 172.5,12.5 172.5,14.2 170.8,14.2" fill="#ff4200"/>
<polygon points="169.6,15.0 171.2,15.0 171.2,16.7 169.6,16.7" fill="#ff4200"/>
<polygon points="162.5,16.7 164.2,16.7 164.2,18.8 162.5,18.8" fill="#ff4200"/>
<polygon points="202.0,11.7 203.7,11.7 203.7,15.5 202.0,15.5" fill="#ff4200"/>
<polygon points="205.8,11.2 209.2,11.2 209.2,13.8 205.8,13.8" fill="#ff4200"/>
</g>
<text x="1.9" y="5.7" font-size="5.2" font-weight="bold" fill="#fff" textLength="1.9" lengthAdjust="spacingAndGlyphs">L</text>
<text x="218.3" y="5.6" font-size="5.2" font-weight="bold" fill="#fff" textLength="2.5" lengthAdjust="spacingAndGlyphs">R</text>
<text x="10.8" y="23.5" font-size="7.7" font-weight="bold" fill="#fff" textLength="6.9" lengthAdjust="spacingAndGlyphs">g)</text>
</g>
<rect x="125.7" y="406.8" width="27.7" height="106.0" fill="#ffff00" fill-opacity="0.152"/>
<line x1="20.60" y1="512.50" x2="222.50" y2="512.50" stroke="#777" stroke-width="0.5" opacity="0.62"/>
<text x="18.4" y="514.35" font-size="4.2" fill="#3c3c3c" text-anchor="end">0,0</text>
<line x1="20.60" y1="504.04" x2="222.50" y2="504.04" stroke="#7f7f7f" stroke-width="0.45" opacity="0.62"/>
<text x="18.4" y="505.89" font-size="4.2" fill="#3c3c3c" text-anchor="end">2,0</text>
<line x1="20.60" y1="495.58" x2="222.50" y2="495.58" stroke="#7f7f7f" stroke-width="0.45" opacity="0.62"/>
<text x="18.4" y="497.43" font-size="4.2" fill="#3c3c3c" text-anchor="end">4,0</text>
<line x1="20.60" y1="487.12" x2="222.50" y2="487.12" stroke="#7f7f7f" stroke-width="0.45" opacity="0.62"/>
<text x="18.4" y="488.98" font-size="4.2" fill="#3c3c3c" text-anchor="end">6,0</text>
<line x1="20.60" y1="478.67" x2="222.50" y2="478.67" stroke="#7f7f7f" stroke-width="0.45" opacity="0.62"/>
<text x="18.4" y="480.52" font-size="4.2" fill="#3c3c3c" text-anchor="end">8,0</text>
<line x1="20.60" y1="470.21" x2="222.50" y2="470.21" stroke="#7f7f7f" stroke-width="0.45" opacity="0.62"/>
<text x="18.4" y="472.06" font-size="4.2" fill="#3c3c3c" text-anchor="end">10,0</text>
<line x1="20.60" y1="461.75" x2="222.50" y2="461.75" stroke="#7f7f7f" stroke-width="0.45" opacity="0.62"/>
<text x="18.4" y="463.60" font-size="4.2" fill="#3c3c3c" text-anchor="end">12,0</text>
<line x1="20.60" y1="453.29" x2="222.50" y2="453.29" stroke="#7f7f7f" stroke-width="0.45" opacity="0.62"/>
<text x="18.4" y="455.14" font-size="4.2" fill="#3c3c3c" text-anchor="end">14,0</text>
<line x1="20.60" y1="444.83" x2="222.50" y2="444.83" stroke="#7f7f7f" stroke-width="0.45" opacity="0.62"/>
<text x="18.4" y="446.68" font-size="4.2" fill="#3c3c3c" text-anchor="end">16,0</text>
<line x1="20.60" y1="436.38" x2="222.50" y2="436.38" stroke="#7f7f7f" stroke-width="0.45" opacity="0.62"/>
<text x="18.4" y="438.23" font-size="4.2" fill="#3c3c3c" text-anchor="end">18,0</text>
<line x1="20.60" y1="427.92" x2="222.50" y2="427.92" stroke="#7f7f7f" stroke-width="0.45" opacity="0.62"/>
<text x="18.4" y="429.77" font-size="4.2" fill="#3c3c3c" text-anchor="end">20,0</text>
<line x1="20.60" y1="419.46" x2="222.50" y2="419.46" stroke="#7f7f7f" stroke-width="0.45" opacity="0.62"/>
<text x="18.4" y="421.31" font-size="4.2" fill="#3c3c3c" text-anchor="end">22,0</text>
<line x1="20.60" y1="411.00" x2="222.50" y2="411.00" stroke="#7f7f7f" stroke-width="0.45" opacity="0.62"/>
<text x="18.4" y="412.85" font-size="4.2" fill="#3c3c3c" text-anchor="end">24,0</text>
<line x1="25.36" y1="512.50" x2="25.36" y2="506.16" stroke="#666" stroke-width="0.35" opacity="0.75"/>
<line x1="32.28" y1="512.50" x2="32.28" y2="499.81" stroke="#666" stroke-width="0.35" opacity="0.75"/>
<line x1="39.19" y1="512.50" x2="39.19" y2="487.12" stroke="#666" stroke-width="0.35" opacity="0.75"/>
<line x1="46.11" y1="512.50" x2="46.11" y2="509.96" stroke="#666" stroke-width="0.35" opacity="0.75"/>
<line x1="53.03" y1="512.50" x2="53.03" y2="495.58" stroke="#666" stroke-width="0.35" opacity="0.75"/>
<line x1="59.94" y1="512.50" x2="59.94" y2="498.54" stroke="#666" stroke-width="0.35" opacity="0.75"/>
<line x1="66.86" y1="512.50" x2="66.86" y2="487.12" stroke="#666" stroke-width="0.35" opacity="0.75"/>
<line x1="73.78" y1="512.50" x2="73.78" y2="458.79" stroke="#666" stroke-width="0.35" opacity="0.75"/>
<line x1="80.70" y1="512.50" x2="80.70" y2="495.58" stroke="#666" stroke-width="0.35" opacity="0.75"/>
<line x1="87.61" y1="512.50" x2="87.61" y2="482.05" stroke="#666" stroke-width="0.35" opacity="0.75"/>
<line x1="94.53" y1="512.50" x2="94.53" y2="505.31" stroke="#666" stroke-width="0.35" opacity="0.75"/>
<line x1="101.45" y1="512.50" x2="101.45" y2="501.93" stroke="#666" stroke-width="0.35" opacity="0.75"/>
<line x1="108.37" y1="512.50" x2="108.37" y2="508.27" stroke="#666" stroke-width="0.35" opacity="0.75"/>
<line x1="115.28" y1="512.50" x2="115.28" y2="509.54" stroke="#666" stroke-width="0.35" opacity="0.75"/>
<line x1="129.12" y1="512.50" x2="129.12" y2="510.39" stroke="#666" stroke-width="0.35" opacity="0.75"/>
<line x1="191.37" y1="512.50" x2="191.37" y2="489.24" stroke="#666" stroke-width="0.35" opacity="0.75"/>
<line x1="198.29" y1="512.50" x2="198.29" y2="507.43" stroke="#666" stroke-width="0.35" opacity="0.75"/>
<line x1="205.21" y1="512.50" x2="205.21" y2="495.58" stroke="#666" stroke-width="0.35" opacity="0.75"/>
<line x1="212.12" y1="512.50" x2="212.12" y2="480.78" stroke="#666" stroke-width="0.35" opacity="0.75"/>
<line x1="219.04" y1="512.50" x2="219.04" y2="467.25" stroke="#666" stroke-width="0.35" opacity="0.75"/>
<line x1="49.57" y1="406.80" x2="49.57" y2="512.50" stroke="#555" stroke-width="0.55" opacity="0.85"/>
<line x1="56.49" y1="406.80" x2="56.49" y2="512.50" stroke="#555" stroke-width="0.55" opacity="0.85"/>
<line x1="91.77" y1="406.80" x2="91.77" y2="512.50" stroke="#555" stroke-width="0.55" opacity="0.85"/>
<line x1="104.91" y1="406.80" x2="104.91" y2="512.50" stroke="#777" stroke-width="0.4" opacity="0.85"/>
<line x1="111.82" y1="406.80" x2="111.82" y2="512.50" stroke="#777" stroke-width="0.4" opacity="0.85"/>
<line x1="125.66" y1="406.80" x2="125.66" y2="512.50" stroke="#777" stroke-width="0.4" opacity="0.85"/>
<line x1="153.33" y1="406.80" x2="153.33" y2="512.50" stroke="#777" stroke-width="0.55" opacity="0.85"/>
<line x1="181.00" y1="406.80" x2="181.00" y2="512.50" stroke="#777" stroke-width="0.4" opacity="0.85"/>
<rect x="21.9" y="406.8" width="200.6" height="105.7" fill="none" stroke="#999" stroke-width="0.5"/>
<line x1="21.90" y1="512.50" x2="21.90" y2="530.50" stroke="#999" stroke-width="0.6"/>
<line x1="28.82" y1="512.50" x2="28.82" y2="523.00" stroke="#bdbdbd" stroke-width="0.5"/>
<line x1="35.73" y1="512.50" x2="35.73" y2="523.00" stroke="#bdbdbd" stroke-width="0.5"/>
<line x1="42.65" y1="512.50" x2="42.65" y2="523.00" stroke="#bdbdbd" stroke-width="0.5"/>
<line x1="49.57" y1="512.50" x2="49.57" y2="530.50" stroke="#999" stroke-width="0.6"/>
<line x1="56.49" y1="512.50" x2="56.49" y2="530.50" stroke="#999" stroke-width="0.6"/>
<line x1="63.40" y1="512.50" x2="63.40" y2="523.00" stroke="#bdbdbd" stroke-width="0.5"/>
<line x1="70.32" y1="512.50" x2="70.32" y2="523.00" stroke="#bdbdbd" stroke-width="0.5"/>
<line x1="77.24" y1="512.50" x2="77.24" y2="523.00" stroke="#bdbdbd" stroke-width="0.5"/>
<line x1="84.16" y1="512.50" x2="84.16" y2="523.00" stroke="#bdbdbd" stroke-width="0.5"/>
<line x1="91.07" y1="512.50" x2="91.07" y2="530.50" stroke="#999" stroke-width="0.6"/>
<line x1="97.99" y1="512.50" x2="97.99" y2="523.00" stroke="#bdbdbd" stroke-width="0.5"/>
<line x1="104.91" y1="512.50" x2="104.91" y2="530.50" stroke="#999" stroke-width="0.6"/>
<line x1="111.82" y1="512.50" x2="111.82" y2="530.50" stroke="#999" stroke-width="0.6"/>
<line x1="118.74" y1="512.50" x2="118.74" y2="523.00" stroke="#bdbdbd" stroke-width="0.5"/>
<line x1="125.66" y1="512.50" x2="125.66" y2="530.50" stroke="#999" stroke-width="0.6"/>
<line x1="132.58" y1="512.50" x2="132.58" y2="523.00" stroke="#bdbdbd" stroke-width="0.5"/>
<line x1="139.49" y1="512.50" x2="139.49" y2="523.00" stroke="#bdbdbd" stroke-width="0.5"/>
<line x1="146.41" y1="512.50" x2="146.41" y2="523.00" stroke="#bdbdbd" stroke-width="0.5"/>
<line x1="153.33" y1="512.50" x2="153.33" y2="530.50" stroke="#999" stroke-width="0.6"/>
<line x1="160.24" y1="512.50" x2="160.24" y2="523.00" stroke="#bdbdbd" stroke-width="0.5"/>
<line x1="167.16" y1="512.50" x2="167.16" y2="523.00" stroke="#bdbdbd" stroke-width="0.5"/>
<line x1="174.08" y1="512.50" x2="174.08" y2="523.00" stroke="#bdbdbd" stroke-width="0.5"/>
<line x1="181.00" y1="512.50" x2="181.00" y2="530.50" stroke="#999" stroke-width="0.6"/>
<line x1="187.91" y1="512.50" x2="187.91" y2="523.00" stroke="#bdbdbd" stroke-width="0.5"/>
<line x1="194.83" y1="512.50" x2="194.83" y2="523.00" stroke="#bdbdbd" stroke-width="0.5"/>
<line x1="201.75" y1="512.50" x2="201.75" y2="523.00" stroke="#bdbdbd" stroke-width="0.5"/>
<line x1="208.67" y1="512.50" x2="208.67" y2="523.00" stroke="#bdbdbd" stroke-width="0.5"/>
<line x1="215.58" y1="512.50" x2="215.58" y2="523.00" stroke="#bdbdbd" stroke-width="0.5"/>
<line x1="222.50" y1="512.50" x2="222.50" y2="530.50" stroke="#999" stroke-width="0.6"/>
<text transform="translate(26.56,514.0) rotate(-90)" font-size="3.7" fill="#111" text-anchor="end">AV</text>
<text transform="translate(33.48,514.0) rotate(-90)" font-size="3.7" fill="#111" text-anchor="end">AM</text>
<text transform="translate(40.39,514.0) rotate(-90)" font-size="3.7" fill="#111" text-anchor="end">AD</text>
<text transform="translate(47.31,514.0) rotate(-90)" font-size="3.7" fill="#111" text-anchor="end">LD</text>
<text transform="translate(54.23,514.0) rotate(-90)" font-size="3.7" fill="#111" text-anchor="end">MD</text>
<text transform="translate(61.14,514.0) rotate(-90)" font-size="3.7" fill="#111" text-anchor="end">CM</text>
<text transform="translate(68.06,514.0) rotate(-90)" font-size="3.7" fill="#111" text-anchor="end">Pf</text>
<text transform="translate(74.98,514.0) rotate(-90)" font-size="3.7" fill="#111" text-anchor="end">sPf</text>
<text transform="translate(81.90,514.0) rotate(-90)" font-size="3.7" fill="#111" text-anchor="end">CL</text>
<text transform="translate(88.81,514.0) rotate(-90)" font-size="3.7" fill="#111" text-anchor="end">CeM</text>
<text transform="translate(95.73,514.0) rotate(-90)" font-size="3.7" fill="#111" text-anchor="end">Pv</text>
<text transform="translate(102.65,514.0) rotate(-90)" font-size="3.7" fill="#111" text-anchor="end">MV</text>
<text transform="translate(109.57,514.0) rotate(-90)" font-size="3.7" fill="#111" text-anchor="end">Hb</text>
<text transform="translate(116.48,514.0) rotate(-90)" font-size="3.7" fill="#111" text-anchor="end">Li</text>
<text transform="translate(123.40,514.0) rotate(-90)" font-size="3.7" fill="#111" text-anchor="end">SG</text>
<text transform="translate(130.32,514.0) rotate(-90)" font-size="3.7" fill="#111" text-anchor="end">LP</text>
<text transform="translate(137.23,514.0) rotate(-90)" font-size="3.7" fill="#111" text-anchor="end">Po</text>
<text transform="translate(144.15,514.0) rotate(-90)" font-size="3.7" fill="#111" text-anchor="end">MGN</text>
<text transform="translate(151.07,514.0) rotate(-90)" font-size="3.7" fill="#111" text-anchor="end">LGN</text>
<text transform="translate(157.99,514.0) rotate(-90)" font-size="3.7" fill="#111" text-anchor="end">PuA</text>
<text transform="translate(164.90,514.0) rotate(-90)" font-size="3.7" fill="#111" text-anchor="end">PuI</text>
<text transform="translate(171.82,514.0) rotate(-90)" font-size="3.7" fill="#111" text-anchor="end">PuL</text>
<text transform="translate(178.74,514.0) rotate(-90)" font-size="3.7" fill="#111" text-anchor="end">PuM</text>
<text transform="translate(185.66,514.0) rotate(-90)" font-size="3.7" fill="#111" text-anchor="end">VPL</text>
<text transform="translate(192.57,514.0) rotate(-90)" font-size="3.7" fill="#111" text-anchor="end">VPM</text>
<text transform="translate(199.49,514.0) rotate(-90)" font-size="3.7" fill="#111" text-anchor="end">VPI</text>
<text transform="translate(206.41,514.0) rotate(-90)" font-size="3.7" fill="#111" text-anchor="end">VL</text>
<text transform="translate(213.32,514.0) rotate(-90)" font-size="3.7" fill="#111" text-anchor="end">VA</text>
<text transform="translate(220.24,514.0) rotate(-90)" font-size="3.7" fill="#111" text-anchor="end">VM</text>
<text x="35.73" y="528.1" font-size="4.4" fill="#4a4a4a" text-anchor="middle">Anterior</text>
<text x="53.03" y="528.1" font-size="4.4" fill="#4a4a4a" text-anchor="middle">MD</text>
<text x="73.78" y="528.1" font-size="4.4" fill="#4a4a4a" text-anchor="middle">Intralaminar</text>
<text x="98.79" y="528.1" font-size="4.4" fill="#4a4a4a" text-anchor="middle">midline</text>
<text x="108.37" y="528.1" font-size="4.4" fill="#4a4a4a" text-anchor="middle">Hb</text>
<text x="118.74" y="528.1" font-size="4.4" fill="#4a4a4a" text-anchor="middle">LI/SG</text>
<text x="139.49" y="528.1" font-size="4.4" fill="#4a4a4a" text-anchor="middle">posterior G</text>
<text x="167.16" y="528.1" font-size="4.4" fill="#4a4a4a" text-anchor="middle">Pulvinar</text>
<text x="201.75" y="528.1" font-size="4.4" fill="#4a4a4a" text-anchor="middle">Lateral</text>
<text transform="translate(6.1,477.1) rotate(-90)" font-size="3.6" font-weight="bold" fill="#444" text-anchor="middle">Neurosynth Topic Percent Overlap</text>
<polyline points="25.36,506.16 32.28,499.81 39.19,487.12 46.11,512.50 53.03,495.58 59.94,498.54 66.86,487.12 73.78,458.79 80.70,495.58 87.61,482.05 94.53,505.31 101.45,501.93 108.37,511.23 115.28,512.50 122.20,512.50 129.12,512.50 136.03,511.23 142.95,512.50 149.87,512.50 156.79,512.50 163.70,512.50 170.62,512.50 177.54,512.50 184.46,512.50 191.37,489.24 198.29,507.43 205.21,495.58 212.12,480.78 219.04,467.25" fill="none" stroke="#ff0000" stroke-width="1.3" stroke-linejoin="round" stroke-linecap="round"/>
<polyline points="25.36,512.50 32.28,512.50 39.19,507.43 46.11,509.96 53.03,511.23 59.94,512.50 66.86,509.54 73.78,507.00 80.70,512.50 87.61,508.27 94.53,512.50 101.45,512.50 108.37,508.27 115.28,509.54 122.20,512.50 129.12,510.39 136.03,512.50 142.95,512.50 149.87,512.50 156.79,512.50 163.70,512.50 170.62,512.50 177.54,512.50 184.46,512.50 191.37,512.50 198.29,512.50 205.21,511.65 212.12,504.04 219.04,512.50" fill="none" stroke="#0000ff" stroke-width="1.3" stroke-linejoin="round" stroke-linecap="round"/>
<line x1="129.80" y1="412.80" x2="146.40" y2="412.80" stroke="#ff0000" stroke-width="1.3"/>
<line x1="129.80" y1="421.80" x2="146.40" y2="421.80" stroke="#0000ff" stroke-width="1.3"/>
<text x="147.6" y="414.4" font-size="4.6" fill="#333" textLength="30.5" lengthAdjust="spacingAndGlyphs">Right Thalamus</text>
<text x="147.6" y="423.4" font-size="4.6" fill="#333" textLength="28" lengthAdjust="spacingAndGlyphs">Left Thalamus</text>
<text x="35.5" y="418.9" font-size="5.3" font-weight="bold" fill="#111" text-anchor="middle">EX #8</text>
<rect x="21.9" y="406.8" width="27.7" height="106.0" fill="#00b050" fill-opacity="0.220"/>
<rect x="49.6" y="406.8" width="6.9" height="106.0" fill="#ff0000" fill-opacity="0.310"/>
<rect x="56.5" y="406.8" width="35.3" height="106.0" fill="#ff0000" fill-opacity="0.215"/>
<rect x="91.8" y="406.8" width="13.1" height="106.0" fill="#ff0000" fill-opacity="0.135"/>
<rect x="104.9" y="406.8" width="6.9" height="106.0" fill="#ff00ff" fill-opacity="0.215"/>
<rect x="111.8" y="406.8" width="13.8" height="106.0" fill="#ff00ff" fill-opacity="0.120"/>
<rect x="125.7" y="406.8" width="27.7" height="106.0" fill="#ffff00" fill-opacity="0.340"/>
<rect x="153.3" y="406.8" width="27.7" height="106.0" fill="#ffff96" fill-opacity="0.330"/>
<rect x="181.0" y="406.8" width="41.5" height="106.0" fill="#0000ff" fill-opacity="0.170"/>
<text x="35.8" y="538.8" font-size="8.0" fill="#111" textLength="153.3" lengthAdjust="spacingAndGlyphs" style="white-space:pre">prefrontal_cortex_pfc, control_conflict_task;</text>
<text x="15.0" y="548.5" font-size="8.0" fill="#111" textLength="195.1" lengthAdjust="spacingAndGlyphs" style="white-space:pre">memory_working_wm; pain_somatosensory_stimulation</text>
<!-- panel h -->
<rect x="231.5" y="401.5" width="223.0" height="149.0" fill="#fff" stroke="#999" stroke-width="1"/>
<line x1="231.00" y1="530.50" x2="455.00" y2="530.50" stroke="#555" stroke-width="1"/>
<g transform="translate(231.1,371.8)">
<rect x="0.0" y="0.0" width="223.1" height="29.0" fill="#000"/>
<g transform="translate(0.3,0)">
<polygon points="5.8,6.7 12.0,6.7 12.0,11.0 10.8,13.2 9.3,15.2 7.6,17.5 6.4,19.6 5.2,20.7 1.6,20.7 0.9,19.6 0.9,15.2 1.8,13.7 2.9,11.7 4.1,9.6 5.0,8.2" fill="#1400ff"/>
<polygon points="19.0,5.3 21.9,5.3 23.1,6.7 24.2,8.2 25.1,9.6 26.0,11.7 26.6,13.4 27.6,15.2 27.6,20.4 20.7,20.7 19.0,18.7 19.0,13.4 18.4,11.7 17.7,9.6 17.7,6.7 18.4,5.8" fill="#1400ff"/>
<polygon points="45.5,3.0 46.2,2.3 46.8,3.0 47.6,4.0 50.0,4.2 50.0,5.5 51.4,7.0 51.4,16.6 50.0,18.4 48.8,20.1 47.4,21.9 45.9,23.7 37.4,23.7 37.4,15.2 38.9,12.3 40.0,8.2 41.5,5.3 43.2,5.3 44.7,3.8" fill="#1400ff"/>
<polygon points="55.8,2.3 59.6,2.3 59.6,3.8 62.5,4.1 62.5,5.8 64.0,7.0 65.4,8.5 65.4,15.2 66.9,15.5 66.9,18.1 68.1,18.4 68.1,23.7 60.2,23.7 59.9,22.2 57.3,21.9 57.0,20.1 55.5,18.7 54.0,17.5 54.0,4.4 55.8,3.8" fill="#1400ff"/>
<polygon points="84.4,1.1 86.4,2.6 87.9,4.1 89.3,5.3 89.3,7.9 90.8,7.9 90.8,5.3 92.3,2.6 94.6,2.3 95.2,1.1 97.5,1.1 99.3,2.6 100.7,4.4 100.7,5.8 102.8,8.2 103.4,11.1 104.5,12.3 104.8,14.9 106.0,15.2 106.0,24.7 100.7,24.8 100.4,26.0 99.3,26.0 98.7,25.1 96.3,24.8 95.2,23.4 93.7,21.9 92.8,19.9 92.3,17.5 91.4,16.6 89.3,16.6 88.2,17.5 87.9,19.9 86.4,21.9 85.8,23.4 84.1,24.8 83.5,26.0 77.1,26.0 76.5,25.1 74.2,24.8 74.0,19.3 75.3,18.7 75.3,14.0 76.5,13.7 77.7,12.3 78.0,8.2 79.4,7.6 79.7,5.3 81.2,4.1 82.6,2.6" fill="#1400ff"/>
<polygon points="123.8,1.1 125.9,2.6 127.0,2.9 127.0,6.7 128.8,6.7 128.8,2.9 130.8,2.3 132.0,1.1 133.8,1.1 135.5,2.6 137.3,4.4 138.7,5.8 140.2,7.6 140.8,10.5 142.2,12.3 142.5,14.6 144.0,15.2 144.0,21.6 146.6,23.9 145.4,24.8 142.5,25.1 141.9,26.0 134.3,26.0 132.9,24.5 132.6,21.9 131.4,20.4 130.3,18.7 128.8,17.5 128.8,15.2 127.0,15.2 127.0,18.1 125.6,19.9 124.4,21.9 124.1,24.5 122.7,26.0 121.8,27.4 113.3,27.4 111.9,26.0 110.1,24.2 112.7,21.9 113.0,19.6 111.6,18.7 113.0,17.5 113.0,14.0 114.5,13.7 115.7,12.3 116.0,10.5 117.4,7.6 118.6,5.8 118.9,4.1 121.5,3.8 122.7,2.3" fill="#1400ff"/>
<polygon points="161.0,2.3 164.8,2.3 165.0,3.8 165.0,6.7 166.5,6.7 166.8,4.1 168.0,2.6 170.6,2.3 170.9,3.8 173.5,4.1 173.8,6.4 175.3,6.7 176.7,8.5 176.7,11.1 178.8,12.6 180.2,14.0 180.5,19.3 179.4,20.7 179.4,21.9 183.4,22.2 184.6,23.7 183.1,25.1 182.3,26.0 174.1,26.3 172.1,24.5 170.9,22.2 169.4,20.4 168.0,18.7 167.7,14.0 166.8,12.6 165.0,12.3 165.0,17.5 163.6,19.3 162.4,20.7 161.0,22.2 160.7,26.0 159.5,27.4 150.2,27.4 148.1,25.1 149.3,23.4 150.7,22.2 151.0,15.5 152.5,14.0 154.0,12.6 155.4,11.1 156.9,9.6 158.0,8.2 158.0,5.3 159.5,3.8" fill="#1400ff"/>
<polygon points="200.1,4.0 202.8,4.0 202.8,14.7 201.3,15.0 199.5,16.6 197.9,17.8 196.1,19.6 195.8,24.8 194.2,24.8 194.2,20.8 193.0,20.2 193.0,17.2 194.5,15.6 196.1,15.3 197.6,13.8 199.1,12.3 200.4,11.3 200.4,8.3 198.8,8.0 198.8,6.7 200.1,6.1" fill="#1400ff"/>
<polygon points="186.3,23.3 195.8,23.0 195.8,24.8 192.7,25.1 192.7,26.1 188.1,26.1 186.0,24.5" fill="#1400ff"/>
<polygon points="205.9,5.2 208.7,5.2 208.7,7.7 207.4,8.0 207.4,10.7 208.7,11.0 208.7,13.2 210.2,13.8 210.2,14.7 212.9,15.0 212.9,16.2 214.2,16.9 214.2,17.8 212.9,18.1 212.9,19.3 211.4,19.3 211.4,17.8 210.2,16.2 208.7,15.9 207.4,15.0 205.9,14.7" fill="#1400ff"/>
<polygon points="212.9,22.1 220.3,22.1 220.3,23.6 222.1,23.6 222.1,24.8 216.0,24.8 216.0,23.6 212.9,23.6" fill="#1400ff"/>
<g clip-path="url(#clipH)">
<polygon points="5.8,6.7 12.0,6.7 12.0,11.0 10.8,13.2 9.3,15.2 7.6,17.5 6.4,19.6 5.2,20.7 1.6,20.7 0.9,19.6 0.9,15.2 1.8,13.7 2.9,11.7 4.1,9.6 5.0,8.2" fill="url(#gH)"/>
<polygon points="19.0,5.3 21.9,5.3 23.1,6.7 24.2,8.2 25.1,9.6 26.0,11.7 26.6,13.4 27.6,15.2 27.6,20.4 20.7,20.7 19.0,18.7 19.0,13.4 18.4,11.7 17.7,9.6 17.7,6.7 18.4,5.8" fill="url(#gH)"/>
<polygon points="45.5,3.0 46.2,2.3 46.8,3.0 47.6,4.0 50.0,4.2 50.0,5.5 51.4,7.0 51.4,16.6 50.0,18.4 48.8,20.1 47.4,21.9 45.9,23.7 37.4,23.7 37.4,15.2 38.9,12.3 40.0,8.2 41.5,5.3 43.2,5.3 44.7,3.8" fill="url(#gH)"/>
<polygon points="55.8,2.3 59.6,2.3 59.6,3.8 62.5,4.1 62.5,5.8 64.0,7.0 65.4,8.5 65.4,15.2 66.9,15.5 66.9,18.1 68.1,18.4 68.1,23.7 60.2,23.7 59.9,22.2 57.3,21.9 57.0,20.1 55.5,18.7 54.0,17.5 54.0,4.4 55.8,3.8" fill="url(#gH)"/>
<polygon points="84.4,1.1 86.4,2.6 87.9,4.1 89.3,5.3 89.3,7.9 90.8,7.9 90.8,5.3 92.3,2.6 94.6,2.3 95.2,1.1 97.5,1.1 99.3,2.6 100.7,4.4 100.7,5.8 102.8,8.2 103.4,11.1 104.5,12.3 104.8,14.9 106.0,15.2 106.0,24.7 100.7,24.8 100.4,26.0 99.3,26.0 98.7,25.1 96.3,24.8 95.2,23.4 93.7,21.9 92.8,19.9 92.3,17.5 91.4,16.6 89.3,16.6 88.2,17.5 87.9,19.9 86.4,21.9 85.8,23.4 84.1,24.8 83.5,26.0 77.1,26.0 76.5,25.1 74.2,24.8 74.0,19.3 75.3,18.7 75.3,14.0 76.5,13.7 77.7,12.3 78.0,8.2 79.4,7.6 79.7,5.3 81.2,4.1 82.6,2.6" fill="url(#gH)"/>
<polygon points="123.8,1.1 125.9,2.6 127.0,2.9 127.0,6.7 128.8,6.7 128.8,2.9 130.8,2.3 132.0,1.1 133.8,1.1 135.5,2.6 137.3,4.4 138.7,5.8 140.2,7.6 140.8,10.5 142.2,12.3 142.5,14.6 144.0,15.2 144.0,21.6 146.6,23.9 145.4,24.8 142.5,25.1 141.9,26.0 134.3,26.0 132.9,24.5 132.6,21.9 131.4,20.4 130.3,18.7 128.8,17.5 128.8,15.2 127.0,15.2 127.0,18.1 125.6,19.9 124.4,21.9 124.1,24.5 122.7,26.0 121.8,27.4 113.3,27.4 111.9,26.0 110.1,24.2 112.7,21.9 113.0,19.6 111.6,18.7 113.0,17.5 113.0,14.0 114.5,13.7 115.7,12.3 116.0,10.5 117.4,7.6 118.6,5.8 118.9,4.1 121.5,3.8 122.7,2.3" fill="url(#gH)"/>
<polygon points="161.0,2.3 164.8,2.3 165.0,3.8 165.0,6.7 166.5,6.7 166.8,4.1 168.0,2.6 170.6,2.3 170.9,3.8 173.5,4.1 173.8,6.4 175.3,6.7 176.7,8.5 176.7,11.1 178.8,12.6 180.2,14.0 180.5,19.3 179.4,20.7 179.4,21.9 183.4,22.2 184.6,23.7 183.1,25.1 182.3,26.0 174.1,26.3 172.1,24.5 170.9,22.2 169.4,20.4 168.0,18.7 167.7,14.0 166.8,12.6 165.0,12.3 165.0,17.5 163.6,19.3 162.4,20.7 161.0,22.2 160.7,26.0 159.5,27.4 150.2,27.4 148.1,25.1 149.3,23.4 150.7,22.2 151.0,15.5 152.5,14.0 154.0,12.6 155.4,11.1 156.9,9.6 158.0,8.2 158.0,5.3 159.5,3.8" fill="url(#gH)"/>
<polygon points="200.1,4.0 202.8,4.0 202.8,14.7 201.3,15.0 199.5,16.6 197.9,17.8 196.1,19.6 195.8,24.8 194.2,24.8 194.2,20.8 193.0,20.2 193.0,17.2 194.5,15.6 196.1,15.3 197.6,13.8 199.1,12.3 200.4,11.3 200.4,8.3 198.8,8.0 198.8,6.7 200.1,6.1" fill="url(#gH)"/>
<polygon points="205.9,5.2 208.7,5.2 208.7,7.7 207.4,8.0 207.4,10.7 208.7,11.0 208.7,13.2 210.2,13.8 210.2,14.7 212.9,15.0 212.9,16.2 214.2,16.9 214.2,17.8 212.9,18.1 212.9,19.3 211.4,19.3 211.4,17.8 210.2,16.2 208.7,15.9 207.4,15.0 205.9,14.7" fill="url(#gH)"/>
</g>
<polygon points="55.0,3.0 60.0,3.0 60.0,4.6 55.0,4.6" fill="#1400ff"/>
<polygon points="63.0,21.6 68.3,21.6 68.3,23.0 63.0,23.0" fill="#1400ff"/>
<polygon points="19.0,5.0 21.5,5.0 21.5,7.0 19.0,7.0" fill="#1400ff"/>
<polygon points="8.0,7.0 12.5,7.0 12.5,8.5 8.0,8.5" fill="#1400ff"/>
<polygon points="45.0,3.3 47.5,3.3 47.5,4.8 45.0,4.8" fill="#1400ff"/>
<polygon points="23.5,19.0 27.5,19.0 27.5,20.3 23.5,20.3" fill="#1400ff"/>
<polygon points="6.5,18.3 8.0,18.3 8.0,19.6 6.5,19.6" fill="#1400ff"/>
<polygon points="38.0,21.5 40.0,21.5 40.0,23.3 38.0,23.3" fill="#1400ff"/>
<polygon points="64.0,8.0 65.4,8.0 65.4,10.0 64.0,10.0" fill="#1400ff"/>
<polygon points="178.0,12.5 179.6,12.5 179.6,14.5 178.0,14.5" fill="#1400ff"/>
</g>
<text x="1.9" y="5.7" font-size="5.2" font-weight="bold" fill="#fff" textLength="1.9" lengthAdjust="spacingAndGlyphs">L</text>
<text x="218.5" y="5.6" font-size="5.2" font-weight="bold" fill="#fff" textLength="2.5" lengthAdjust="spacingAndGlyphs">R</text>
<text x="9.9" y="23.9" font-size="7.7" font-weight="bold" fill="#fff" textLength="7.4" lengthAdjust="spacingAndGlyphs">h)</text>
</g>
<rect x="252.6" y="404.0" width="27.6" height="108.2" fill="#00b050" fill-opacity="0.220"/>
<rect x="280.2" y="404.0" width="6.9" height="108.2" fill="#ff0000" fill-opacity="0.310"/>
<rect x="287.1" y="404.0" width="35.2" height="108.2" fill="#ff0000" fill-opacity="0.215"/>
<rect x="322.2" y="404.0" width="13.1" height="108.2" fill="#ff0000" fill-opacity="0.135"/>
<rect x="335.3" y="404.0" width="6.9" height="108.2" fill="#ff00ff" fill-opacity="0.215"/>
<rect x="342.2" y="404.0" width="13.8" height="108.2" fill="#ff00ff" fill-opacity="0.120"/>
<rect x="356.0" y="404.0" width="27.6" height="108.2" fill="#ffff00" fill-opacity="0.440"/>
<rect x="383.6" y="404.0" width="27.6" height="108.2" fill="#ffff00" fill-opacity="0.150"/>
<rect x="411.1" y="404.0" width="41.4" height="108.2" fill="#0000ff" fill-opacity="0.170"/>
<line x1="251.30" y1="512.20" x2="452.50" y2="512.20" stroke="#777" stroke-width="0.5" opacity="0.62"/>
<text x="249.1" y="514.05" font-size="4.2" fill="#3c3c3c" text-anchor="end">0,0</text>
<line x1="251.30" y1="501.67" x2="452.50" y2="501.67" stroke="#7f7f7f" stroke-width="0.45" opacity="0.62"/>
<text x="249.1" y="503.52" font-size="4.2" fill="#3c3c3c" text-anchor="end">10,0</text>
<line x1="251.30" y1="491.14" x2="452.50" y2="491.14" stroke="#7f7f7f" stroke-width="0.45" opacity="0.62"/>
<text x="249.1" y="492.99" font-size="4.2" fill="#3c3c3c" text-anchor="end">20,0</text>
<line x1="251.30" y1="480.61" x2="452.50" y2="480.61" stroke="#7f7f7f" stroke-width="0.45" opacity="0.62"/>
<text x="249.1" y="482.46" font-size="4.2" fill="#3c3c3c" text-anchor="end">30,0</text>
<line x1="251.30" y1="470.08" x2="452.50" y2="470.08" stroke="#7f7f7f" stroke-width="0.45" opacity="0.62"/>
<text x="249.1" y="471.93" font-size="4.2" fill="#3c3c3c" text-anchor="end">40,0</text>
<line x1="251.30" y1="459.55" x2="452.50" y2="459.55" stroke="#7f7f7f" stroke-width="0.45" opacity="0.62"/>
<text x="249.1" y="461.40" font-size="4.2" fill="#3c3c3c" text-anchor="end">50,0</text>
<line x1="251.30" y1="449.02" x2="452.50" y2="449.02" stroke="#7f7f7f" stroke-width="0.45" opacity="0.62"/>
<text x="249.1" y="450.87" font-size="4.2" fill="#3c3c3c" text-anchor="end">60,0</text>
<line x1="251.30" y1="438.49" x2="452.50" y2="438.49" stroke="#7f7f7f" stroke-width="0.45" opacity="0.62"/>
<text x="249.1" y="440.34" font-size="4.2" fill="#3c3c3c" text-anchor="end">70,0</text>
<line x1="251.30" y1="427.96" x2="452.50" y2="427.96" stroke="#7f7f7f" stroke-width="0.45" opacity="0.62"/>
<text x="249.1" y="429.81" font-size="4.2" fill="#3c3c3c" text-anchor="end">80,0</text>
<line x1="251.30" y1="417.43" x2="452.50" y2="417.43" stroke="#7f7f7f" stroke-width="0.45" opacity="0.62"/>
<text x="249.1" y="419.28" font-size="4.2" fill="#3c3c3c" text-anchor="end">90,0</text>
<line x1="251.30" y1="406.90" x2="452.50" y2="406.90" stroke="#7f7f7f" stroke-width="0.45" opacity="0.62"/>
<text x="249.1" y="408.75" font-size="4.2" fill="#3c3c3c" text-anchor="end">100,0</text>
<line x1="256.05" y1="512.20" x2="256.05" y2="446.91" stroke="#666" stroke-width="0.35" opacity="0.75"/>
<line x1="262.94" y1="512.20" x2="262.94" y2="438.49" stroke="#666" stroke-width="0.35" opacity="0.75"/>
<line x1="269.83" y1="512.20" x2="269.83" y2="454.29" stroke="#666" stroke-width="0.35" opacity="0.75"/>
<line x1="276.73" y1="512.20" x2="276.73" y2="447.97" stroke="#666" stroke-width="0.35" opacity="0.75"/>
<line x1="283.62" y1="512.20" x2="283.62" y2="412.16" stroke="#666" stroke-width="0.35" opacity="0.75"/>
<line x1="290.51" y1="512.20" x2="290.51" y2="406.90" stroke="#666" stroke-width="0.35" opacity="0.75"/>
<line x1="297.41" y1="512.20" x2="297.41" y2="407.95" stroke="#666" stroke-width="0.35" opacity="0.75"/>
<line x1="304.30" y1="512.20" x2="304.30" y2="413.22" stroke="#666" stroke-width="0.35" opacity="0.75"/>
<line x1="311.19" y1="512.20" x2="311.19" y2="417.43" stroke="#666" stroke-width="0.35" opacity="0.75"/>
<line x1="318.08" y1="512.20" x2="318.08" y2="413.22" stroke="#666" stroke-width="0.35" opacity="0.75"/>
<line x1="324.98" y1="512.20" x2="324.98" y2="414.27" stroke="#666" stroke-width="0.35" opacity="0.75"/>
<line x1="331.87" y1="512.20" x2="331.87" y2="411.11" stroke="#666" stroke-width="0.35" opacity="0.75"/>
<line x1="338.76" y1="512.20" x2="338.76" y2="432.17" stroke="#666" stroke-width="0.35" opacity="0.75"/>
<line x1="345.66" y1="512.20" x2="345.66" y2="415.32" stroke="#666" stroke-width="0.35" opacity="0.75"/>
<line x1="352.55" y1="512.20" x2="352.55" y2="430.07" stroke="#666" stroke-width="0.35" opacity="0.75"/>
<line x1="359.44" y1="512.20" x2="359.44" y2="429.01" stroke="#666" stroke-width="0.35" opacity="0.75"/>
<line x1="366.34" y1="512.20" x2="366.34" y2="419.54" stroke="#666" stroke-width="0.35" opacity="0.75"/>
<line x1="373.23" y1="512.20" x2="373.23" y2="463.76" stroke="#666" stroke-width="0.35" opacity="0.75"/>
<line x1="380.12" y1="512.20" x2="380.12" y2="506.94" stroke="#666" stroke-width="0.35" opacity="0.75"/>
<line x1="387.02" y1="512.20" x2="387.02" y2="406.90" stroke="#666" stroke-width="0.35" opacity="0.75"/>
<line x1="393.91" y1="512.20" x2="393.91" y2="499.56" stroke="#666" stroke-width="0.35" opacity="0.75"/>
<line x1="400.80" y1="512.20" x2="400.80" y2="478.50" stroke="#666" stroke-width="0.35" opacity="0.75"/>
<line x1="407.69" y1="512.20" x2="407.69" y2="451.13" stroke="#666" stroke-width="0.35" opacity="0.75"/>
<line x1="414.59" y1="512.20" x2="414.59" y2="415.32" stroke="#666" stroke-width="0.35" opacity="0.75"/>
<line x1="421.48" y1="512.20" x2="421.48" y2="410.06" stroke="#666" stroke-width="0.35" opacity="0.75"/>
<line x1="428.37" y1="512.20" x2="428.37" y2="414.27" stroke="#666" stroke-width="0.35" opacity="0.75"/>
<line x1="435.27" y1="512.20" x2="435.27" y2="420.59" stroke="#666" stroke-width="0.35" opacity="0.75"/>
<line x1="442.16" y1="512.20" x2="442.16" y2="418.48" stroke="#666" stroke-width="0.35" opacity="0.75"/>
<line x1="449.05" y1="512.20" x2="449.05" y2="406.90" stroke="#666" stroke-width="0.35" opacity="0.75"/>
<rect x="252.6" y="404.0" width="199.9" height="108.2" fill="none" stroke="#999" stroke-width="0.5"/>
<line x1="252.60" y1="512.20" x2="252.60" y2="530.50" stroke="#999" stroke-width="0.6"/>
<line x1="259.49" y1="512.20" x2="259.49" y2="522.70" stroke="#bdbdbd" stroke-width="0.5"/>
<line x1="266.39" y1="512.20" x2="266.39" y2="522.70" stroke="#bdbdbd" stroke-width="0.5"/>
<line x1="273.28" y1="512.20" x2="273.28" y2="522.70" stroke="#bdbdbd" stroke-width="0.5"/>
<line x1="280.17" y1="512.20" x2="280.17" y2="530.50" stroke="#999" stroke-width="0.6"/>
<line x1="287.07" y1="512.20" x2="287.07" y2="530.50" stroke="#999" stroke-width="0.6"/>
<line x1="293.96" y1="512.20" x2="293.96" y2="522.70" stroke="#bdbdbd" stroke-width="0.5"/>
<line x1="300.85" y1="512.20" x2="300.85" y2="522.70" stroke="#bdbdbd" stroke-width="0.5"/>
<line x1="307.74" y1="512.20" x2="307.74" y2="522.70" stroke="#bdbdbd" stroke-width="0.5"/>
<line x1="314.64" y1="512.20" x2="314.64" y2="522.70" stroke="#bdbdbd" stroke-width="0.5"/>
<line x1="321.53" y1="512.20" x2="321.53" y2="530.50" stroke="#999" stroke-width="0.6"/>
<line x1="328.42" y1="512.20" x2="328.42" y2="522.70" stroke="#bdbdbd" stroke-width="0.5"/>
<line x1="335.32" y1="512.20" x2="335.32" y2="530.50" stroke="#999" stroke-width="0.6"/>
<line x1="342.21" y1="512.20" x2="342.21" y2="530.50" stroke="#999" stroke-width="0.6"/>
<line x1="349.10" y1="512.20" x2="349.10" y2="522.70" stroke="#bdbdbd" stroke-width="0.5"/>
<line x1="356.00" y1="512.20" x2="356.00" y2="530.50" stroke="#999" stroke-width="0.6"/>
<line x1="362.89" y1="512.20" x2="362.89" y2="522.70" stroke="#bdbdbd" stroke-width="0.5"/>
<line x1="369.78" y1="512.20" x2="369.78" y2="522.70" stroke="#bdbdbd" stroke-width="0.5"/>
<line x1="376.68" y1="512.20" x2="376.68" y2="522.70" stroke="#bdbdbd" stroke-width="0.5"/>
<line x1="383.57" y1="512.20" x2="383.57" y2="530.50" stroke="#999" stroke-width="0.6"/>
<line x1="390.46" y1="512.20" x2="390.46" y2="522.70" stroke="#bdbdbd" stroke-width="0.5"/>
<line x1="397.36" y1="512.20" x2="397.36" y2="522.70" stroke="#bdbdbd" stroke-width="0.5"/>
<line x1="404.25" y1="512.20" x2="404.25" y2="522.70" stroke="#bdbdbd" stroke-width="0.5"/>
<line x1="411.14" y1="512.20" x2="411.14" y2="530.50" stroke="#999" stroke-width="0.6"/>
<line x1="418.03" y1="512.20" x2="418.03" y2="522.70" stroke="#bdbdbd" stroke-width="0.5"/>
<line x1="424.93" y1="512.20" x2="424.93" y2="522.70" stroke="#bdbdbd" stroke-width="0.5"/>
<line x1="431.82" y1="512.20" x2="431.82" y2="522.70" stroke="#bdbdbd" stroke-width="0.5"/>
<line x1="438.71" y1="512.20" x2="438.71" y2="522.70" stroke="#bdbdbd" stroke-width="0.5"/>
<line x1="445.61" y1="512.20" x2="445.61" y2="522.70" stroke="#bdbdbd" stroke-width="0.5"/>
<line x1="452.50" y1="512.20" x2="452.50" y2="530.50" stroke="#999" stroke-width="0.6"/>
<text transform="translate(257.25,513.7) rotate(-90)" font-size="3.7" fill="#111" text-anchor="end">AV</text>
<text transform="translate(264.14,513.7) rotate(-90)" font-size="3.7" fill="#111" text-anchor="end">AM</text>
<text transform="translate(271.03,513.7) rotate(-90)" font-size="3.7" fill="#111" text-anchor="end">AD</text>
<text transform="translate(277.93,513.7) rotate(-90)" font-size="3.7" fill="#111" text-anchor="end">LD</text>
<text transform="translate(284.82,513.7) rotate(-90)" font-size="3.7" fill="#111" text-anchor="end">MD</text>
<text transform="translate(291.71,513.7) rotate(-90)" font-size="3.7" fill="#111" text-anchor="end">CM</text>
<text transform="translate(298.61,513.7) rotate(-90)" font-size="3.7" fill="#111" text-anchor="end">Pf</text>
<text transform="translate(305.50,513.7) rotate(-90)" font-size="3.7" fill="#111" text-anchor="end">sPf</text>
<text transform="translate(312.39,513.7) rotate(-90)" font-size="3.7" fill="#111" text-anchor="end">CL</text>
<text transform="translate(319.28,513.7) rotate(-90)" font-size="3.7" fill="#111" text-anchor="end">CeM</text>
<text transform="translate(326.18,513.7) rotate(-90)" font-size="3.7" fill="#111" text-anchor="end">Pv</text>
<text transform="translate(333.07,513.7) rotate(-90)" font-size="3.7" fill="#111" text-anchor="end">MV</text>
<text transform="translate(339.96,513.7) rotate(-90)" font-size="3.7" fill="#111" text-anchor="end">Hb</text>
<text transform="translate(346.86,513.7) rotate(-90)" font-size="3.7" fill="#111" text-anchor="end">Li</text>
<text transform="translate(353.75,513.7) rotate(-90)" font-size="3.7" fill="#111" text-anchor="end">SG</text>
<text transform="translate(360.64,513.7) rotate(-90)" font-size="3.7" fill="#111" text-anchor="end">LP</text>
<text transform="translate(367.54,513.7) rotate(-90)" font-size="3.7" fill="#111" text-anchor="end">Po</text>
<text transform="translate(374.43,513.7) rotate(-90)" font-size="3.7" fill="#111" text-anchor="end">MGN</text>
<text transform="translate(381.32,513.7) rotate(-90)" font-size="3.7" fill="#111" text-anchor="end">LGN</text>
<text transform="translate(388.22,513.7) rotate(-90)" font-size="3.7" fill="#111" text-anchor="end">PuA</text>
<text transform="translate(395.11,513.7) rotate(-90)" font-size="3.7" fill="#111" text-anchor="end">PuI</text>
<text transform="translate(402.00,513.7) rotate(-90)" font-size="3.7" fill="#111" text-anchor="end">PuL</text>
<text transform="translate(408.89,513.7) rotate(-90)" font-size="3.7" fill="#111" text-anchor="end">PuM</text>
<text transform="translate(415.79,513.7) rotate(-90)" font-size="3.7" fill="#111" text-anchor="end">VPL</text>
<text transform="translate(422.68,513.7) rotate(-90)" font-size="3.7" fill="#111" text-anchor="end">VPM</text>
<text transform="translate(429.57,513.7) rotate(-90)" font-size="3.7" fill="#111" text-anchor="end">VPI</text>
<text transform="translate(436.47,513.7) rotate(-90)" font-size="3.7" fill="#111" text-anchor="end">VL</text>
<text transform="translate(443.36,513.7) rotate(-90)" font-size="3.7" fill="#111" text-anchor="end">VA</text>
<text transform="translate(450.25,513.7) rotate(-90)" font-size="3.7" fill="#111" text-anchor="end">VM</text>
<text x="266.39" y="527.8" font-size="4.4" fill="#4a4a4a" text-anchor="middle">Anterior</text>
<text x="283.62" y="527.8" font-size="4.4" fill="#4a4a4a" text-anchor="middle">MD</text>
<text x="304.30" y="527.8" font-size="4.4" fill="#4a4a4a" text-anchor="middle">Intralaminar</text>
<text x="329.22" y="527.8" font-size="4.4" fill="#4a4a4a" text-anchor="middle">midline</text>
<text x="338.76" y="527.8" font-size="4.4" fill="#4a4a4a" text-anchor="middle">Hb</text>
<text x="349.10" y="527.8" font-size="4.4" fill="#4a4a4a" text-anchor="middle">LI/SG</text>
<text x="369.78" y="527.8" font-size="4.4" fill="#4a4a4a" text-anchor="middle">posterior G</text>
<text x="397.36" y="527.8" font-size="4.4" fill="#4a4a4a" text-anchor="middle">Pulvinar</text>
<text x="431.82" y="527.8" font-size="4.4" fill="#4a4a4a" text-anchor="middle">Lateral</text>
<text transform="translate(237.1,475.6) rotate(-90)" font-size="3.6" font-weight="bold" fill="#444" text-anchor="middle">Neurosynth Topic Percent Overlap</text>
<polyline points="256.05,463.76 262.94,438.49 269.83,457.44 276.73,466.92 283.62,419.54 290.51,407.95 297.41,421.64 304.30,417.43 311.19,427.96 318.08,418.48 324.98,414.27 331.87,411.11 338.76,464.81 345.66,445.86 352.55,453.23 359.44,432.17 366.34,432.17 373.23,469.03 380.12,506.94 387.02,409.01 393.91,499.56 400.80,480.61 407.69,474.29 414.59,415.32 421.48,413.22 428.37,414.27 435.27,420.59 442.16,418.48 449.05,406.90" fill="none" stroke="#ff0000" stroke-width="1.3" stroke-linejoin="round" stroke-linecap="round"/>
<polyline points="256.05,446.91 262.94,449.02 269.83,454.29 276.73,447.97 283.62,412.16 290.51,406.90 297.41,407.95 304.30,413.22 311.19,417.43 318.08,413.22 324.98,414.27 331.87,411.11 338.76,432.17 345.66,415.32 352.55,430.07 359.44,429.01 366.34,419.54 373.23,463.76 380.12,506.94 387.02,406.90 393.91,500.62 400.80,478.50 407.69,451.13 414.59,419.54 421.48,410.06 428.37,414.27 435.27,427.96 442.16,436.38 449.05,418.48" fill="none" stroke="#0000ff" stroke-width="1.3" stroke-linejoin="round" stroke-linecap="round"/>
<line x1="359.60" y1="410.80" x2="376.20" y2="410.80" stroke="#ff0000" stroke-width="1.3"/>
<line x1="359.60" y1="419.80" x2="376.20" y2="419.80" stroke="#0000ff" stroke-width="1.3"/>
<text x="377.4" y="412.4" font-size="4.6" fill="#333" textLength="30.5" lengthAdjust="spacingAndGlyphs">Right Thalamus</text>
<text x="377.4" y="421.4" font-size="4.6" fill="#333" textLength="28" lengthAdjust="spacingAndGlyphs">Left Thalamus</text>
<text x="267.9" y="417.1" font-size="5.3" font-weight="bold" fill="#111" text-anchor="middle">Rfro #9</text>
<text x="255.6" y="538.7" font-size="8.0" fill="#111" textLength="174.8" lengthAdjust="spacingAndGlyphs" style="white-space:pre">response_inhibition_control; control_conflict_task;</text>
<text x="245.2" y="548.6" font-size="8.0" fill="#111" textLength="195.7" lengthAdjust="spacingAndGlyphs" style="white-space:pre">memory_working_wm; pain_somatosensory_stimulation</text>
<!-- panel i -->
<rect x="461.5" y="402.5" width="223.0" height="148.0" fill="#fff" stroke="#999" stroke-width="1"/>
<line x1="461.00" y1="530.50" x2="685.00" y2="530.50" stroke="#555" stroke-width="1"/>
<g transform="translate(460.0,371.8)">
<rect x="0.0" y="0.0" width="223.9" height="29.0" fill="#000"/>
<g transform="translate(0.0,0)">
<polygon points="5.8,6.7 12.0,6.7 12.0,11.0 10.8,13.2 9.3,15.2 7.6,17.5 6.4,19.6 5.2,20.7 1.6,20.7 0.9,19.6 0.9,15.2 1.8,13.7 2.9,11.7 4.1,9.6 5.0,8.2" fill="#1400ff"/>
<polygon points="19.0,5.3 21.9,5.3 23.1,6.7 24.2,8.2 25.1,9.6 26.0,11.7 26.6,13.4 27.6,15.2 27.6,20.4 20.7,20.7 19.0,18.7 19.0,13.4 18.4,11.7 17.7,9.6 17.7,6.7 18.4,5.8" fill="#1400ff"/>
<polygon points="45.5,3.0 46.2,2.3 46.8,3.0 47.6,4.0 50.0,4.2 50.0,5.5 51.4,7.0 51.4,16.6 50.0,18.4 48.8,20.1 47.4,21.9 45.9,23.7 37.4,23.7 37.4,15.2 38.9,12.3 40.0,8.2 41.5,5.3 43.2,5.3 44.7,3.8" fill="#1400ff"/>
<polygon points="55.8,2.3 59.6,2.3 59.6,3.8 62.5,4.1 62.5,5.8 64.0,7.0 65.4,8.5 65.4,15.2 66.9,15.5 66.9,18.1 68.1,18.4 68.1,23.7 60.2,23.7 59.9,22.2 57.3,21.9 57.0,20.1 55.5,18.7 54.0,17.5 54.0,4.4 55.8,3.8" fill="#1400ff"/>
<polygon points="84.4,1.1 86.4,2.6 87.9,4.1 89.3,5.3 89.3,7.9 90.8,7.9 90.8,5.3 92.3,2.6 94.6,2.3 95.2,1.1 97.5,1.1 99.3,2.6 100.7,4.4 100.7,5.8 102.8,8.2 103.4,11.1 104.5,12.3 104.8,14.9 106.0,15.2 106.0,24.7 100.7,24.8 100.4,26.0 99.3,26.0 98.7,25.1 96.3,24.8 95.2,23.4 93.7,21.9 92.8,19.9 92.3,17.5 91.4,16.6 89.3,16.6 88.2,17.5 87.9,19.9 86.4,21.9 85.8,23.4 84.1,24.8 83.5,26.0 77.1,26.0 76.5,25.1 74.2,24.8 74.0,19.3 75.3,18.7 75.3,14.0 76.5,13.7 77.7,12.3 78.0,8.2 79.4,7.6 79.7,5.3 81.2,4.1 82.6,2.6" fill="#1400ff"/>
<polygon points="123.8,1.1 125.9,2.6 127.0,2.9 127.0,6.7 128.8,6.7 128.8,2.9 130.8,2.3 132.0,1.1 133.8,1.1 135.5,2.6 137.3,4.4 138.7,5.8 140.2,7.6 140.8,10.5 142.2,12.3 142.5,14.6 144.0,15.2 144.0,21.6 146.6,23.9 145.4,24.8 142.5,25.1 141.9,26.0 134.3,26.0 132.9,24.5 132.6,21.9 131.4,20.4 130.3,18.7 128.8,17.5 128.8,15.2 127.0,15.2 127.0,18.1 125.6,19.9 124.4,21.9 124.1,24.5 122.7,26.0 121.8,27.4 113.3,27.4 111.9,26.0 110.1,24.2 112.7,21.9 113.0,19.6 111.6,18.7 113.0,17.5 113.0,14.0 114.5,13.7 115.7,12.3 116.0,10.5 117.4,7.6 118.6,5.8 118.9,4.1 121.5,3.8 122.7,2.3" fill="#1400ff"/>
<polygon points="161.0,2.3 164.8,2.3 165.0,3.8 165.0,6.7 166.5,6.7 166.8,4.1 168.0,2.6 170.6,2.3 170.9,3.8 173.5,4.1 173.8,6.4 175.3,6.7 176.7,8.5 176.7,11.1 178.8,12.6 180.2,14.0 180.5,19.3 179.4,20.7 179.4,21.9 183.4,22.2 184.6,23.7 183.1,25.1 182.3,26.0 174.1,26.3 172.1,24.5 170.9,22.2 169.4,20.4 168.0,18.7 167.7,14.0 166.8,12.6 165.0,12.3 165.0,17.5 163.6,19.3 162.4,20.7 161.0,22.2 160.7,26.0 159.5,27.4 150.2,27.4 148.1,25.1 149.3,23.4 150.7,22.2 151.0,15.5 152.5,14.0 154.0,12.6 155.4,11.1 156.9,9.6 158.0,8.2 158.0,5.3 159.5,3.8" fill="#1400ff"/>
<polygon points="200.1,4.0 202.8,4.0 202.8,14.7 201.3,15.0 199.5,16.6 197.9,17.8 196.1,19.6 195.8,24.8 194.2,24.8 194.2,20.8 193.0,20.2 193.0,17.2 194.5,15.6 196.1,15.3 197.6,13.8 199.1,12.3 200.4,11.3 200.4,8.3 198.8,8.0 198.8,6.7 200.1,6.1" fill="#1400ff"/>
<polygon points="186.3,23.3 195.8,23.0 195.8,24.8 192.7,25.1 192.7,26.1 188.1,26.1 186.0,24.5" fill="#1400ff"/>
<polygon points="205.9,5.2 208.7,5.2 208.7,7.7 207.4,8.0 207.4,10.7 208.7,11.0 208.7,13.2 210.2,13.8 210.2,14.7 212.9,15.0 212.9,16.2 214.2,16.9 214.2,17.8 212.9,18.1 212.9,19.3 211.4,19.3 211.4,17.8 210.2,16.2 208.7,15.9 207.4,15.0 205.9,14.7" fill="#1400ff"/>
<polygon points="212.9,22.1 220.3,22.1 220.3,23.6 222.1,23.6 222.1,24.8 216.0,24.8 216.0,23.6 212.9,23.6" fill="#1400ff"/>
<polygon points="85.8,2.5 87.5,2.5 88.5,5.5 86.5,5.5" fill="url(#gY)"/>
<polygon points="91.5,4.8 93.5,2.2 95.5,2.2 93.2,5.3" fill="url(#gY)"/>
<polygon points="122.5,2.2 125.8,1.7 126.3,6.7 124.0,6.7" fill="url(#gY)"/>
<polygon points="127.5,6.7 129.0,3.0 131.0,1.2 133.5,2.5 132.0,5.5 129.5,6.7" fill="url(#gY)"/>
<polygon points="160.0,3.0 163.3,2.7 163.6,6.2 161.5,6.2" fill="url(#gY)"/>
<polygon points="165.8,6.2 167.5,2.5 170.8,3.0 170.0,5.3 167.5,6.2" fill="url(#gY)"/>
<polygon points="199.4,4.0 202.0,4.0 202.0,6.6 199.4,6.6" fill="url(#gY)"/>
<polygon points="205.2,5.0 208.0,5.0 208.0,7.2 205.2,7.2" fill="url(#gY)"/>
</g>
<text x="1.9" y="5.7" font-size="5.2" font-weight="bold" fill="#fff" textLength="1.9" lengthAdjust="spacingAndGlyphs">L</text>
<text x="219.3" y="5.6" font-size="5.2" font-weight="bold" fill="#fff" textLength="2.5" lengthAdjust="spacingAndGlyphs">R</text>
<rect x="14.0" y="17.6" width="10.0" height="10.8" fill="#000"/>
<text x="17.0" y="24.0" font-size="7.7" font-weight="bold" fill="#fff" textLength="4.7" lengthAdjust="spacingAndGlyphs">i)</text>
</g>
<rect x="482.7" y="407.2" width="27.6" height="105.4" fill="#00b050" fill-opacity="0.220"/>
<rect x="510.3" y="407.2" width="6.9" height="105.4" fill="#ff0000" fill-opacity="0.310"/>
<rect x="517.2" y="407.2" width="35.2" height="105.4" fill="#ff0000" fill-opacity="0.215"/>
<rect x="552.3" y="407.2" width="13.1" height="105.4" fill="#ff0000" fill-opacity="0.135"/>
<rect x="565.4" y="407.2" width="6.9" height="105.4" fill="#ff00ff" fill-opacity="0.215"/>
<rect x="572.3" y="407.2" width="13.8" height="105.4" fill="#ff00ff" fill-opacity="0.120"/>
<rect x="586.1" y="407.2" width="27.6" height="105.4" fill="#ffff00" fill-opacity="0.440"/>
<rect x="613.7" y="407.2" width="27.6" height="105.4" fill="#ffff00" fill-opacity="0.150"/>
<rect x="641.2" y="407.2" width="41.4" height="105.4" fill="#0000ff" fill-opacity="0.170"/>
<line x1="481.40" y1="512.60" x2="682.60" y2="512.60" stroke="#777" stroke-width="0.5" opacity="0.75"/>
<text x="479.2" y="514.45" font-size="4.3" fill="#222" text-anchor="end">0,0</text>
<line x1="481.40" y1="486.25" x2="682.60" y2="486.25" stroke="#444" stroke-width="0.45" opacity="0.75"/>
<text x="479.2" y="488.10" font-size="4.3" fill="#222" text-anchor="end">10,0</text>
<line x1="481.40" y1="459.90" x2="682.60" y2="459.90" stroke="#444" stroke-width="0.45" opacity="0.75"/>
<text x="479.2" y="461.75" font-size="4.3" fill="#222" text-anchor="end">20,0</text>
<line x1="481.40" y1="433.55" x2="682.60" y2="433.55" stroke="#444" stroke-width="0.45" opacity="0.75"/>
<text x="479.2" y="435.40" font-size="4.3" fill="#222" text-anchor="end">30,0</text>
<line x1="481.40" y1="407.20" x2="682.60" y2="407.20" stroke="#444" stroke-width="0.45" opacity="0.75"/>
<text x="479.2" y="409.05" font-size="4.3" fill="#222" text-anchor="end">40,0</text>
<line x1="493.04" y1="512.60" x2="493.04" y2="428.28" stroke="#666" stroke-width="0.35" opacity="0.75"/>
<line x1="499.93" y1="512.60" x2="499.93" y2="480.98" stroke="#666" stroke-width="0.35" opacity="0.75"/>
<line x1="513.72" y1="512.60" x2="513.72" y2="508.65" stroke="#666" stroke-width="0.35" opacity="0.75"/>
<line x1="541.29" y1="512.60" x2="541.29" y2="509.97" stroke="#666" stroke-width="0.35" opacity="0.75"/>
<line x1="548.18" y1="512.60" x2="548.18" y2="475.71" stroke="#666" stroke-width="0.35" opacity="0.75"/>
<line x1="555.08" y1="512.60" x2="555.08" y2="477.03" stroke="#666" stroke-width="0.35" opacity="0.75"/>
<line x1="561.97" y1="512.60" x2="561.97" y2="463.85" stroke="#666" stroke-width="0.35" opacity="0.75"/>
<line x1="672.26" y1="512.60" x2="672.26" y2="478.35" stroke="#666" stroke-width="0.35" opacity="0.75"/>
<line x1="510.27" y1="407.20" x2="510.27" y2="512.60" stroke="#555" stroke-width="0.55" opacity="0.85"/>
<line x1="517.17" y1="407.20" x2="517.17" y2="512.60" stroke="#555" stroke-width="0.55" opacity="0.85"/>
<line x1="552.33" y1="407.20" x2="552.33" y2="512.60" stroke="#555" stroke-width="0.55" opacity="0.85"/>
<line x1="565.42" y1="407.20" x2="565.42" y2="512.60" stroke="#777" stroke-width="0.4" opacity="0.85"/>
<line x1="572.31" y1="407.20" x2="572.31" y2="512.60" stroke="#777" stroke-width="0.4" opacity="0.85"/>
<line x1="586.10" y1="407.20" x2="586.10" y2="512.60" stroke="#777" stroke-width="0.4" opacity="0.85"/>
<line x1="613.67" y1="407.20" x2="613.67" y2="512.60" stroke="#777" stroke-width="0.55" opacity="0.85"/>
<line x1="641.24" y1="407.20" x2="641.24" y2="512.60" stroke="#777" stroke-width="0.4" opacity="0.85"/>
<rect x="482.7" y="407.2" width="199.9" height="105.4" fill="none" stroke="#999" stroke-width="0.5"/>
<line x1="482.70" y1="512.60" x2="482.70" y2="530.50" stroke="#999" stroke-width="0.6"/>
<line x1="489.59" y1="512.60" x2="489.59" y2="523.10" stroke="#bdbdbd" stroke-width="0.5"/>
<line x1="496.49" y1="512.60" x2="496.49" y2="523.10" stroke="#bdbdbd" stroke-width="0.5"/>
<line x1="503.38" y1="512.60" x2="503.38" y2="523.10" stroke="#bdbdbd" stroke-width="0.5"/>
<line x1="510.27" y1="512.60" x2="510.27" y2="530.50" stroke="#999" stroke-width="0.6"/>
<line x1="517.17" y1="512.60" x2="517.17" y2="530.50" stroke="#999" stroke-width="0.6"/>
<line x1="524.06" y1="512.60" x2="524.06" y2="523.10" stroke="#bdbdbd" stroke-width="0.5"/>
<line x1="530.95" y1="512.60" x2="530.95" y2="523.10" stroke="#bdbdbd" stroke-width="0.5"/>
<line x1="537.84" y1="512.60" x2="537.84" y2="523.10" stroke="#bdbdbd" stroke-width="0.5"/>
<line x1="544.74" y1="512.60" x2="544.74" y2="523.10" stroke="#bdbdbd" stroke-width="0.5"/>
<line x1="551.63" y1="512.60" x2="551.63" y2="530.50" stroke="#999" stroke-width="0.6"/>
<line x1="558.52" y1="512.60" x2="558.52" y2="523.10" stroke="#bdbdbd" stroke-width="0.5"/>
<line x1="565.42" y1="512.60" x2="565.42" y2="530.50" stroke="#999" stroke-width="0.6"/>
<line x1="572.31" y1="512.60" x2="572.31" y2="530.50" stroke="#999" stroke-width="0.6"/>
<line x1="579.20" y1="512.60" x2="579.20" y2="523.10" stroke="#bdbdbd" stroke-width="0.5"/>
<line x1="586.10" y1="512.60" x2="586.10" y2="530.50" stroke="#999" stroke-width="0.6"/>
<line x1="592.99" y1="512.60" x2="592.99" y2="523.10" stroke="#bdbdbd" stroke-width="0.5"/>
<line x1="599.88" y1="512.60" x2="599.88" y2="523.10" stroke="#bdbdbd" stroke-width="0.5"/>
<line x1="606.78" y1="512.60" x2="606.78" y2="523.10" stroke="#bdbdbd" stroke-width="0.5"/>
<line x1="613.67" y1="512.60" x2="613.67" y2="530.50" stroke="#999" stroke-width="0.6"/>
<line x1="620.56" y1="512.60" x2="620.56" y2="523.10" stroke="#bdbdbd" stroke-width="0.5"/>
<line x1="627.46" y1="512.60" x2="627.46" y2="523.10" stroke="#bdbdbd" stroke-width="0.5"/>
<line x1="634.35" y1="512.60" x2="634.35" y2="523.10" stroke="#bdbdbd" stroke-width="0.5"/>
<line x1="641.24" y1="512.60" x2="641.24" y2="530.50" stroke="#999" stroke-width="0.6"/>
<line x1="648.13" y1="512.60" x2="648.13" y2="523.10" stroke="#bdbdbd" stroke-width="0.5"/>
<line x1="655.03" y1="512.60" x2="655.03" y2="523.10" stroke="#bdbdbd" stroke-width="0.5"/>
<line x1="661.92" y1="512.60" x2="661.92" y2="523.10" stroke="#bdbdbd" stroke-width="0.5"/>
<line x1="668.81" y1="512.60" x2="668.81" y2="523.10" stroke="#bdbdbd" stroke-width="0.5"/>
<line x1="675.71" y1="512.60" x2="675.71" y2="523.10" stroke="#bdbdbd" stroke-width="0.5"/>
<line x1="682.60" y1="512.60" x2="682.60" y2="530.50" stroke="#999" stroke-width="0.6"/>
<text transform="translate(487.35,514.1) rotate(-90)" font-size="3.7" fill="#111" text-anchor="end">AV</text>
<text transform="translate(494.24,514.1) rotate(-90)" font-size="3.7" fill="#111" text-anchor="end">AM</text>
<text transform="translate(501.13,514.1) rotate(-90)" font-size="3.7" fill="#111" text-anchor="end">AD</text>
<text transform="translate(508.03,514.1) rotate(-90)" font-size="3.7" fill="#111" text-anchor="end">LD</text>
<text transform="translate(514.92,514.1) rotate(-90)" font-size="3.7" fill="#111" text-anchor="end">MD</text>
<text transform="translate(521.81,514.1) rotate(-90)" font-size="3.7" fill="#111" text-anchor="end">CM</text>
<text transform="translate(528.71,514.1) rotate(-90)" font-size="3.7" fill="#111" text-anchor="end">Pf</text>
<text transform="translate(535.60,514.1) rotate(-90)" font-size="3.7" fill="#111" text-anchor="end">sPf</text>
<text transform="translate(542.49,514.1) rotate(-90)" font-size="3.7" fill="#111" text-anchor="end">CL</text>
<text transform="translate(549.38,514.1) rotate(-90)" font-size="3.7" fill="#111" text-anchor="end">CeM</text>
<text transform="translate(556.28,514.1) rotate(-90)" font-size="3.7" fill="#111" text-anchor="end">Pv</text>
<text transform="translate(563.17,514.1) rotate(-90)" font-size="3.7" fill="#111" text-anchor="end">MV</text>
<text transform="translate(570.06,514.1) rotate(-90)" font-size="3.7" fill="#111" text-anchor="end">Hb</text>
<text transform="translate(576.96,514.1) rotate(-90)" font-size="3.7" fill="#111" text-anchor="end">Li</text>
<text transform="translate(583.85,514.1) rotate(-90)" font-size="3.7" fill="#111" text-anchor="end">SG</text>
<text transform="translate(590.74,514.1) rotate(-90)" font-size="3.7" fill="#111" text-anchor="end">LP</text>
<text transform="translate(597.64,514.1) rotate(-90)" font-size="3.7" fill="#111" text-anchor="end">Po</text>
<text transform="translate(604.53,514.1) rotate(-90)" font-size="3.7" fill="#111" text-anchor="end">MGN</text>
<text transform="translate(611.42,514.1) rotate(-90)" font-size="3.7" fill="#111" text-anchor="end">LGN</text>
<text transform="translate(618.32,514.1) rotate(-90)" font-size="3.7" fill="#111" text-anchor="end">PuA</text>
<text transform="translate(625.21,514.1) rotate(-90)" font-size="3.7" fill="#111" text-anchor="end">PuI</text>
<text transform="translate(632.10,514.1) rotate(-90)" font-size="3.7" fill="#111" text-anchor="end">PuL</text>
<text transform="translate(638.99,514.1) rotate(-90)" font-size="3.7" fill="#111" text-anchor="end">PuM</text>
<text transform="translate(645.89,514.1) rotate(-90)" font-size="3.7" fill="#111" text-anchor="end">VPL</text>
<text transform="translate(652.78,514.1) rotate(-90)" font-size="3.7" fill="#111" text-anchor="end">VPM</text>
<text transform="translate(659.67,514.1) rotate(-90)" font-size="3.7" fill="#111" text-anchor="end">VPI</text>
<text transform="translate(666.57,514.1) rotate(-90)" font-size="3.7" fill="#111" text-anchor="end">VL</text>
<text transform="translate(673.46,514.1) rotate(-90)" font-size="3.7" fill="#111" text-anchor="end">VA</text>
<text transform="translate(680.35,514.1) rotate(-90)" font-size="3.7" fill="#111" text-anchor="end">VM</text>
<text x="496.49" y="528.2" font-size="4.4" fill="#4a4a4a" text-anchor="middle">Anterior</text>
<text x="513.72" y="528.2" font-size="4.4" fill="#4a4a4a" text-anchor="middle">MD</text>
<text x="534.40" y="528.2" font-size="4.4" fill="#4a4a4a" text-anchor="middle">Intralaminar</text>
<text x="559.32" y="528.2" font-size="4.4" fill="#4a4a4a" text-anchor="middle">midline</text>
<text x="568.86" y="528.2" font-size="4.4" fill="#4a4a4a" text-anchor="middle">Hb</text>
<text x="579.20" y="528.2" font-size="4.4" fill="#4a4a4a" text-anchor="middle">LI/SG</text>
<text x="599.88" y="528.2" font-size="4.4" fill="#4a4a4a" text-anchor="middle">posterior G</text>
<text x="627.46" y="528.2" font-size="4.4" fill="#4a4a4a" text-anchor="middle">Pulvinar</text>
<text x="661.92" y="528.2" font-size="4.4" fill="#4a4a4a" text-anchor="middle">Lateral</text>
<text transform="translate(467.1,477.4) rotate(-90)" font-size="3.6" font-weight="bold" fill="#444" text-anchor="middle">Neurosynth Topic Percent Overlap</text>
<polyline points="486.15,512.60 493.04,428.28 499.93,480.98 506.83,512.60 513.72,508.65 520.61,512.60 527.51,512.60 534.40,512.60 541.29,509.97 548.18,475.71 555.08,477.03 561.97,463.85 568.86,512.60 575.76,512.60 582.65,512.60 589.54,512.60 596.44,512.60 603.33,512.60 610.22,512.60 617.12,512.60 624.01,512.60 630.90,512.60 637.79,512.60 644.69,512.60 651.58,512.60 658.47,512.60 665.37,511.28 672.26,478.35 679.15,512.60" fill="none" stroke="#ff0000" stroke-width="1.3" stroke-linejoin="round" stroke-linecap="round"/>
<polyline points="486.15,512.60 493.04,461.22 499.93,496.79 506.83,512.60 513.72,510.49 520.61,512.60 527.51,512.60 534.40,512.60 541.29,511.28 548.18,488.88 555.08,483.62 561.97,479.66 568.86,512.60 575.76,512.60 582.65,512.60 589.54,512.60 596.44,512.60 603.33,512.60 610.22,512.60 617.12,512.60 624.01,512.60 630.90,512.60 637.79,512.60 644.69,512.60 651.58,512.60 658.47,512.60 665.37,512.07 672.26,502.06 679.15,512.60" fill="none" stroke="#0000ff" stroke-width="1.3" stroke-linejoin="round" stroke-linecap="round"/>
<line x1="590.20" y1="411.90" x2="606.80" y2="411.90" stroke="#ff0000" stroke-width="1.3"/>
<line x1="590.20" y1="420.90" x2="606.80" y2="420.90" stroke="#0000ff" stroke-width="1.3"/>
<text x="608.0" y="413.5" font-size="4.6" fill="#333" textLength="30.5" lengthAdjust="spacingAndGlyphs">Right Thalamus</text>
<text x="608.0" y="422.5" font-size="4.6" fill="#333" textLength="28" lengthAdjust="spacingAndGlyphs">Left Thalamus</text>
<text x="499.0" y="418.6" font-size="5.3" font-weight="bold" fill="#111" text-anchor="middle">Lfro #10</text>
<text x="497.8" y="538.8" font-size="8.0" fill="#111" textLength="150.4" lengthAdjust="spacingAndGlyphs" style="white-space:pre">language_reading_word; frequency_hz_ms;</text>
<text x="490.5" y="548.5" font-size="8.0" fill="#111" textLength="165.0" lengthAdjust="spacingAndGlyphs" style="white-space:pre">gyrus_frontal_inferior; method_group_approach</text>
<rect x="273.0" y="553.0" width="127.6" height="18.0" fill="#000"/>
<rect x="288.3" y="562" width="112.1" height="9" fill="url(#gBar)"/>
<text x="280.2" y="560.7" font-size="5" fill="#fff">z=</text>
<text x="287.8" y="560.9" font-size="6.8" fill="#fff">0</text>
<text x="400.2" y="560.9" font-size="6.8" fill="#fff" text-anchor="end" textLength="14" lengthAdjust="spacingAndGlyphs">16.4</text>
</svg>
</body>
</html>
